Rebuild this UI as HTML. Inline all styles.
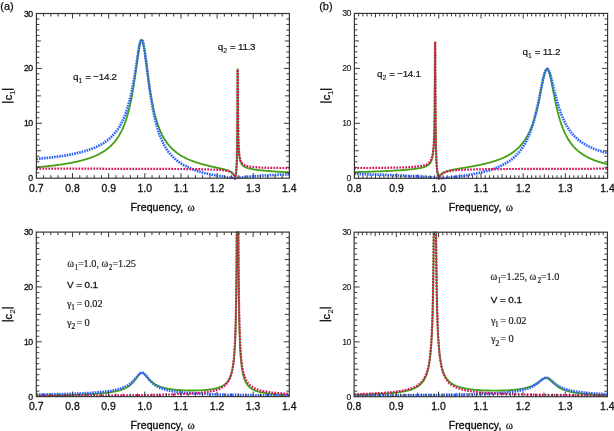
<!DOCTYPE html>
<html><head><meta charset="utf-8"><title>Fano</title><style>
html,body{margin:0;padding:0;background:#fff;}
body{width:614px;height:431px;overflow:hidden;}
svg{display:block;filter:blur(0.3px);}
text{font-family:"Liberation Sans",sans-serif;fill:#1a1a1a;}
.tl{font-size:10.4px;stroke:#111;fill:#111;stroke-width:0.3px;letter-spacing:0.05px;}
.yl{font-size:8.7px;letter-spacing:-0.6px;stroke:#111;fill:#111;stroke-width:0.3px;}
.yr{stroke-width:0.1px;}
.xt{font-size:10.6px;letter-spacing:0.05px;stroke:#111;stroke-width:0.35px;fill:#111;}
.om{font-family:"Liberation Serif",serif;font-size:11px;stroke:#111;stroke-width:0.25px;fill:#111;}
.bar{fill:#111;}
.ytc{font-size:11px;stroke:#111;fill:#111;stroke-width:0.35px;}
.yts{font-size:7.6px;stroke:#111;stroke-width:0.1px;}
.pl{font-size:11px;stroke:#111;fill:#111;stroke-width:0.25px;}
.q{font-size:9.8px;letter-spacing:-0.25px;stroke:#111;fill:#111;stroke-width:0.2px;}
.qs{font-size:7px;stroke-width:0.1px;}
.pm{font-family:"Liberation Serif",serif;font-size:10.3px;}
.pw{font-size:10.8px;}
.ps{font-size:7.4px;}
.pg{font-size:8px;}
.pv{font-size:9.8px;letter-spacing:-0.05px;stroke:#111;fill:#111;stroke-width:0.3px;}
</style></head><body>
<svg width="614" height="431" viewBox="0 0 614 431">
<defs><clipPath id="clip_at"><rect x="36.40" y="13.00" width="253.00" height="166.70"/></clipPath>
<clipPath id="clip_bt"><rect x="354.40" y="12.90" width="253.20" height="166.90"/></clipPath>
<clipPath id="clip_ab"><rect x="36.30" y="231.60" width="253.00" height="166.50"/></clipPath>
<clipPath id="clip_bb"><rect x="354.10" y="231.70" width="253.30" height="166.50"/></clipPath></defs>
<rect width="614" height="431" fill="#fff"/>
<g clip-path="url(#clip_at)">
<path d="M36.4,167.3 37.1,167.2 37.8,167.1 38.4,167.1 39.1,167.0 39.8,167.0 40.5,166.9 41.1,166.8 41.8,166.8 42.5,166.7 43.2,166.6 43.8,166.6 44.5,166.5 45.2,166.4 45.9,166.4 46.5,166.3 47.2,166.2 47.9,166.2 48.6,166.1 49.2,166.0 49.9,165.9 50.6,165.9 51.3,165.8 51.9,165.7 52.6,165.6 53.3,165.5 54.0,165.5 54.6,165.4 55.3,165.3 56.0,165.2 56.7,165.1 57.3,165.0 58.0,164.9 58.7,164.8 59.4,164.7 60.0,164.6 60.7,164.6 61.4,164.5 62.1,164.4 62.7,164.3 63.4,164.1 64.1,164.0 64.8,163.9 65.4,163.8 66.1,163.7 66.8,163.6 67.5,163.5 68.1,163.4 68.8,163.2 69.5,163.1 70.2,163.0 70.7,162.9 71.2,162.8 71.7,162.7 72.2,162.6 72.7,162.5 73.2,162.4 73.7,162.3 74.2,162.2 74.7,162.1 75.2,162.0 75.7,161.9 76.2,161.8 76.7,161.7 77.2,161.5 77.8,161.4 78.3,161.3 78.8,161.2 79.3,161.1 79.8,160.9 80.3,160.8 80.8,160.7 81.3,160.6 81.8,160.4 82.3,160.3 82.8,160.1 83.3,160.0 83.8,159.9 84.3,159.7 84.8,159.6 85.3,159.4 85.9,159.3 86.4,159.1 86.9,159.0 87.4,158.8 87.9,158.6 88.4,158.5 88.9,158.3 89.4,158.1 89.9,158.0 90.4,157.8 90.9,157.6 91.4,157.4 91.9,157.2 92.4,157.0 92.9,156.8 93.4,156.6 94.0,156.4 94.5,156.2 95.0,156.0 95.5,155.8 96.0,155.5 96.5,155.3 97.0,155.1 97.5,154.8 98.0,154.6 98.5,154.3 99.0,154.1 99.5,153.8 100.0,153.6 100.5,153.3 101.0,153.0 101.5,152.7 102.1,152.4 102.6,152.1 103.1,151.8 103.6,151.5 104.1,151.2 104.6,150.8 105.1,150.5 105.6,150.1 106.1,149.8 106.6,149.4 107.1,149.0 107.6,148.6 108.0,148.3 108.3,148.1 108.6,147.8 109.0,147.5 109.3,147.2 109.7,146.9 110.0,146.6 110.3,146.3 110.7,146.0 111.0,145.7 111.3,145.4 111.7,145.0 112.0,144.7 112.4,144.3 112.7,144.0 113.0,143.6 113.4,143.3 113.7,142.9 114.0,142.5 114.4,142.1 114.7,141.7 115.1,141.3 115.4,140.9 115.7,140.4 116.1,140.0 116.4,139.5 116.7,139.1 117.1,138.6 117.4,138.1 117.8,137.6 118.1,137.1 118.4,136.6 118.8,136.0 119.1,135.5 119.4,134.9 119.8,134.3 120.1,133.7 120.5,133.1 120.8,132.5 121.1,131.8 121.5,131.2 121.8,130.5 122.1,129.8 122.5,129.0 122.8,128.3 123.2,127.5 123.5,126.7 123.8,125.9 124.2,125.1 124.5,124.2 124.7,123.8 124.8,123.3 125.0,122.9 125.2,122.4 125.3,121.9 125.5,121.4 125.7,121.0 125.9,120.5 126.0,120.0 126.2,119.4 126.4,118.9 126.5,118.4 126.7,117.9 126.9,117.3 127.0,116.8 127.2,116.2 127.4,115.6 127.5,115.0 127.7,114.4 127.9,113.8 128.0,113.2 128.2,112.6 128.4,112.0 128.6,111.3 128.7,110.7 128.9,110.0 129.1,109.3 129.2,108.6 129.4,107.9 129.6,107.2 129.7,106.5 129.9,105.7 130.1,105.0 130.2,104.2 130.4,103.4 130.6,102.6 130.7,101.8 130.9,101.3 131.0,100.8 131.1,100.3 131.2,99.8 131.3,99.3 131.4,98.7 131.5,98.2 131.6,97.7 131.7,97.2 131.8,96.6 131.9,96.1 132.0,95.6 132.1,95.0 132.2,94.5 132.3,94.0 132.3,93.5 132.4,93.0 132.5,92.4 132.6,91.9 132.7,91.3 132.8,90.8 132.9,90.3 133.0,89.8 133.1,89.2 133.2,88.7 133.2,88.2 133.3,87.6 133.4,87.1 133.5,86.5 133.6,86.0 133.7,85.4 133.8,84.9 133.8,84.3 133.9,83.8 134.0,83.2 134.1,82.7 134.2,82.2 134.3,81.6 134.3,81.1 134.4,80.6 134.5,80.0 134.6,79.5 134.7,78.9 134.7,78.4 134.8,77.8 134.9,77.3 135.0,76.7 135.0,76.2 135.1,75.6 135.2,75.1 135.3,74.5 135.4,73.9 135.4,73.4 135.5,72.8 135.6,72.2 135.7,71.7 135.7,71.1 135.8,70.6 135.9,70.1 136.0,69.5 136.0,69.0 136.1,68.5 136.2,67.9 136.2,67.4 136.3,66.9 136.4,66.3 136.5,65.8 136.5,65.2 136.6,64.7 136.7,64.2 136.8,63.6 136.8,63.1 136.9,62.6 137.0,62.0 137.0,61.5 137.1,60.9 137.2,60.4 137.3,59.9 137.3,59.3 137.4,58.8 137.5,58.3 137.6,57.7 137.6,57.1 137.7,56.5 137.8,56.0 137.9,55.4 138.0,54.9 138.0,54.3 138.1,53.7 138.2,53.2 138.3,52.7 138.4,52.1 138.4,51.6 138.5,51.1 138.6,50.5 138.7,50.0 138.8,49.4 138.9,48.9 138.9,48.4 139.0,47.8 139.1,47.3 139.2,46.7 139.3,46.2 139.4,45.7 139.5,45.2 139.6,44.7 139.7,44.2 139.9,43.6 140.0,43.1 140.1,42.7 140.2,42.2 140.4,41.7 140.5,41.2 140.7,40.8 140.9,40.4 141.1,40.0 141.4,39.8 141.9,39.9 142.2,40.2 142.4,40.6 142.5,41.0 142.7,41.5 142.8,42.0 143.0,42.5 143.1,42.9 143.2,43.5 143.3,44.0 143.4,44.5 143.6,45.0 143.7,45.5 143.8,46.1 143.8,46.6 143.9,47.1 144.0,47.7 144.1,48.2 144.2,48.7 144.3,49.3 144.4,49.8 144.5,50.4 144.6,50.9 144.6,51.4 144.7,52.0 144.8,52.5 144.9,53.1 144.9,53.6 145.0,54.2 145.1,54.7 145.2,55.3 145.3,55.9 145.3,56.4 145.4,57.0 145.5,57.5 145.6,58.0 145.6,58.6 145.7,59.1 145.8,59.7 145.8,60.2 145.9,60.8 146.0,61.3 146.1,61.9 146.1,62.4 146.2,63.0 146.3,63.5 146.4,64.1 146.4,64.7 146.5,65.2 146.6,65.8 146.6,66.3 146.7,66.9 146.8,67.4 146.9,68.0 146.9,68.6 147.0,69.1 147.1,69.7 147.1,70.2 147.2,70.8 147.3,71.3 147.4,71.9 147.4,72.4 147.5,73.0 147.6,73.5 147.7,74.1 147.7,74.6 147.8,75.1 147.9,75.7 147.9,76.2 148.0,76.8 148.1,77.3 148.2,77.8 148.2,78.4 148.3,79.0 148.4,79.5 148.5,80.1 148.6,80.7 148.6,81.2 148.7,81.8 148.8,82.4 148.9,82.9 149.0,83.5 149.0,84.0 149.1,84.6 149.2,85.1 149.3,85.6 149.4,86.2 149.4,86.7 149.5,87.2 149.6,87.7 149.7,88.3 149.8,88.9 149.9,89.4 149.9,90.0 150.0,90.5 150.1,91.1 150.2,91.6 150.3,92.2 150.4,92.7 150.5,93.2 150.5,93.7 150.6,94.3 150.7,94.8 150.8,95.3 150.9,95.9 151.0,96.4 151.1,96.9 151.2,97.5 151.3,98.0 151.4,98.5 151.5,99.0 151.6,99.5 151.7,100.1 151.8,100.6 151.9,101.1 152.0,101.7 152.1,102.2 152.2,102.7 152.3,103.2 152.4,103.7 152.5,104.2 152.7,105.3 152.9,106.1 153.0,106.9 153.2,107.7 153.4,108.4 153.5,109.2 153.7,109.9 153.9,110.7 154.0,111.4 154.2,112.1 154.4,112.8 154.5,113.5 154.7,114.1 154.9,114.8 155.1,115.4 155.2,116.1 155.4,116.7 155.6,117.3 155.7,117.9 155.9,118.5 156.1,119.1 156.2,119.6 156.4,120.2 156.6,120.7 156.7,121.3 156.9,121.8 157.1,122.4 157.2,122.9 157.4,123.4 157.6,123.9 157.8,124.4 157.9,124.9 158.1,125.3 158.3,125.8 158.4,126.3 158.6,126.7 158.8,127.2 158.9,127.6 159.1,128.1 159.4,128.9 159.8,129.7 160.1,130.5 160.5,131.3 160.8,132.1 161.1,132.8 161.5,133.5 161.8,134.2 162.1,134.9 162.5,135.5 162.8,136.2 163.2,136.8 163.5,137.4 163.8,138.0 164.2,138.6 164.5,139.1 164.8,139.7 165.2,140.2 165.5,140.7 165.9,141.2 166.2,141.7 166.5,142.2 166.9,142.7 167.2,143.1 167.5,143.6 167.9,144.0 168.2,144.4 168.6,144.9 168.9,145.3 169.2,145.7 169.6,146.1 169.9,146.4 170.2,146.8 170.6,147.2 170.9,147.5 171.3,147.9 171.6,148.2 171.9,148.6 172.3,148.9 172.6,149.2 172.9,149.5 173.3,149.8 173.6,150.1 174.0,150.4 174.3,150.7 174.6,151.0 175.0,151.3 175.3,151.6 175.6,151.8 176.0,152.1 176.5,152.5 177.0,152.9 177.5,153.3 178.0,153.6 178.5,154.0 179.0,154.3 179.5,154.6 180.0,155.0 180.5,155.3 181.0,155.6 181.6,155.9 182.1,156.2 182.6,156.5 183.1,156.8 183.6,157.0 184.1,157.3 184.6,157.6 185.1,157.8 185.6,158.1 186.1,158.3 186.6,158.6 187.1,158.8 187.6,159.0 188.1,159.3 188.6,159.5 189.1,159.7 189.7,159.9 190.2,160.1 190.7,160.3 191.2,160.5 191.7,160.7 192.2,160.9 192.7,161.1 193.2,161.3 193.7,161.5 194.2,161.7 194.7,161.8 195.2,162.0 195.7,162.2 196.2,162.4 196.7,162.5 197.2,162.7 197.8,162.8 198.3,163.0 198.8,163.2 199.3,163.3 199.8,163.5 200.3,163.6 200.8,163.8 201.3,163.9 201.8,164.0 202.3,164.2 202.8,164.3 203.3,164.5 203.8,164.6 204.3,164.7 204.8,164.9 205.3,165.0 205.9,165.1 206.4,165.2 206.9,165.4 207.4,165.5 207.9,165.6 208.4,165.7 208.9,165.9 209.4,166.0 209.9,166.1 210.4,166.2 210.9,166.3 211.4,166.5 211.9,166.6 212.4,166.7 212.9,166.8 213.4,166.9 214.0,167.0 214.5,167.1 215.0,167.2 215.5,167.4 216.0,167.5 216.5,167.6 217.0,167.7 217.5,167.8 218.0,167.9 218.5,168.0 219.0,168.1 219.5,168.3 220.0,168.4 220.5,168.5 221.0,168.6 221.6,168.7 222.1,168.8 222.6,169.0 223.1,169.1 223.6,169.2 224.1,169.4 224.6,169.5 225.1,169.6 225.6,169.8 226.1,169.9 226.6,170.1 227.1,170.2 227.5,170.4 228.0,170.5 228.4,170.7 228.8,170.9 229.3,171.1 229.7,171.3 230.1,171.5 230.5,171.7 230.9,171.9 231.2,172.1 231.6,172.4 231.9,172.6 232.2,172.9 232.6,173.2 232.9,173.5 233.1,173.8 233.4,174.2 233.7,174.5 233.9,174.9 234.1,175.3 234.3,175.7 234.5,176.1 234.7,176.6 234.8,177.0 235.0,177.5 235.1,177.9 235.3,177.5 235.5,177.1 235.6,176.5 235.7,176.0 235.7,175.5 235.8,175.0 235.9,174.4 236.0,173.8 236.0,173.3 236.1,172.7 236.2,172.1 236.2,171.5 236.3,171.0 236.3,170.4 236.4,169.8 236.4,169.2 236.5,168.6 236.5,168.0 236.5,167.4 236.6,166.7 236.6,166.2 236.6,165.6 236.6,165.0 236.7,164.4 236.7,163.8 236.7,163.3 236.7,162.7 236.8,162.1 236.8,161.5 236.8,160.9 236.8,160.3 236.9,159.7 236.9,159.1 236.9,158.5 236.9,157.9 236.9,157.3 236.9,156.7 236.9,156.1 237.0,155.5 237.0,154.9 237.0,154.3 237.0,153.7 237.0,153.1 237.0,152.5 237.0,151.9 237.1,151.3 237.1,150.7 237.1,150.1 237.1,149.5 237.1,148.9 237.1,148.3 237.1,147.7 237.1,147.0 237.1,146.4 237.1,145.8 237.1,145.2 237.2,144.5 237.2,143.9 237.2,143.3 237.2,142.7 237.2,142.1 237.2,141.5 237.2,140.8 237.2,140.2 237.2,139.6 237.2,139.0 237.2,138.3 237.2,137.7 237.2,137.1 237.3,136.4 237.3,135.8 237.3,135.2 237.3,134.5 237.3,133.9 237.3,133.3 237.3,132.6 237.3,131.9 237.3,131.3 237.3,130.7 237.3,130.1 237.3,129.5 237.3,128.8 237.3,128.2 237.3,127.5 237.3,126.8 237.3,126.1 237.3,125.5 237.3,124.9 237.4,124.3 237.4,123.6 237.4,123.0 237.4,122.3 237.4,121.7 237.4,121.0 237.4,120.4 237.4,119.7 237.4,119.0 237.4,118.4 237.4,117.8 237.4,117.2 237.4,116.6 237.4,116.0 237.4,115.3 237.4,114.7 237.4,114.0 237.4,113.4 237.4,112.7 237.4,112.0 237.4,111.3 237.4,110.7 237.4,110.0 237.4,109.3 237.4,108.5 237.4,107.8 237.5,107.1 237.5,106.4 237.5,105.6 237.5,105.0 237.5,104.4 237.5,103.8 237.5,103.2 237.5,102.6 237.5,102.0 237.5,101.4 237.5,100.7 237.5,100.1 237.5,99.5 237.5,98.8 237.5,98.2 237.5,97.6 237.5,96.9 237.5,96.3 237.5,95.6 237.5,95.0 237.5,94.3 237.5,93.7 237.5,93.0 237.5,92.4 237.5,91.7 237.5,91.0 237.5,90.4 237.5,89.7 237.5,89.1 237.5,88.4 237.5,87.8 237.5,87.1 237.5,86.5 237.5,85.9 237.5,85.2 237.6,84.6 237.6,84.0 237.6,83.3 237.6,82.7 237.6,82.1 237.6,81.5 237.6,80.8 237.6,80.0 237.6,79.3 237.6,78.6 237.6,77.9 237.6,77.3 237.6,76.6 237.6,76.0 237.6,75.4 237.6,74.7 237.6,74.1 237.6,73.5 237.6,72.9 237.6,72.2 237.6,71.6 237.6,71.0 237.6,70.4 237.6,69.8 237.7,69.2 237.7,69.8 237.7,70.4 237.7,71.0 237.7,71.6 237.7,72.3 237.7,72.9 237.7,73.5 237.7,74.2 237.7,74.8 237.7,75.4 237.8,76.0 237.8,76.6 237.8,77.3 237.8,78.0 237.8,78.6 237.8,79.3 237.8,79.9 237.8,80.5 237.8,81.2 237.8,81.8 237.8,82.4 237.8,83.1 237.8,83.7 237.8,84.4 237.8,85.0 237.8,85.7 237.8,86.3 237.8,87.0 237.8,87.6 237.8,88.3 237.8,88.9 237.8,89.5 237.8,90.2 237.8,90.8 237.8,91.5 237.8,92.1 237.9,92.7 237.9,93.4 237.9,94.0 237.9,94.6 237.9,95.2 237.9,95.8 237.9,96.5 237.9,97.1 237.9,97.7 237.9,98.4 237.9,99.1 237.9,99.8 237.9,100.4 237.9,101.1 237.9,101.7 237.9,102.4 237.9,103.0 237.9,103.7 237.9,104.3 237.9,104.9 237.9,105.6 237.9,106.2 237.9,106.8 237.9,107.4 237.9,108.1 238.0,108.7 238.0,109.4 238.0,110.0 238.0,110.6 238.0,111.2 238.0,111.9 238.0,112.5 238.0,113.1 238.0,113.8 238.0,114.4 238.0,115.1 238.0,115.7 238.0,116.4 238.0,117.0 238.0,117.6 238.0,118.2 238.0,118.9 238.0,119.5 238.1,120.2 238.1,120.8 238.1,121.4 238.1,122.0 238.1,122.7 238.1,123.3 238.1,123.9 238.1,124.5 238.1,125.2 238.1,125.8 238.1,126.4 238.1,127.0 238.1,127.6 238.2,128.3 238.2,128.8 238.2,129.5 238.2,130.1 238.2,130.7 238.2,131.3 238.2,131.9 238.2,132.5 238.2,133.2 238.2,133.8 238.3,134.4 238.3,135.0 238.3,135.6 238.3,136.2 238.3,136.8 238.3,137.4 238.3,138.0 238.4,138.6 238.4,139.2 238.4,139.8 238.4,140.4 238.4,141.0 238.4,141.6 238.5,142.2 238.5,142.8 238.5,143.4 238.5,144.0 238.5,144.6 238.6,145.1 238.6,145.7 238.6,146.3 238.6,146.9 238.7,147.5 238.7,148.1 238.7,148.6 238.7,149.2 238.8,149.9 238.8,150.5 238.9,151.1 238.9,151.7 238.9,152.3 239.0,153.0 239.1,153.5 239.1,154.1 239.2,154.7 239.2,155.3 239.3,155.8 239.4,156.4 239.4,156.9 239.5,157.5 239.6,158.0 239.7,158.5 239.8,159.1 239.9,159.6 240.0,160.1 240.1,160.6 240.3,161.0 240.4,161.5 240.6,162.0 240.8,162.4 241.0,162.8 241.2,163.2 241.4,163.6 241.6,164.0 241.8,164.4 242.1,164.7 242.4,165.0 242.7,165.3 243.0,165.6 243.3,165.9 243.7,166.2 244.1,166.4 244.4,166.6 244.8,166.9 245.2,167.1 245.6,167.3 246.1,167.4 246.5,167.6 246.9,167.8 247.4,167.9 247.9,168.1 248.3,168.2 248.9,168.3 249.4,168.5 249.9,168.6 250.4,168.7 250.9,168.8 251.4,168.9 251.9,169.0 252.6,169.1 253.3,169.3 254.0,169.4 254.6,169.5 255.3,169.6 256.0,169.7 256.7,169.8 257.3,169.9 258.0,169.9 258.7,170.0 259.4,170.1 260.0,170.2 260.7,170.3 261.4,170.3 262.1,170.4 262.7,170.5 263.4,170.5 264.1,170.6 264.8,170.7 265.4,170.7 266.1,170.8 266.8,170.8 267.5,170.9 268.1,171.0 268.8,171.0 269.5,171.1 270.2,171.1 270.8,171.2 271.5,171.2 272.2,171.3 272.9,171.3 273.5,171.4 274.2,171.4 274.9,171.5 275.6,171.5 276.2,171.6 276.9,171.6 277.6,171.7 278.3,171.7 278.9,171.7 279.6,171.8 280.3,171.8 281.0,171.9 281.6,171.9 282.3,171.9 283.0,172.0 283.7,172.0 284.3,172.1 285.0,172.1 285.7,172.1 286.4,172.2 287.0,172.2 287.7,172.2 288.4,172.3 289.1,172.3 289.4,172.3" fill="none" stroke="#46a218" stroke-width="1.85" stroke-linejoin="round"/>
<path d="M36.4,159.0 37.1,158.9 37.8,158.9 38.4,158.8 39.1,158.7 39.8,158.7 40.5,158.6 41.1,158.6 41.8,158.5 42.5,158.4 43.2,158.4 43.8,158.3 44.5,158.2 45.2,158.1 45.9,158.1 46.5,158.0 47.2,157.9 47.9,157.9 48.6,157.8 49.2,157.7 49.9,157.6 50.6,157.5 51.3,157.5 51.9,157.4 52.6,157.3 53.3,157.2 54.0,157.1 54.6,157.0 55.3,156.9 56.0,156.9 56.7,156.8 57.3,156.7 58.0,156.6 58.7,156.5 59.4,156.4 60.0,156.3 60.7,156.2 61.4,156.1 62.1,156.0 62.7,155.9 63.4,155.8 64.1,155.7 64.8,155.6 65.4,155.4 66.1,155.3 66.8,155.2 67.5,155.1 68.1,155.0 68.8,154.9 69.5,154.7 70.0,154.6 70.5,154.5 71.0,154.4 71.5,154.3 72.0,154.2 72.5,154.1 73.0,154.0 73.5,153.9 74.0,153.8 74.5,153.7 75.1,153.6 75.6,153.5 76.1,153.4 76.6,153.3 77.1,153.1 77.6,153.0 78.1,152.9 78.6,152.8 79.1,152.7 79.6,152.5 80.1,152.4 80.6,152.3 81.1,152.1 81.6,152.0 82.1,151.9 82.6,151.7 83.2,151.6 83.7,151.5 84.2,151.3 84.7,151.2 85.2,151.0 85.7,150.9 86.2,150.7 86.7,150.5 87.2,150.4 87.7,150.2 88.2,150.0 88.7,149.9 89.2,149.7 89.7,149.5 90.2,149.3 90.7,149.2 91.3,149.0 91.8,148.8 92.3,148.6 92.8,148.4 93.3,148.2 93.8,148.0 94.3,147.8 94.8,147.6 95.3,147.3 95.8,147.1 96.3,146.9 96.8,146.6 97.3,146.4 97.8,146.2 98.3,145.9 98.8,145.7 99.4,145.4 99.9,145.1 100.4,144.9 100.9,144.6 101.4,144.3 101.9,144.0 102.4,143.7 102.9,143.4 103.4,143.1 103.9,142.8 104.4,142.4 104.9,142.1 105.4,141.7 105.9,141.4 106.4,141.0 106.9,140.6 107.5,140.3 107.8,140.0 108.1,139.7 108.5,139.5 108.8,139.2 109.1,138.9 109.5,138.6 109.8,138.3 110.2,138.0 110.5,137.7 110.8,137.4 111.2,137.1 111.5,136.8 111.8,136.4 112.2,136.1 112.5,135.7 112.9,135.4 113.2,135.0 113.5,134.7 113.9,134.3 114.2,133.9 114.5,133.5 114.9,133.1 115.2,132.7 115.6,132.3 115.9,131.9 116.2,131.4 116.6,131.0 116.9,130.5 117.2,130.1 117.6,129.6 117.9,129.1 118.3,128.6 118.6,128.1 118.9,127.6 119.3,127.0 119.6,126.5 119.9,125.9 120.3,125.3 120.6,124.7 121.0,124.1 121.3,123.5 121.6,122.8 122.0,122.1 122.3,121.5 122.6,120.8 123.0,120.0 123.3,119.3 123.7,118.5 124.0,117.7 124.3,116.9 124.7,116.1 125.0,115.3 125.2,114.8 125.3,114.4 125.5,113.9 125.7,113.5 125.9,113.0 126.0,112.5 126.2,112.0 126.4,111.6 126.5,111.1 126.7,110.6 126.9,110.0 127.0,109.5 127.2,109.0 127.4,108.5 127.5,107.9 127.7,107.4 127.9,106.8 128.0,106.2 128.2,105.7 128.4,105.1 128.6,104.5 128.7,103.9 128.9,103.3 129.1,102.6 129.2,102.0 129.4,101.4 129.6,100.7 129.7,100.0 129.9,99.4 130.1,98.7 130.2,98.0 130.4,97.3 130.6,96.5 130.7,95.8 130.9,95.3 131.0,94.8 131.1,94.3 131.2,93.8 131.3,93.3 131.4,92.8 131.5,92.2 131.6,91.7 131.7,91.2 131.9,90.7 132.0,90.2 132.1,89.7 132.2,89.2 132.3,88.6 132.4,88.1 132.5,87.6 132.6,87.1 132.7,86.6 132.8,86.0 132.9,85.5 133.0,85.0 133.1,84.5 133.2,83.9 133.3,83.4 133.3,82.9 133.4,82.4 133.5,81.9 133.6,81.3 133.7,80.8 133.8,80.3 133.9,79.7 134.0,79.2 134.1,78.6 134.2,78.1 134.3,77.6 134.4,77.0 134.5,76.5 134.5,76.0 134.6,75.5 134.7,74.9 134.8,74.4 134.9,73.9 135.0,73.3 135.1,72.8 135.2,72.3 135.2,71.7 135.3,71.2 135.4,70.6 135.5,70.1 135.6,69.5 135.7,69.0 135.8,68.4 135.8,67.8 135.9,67.3 136.0,66.7 136.1,66.2 136.2,65.6 136.3,65.0 136.4,64.5 136.5,63.9 136.5,63.3 136.6,62.8 136.7,62.2 136.8,61.6 136.9,61.1 137.0,60.5 137.1,59.9 137.1,59.4 137.2,58.8 137.3,58.2 137.4,57.7 137.5,57.1 137.6,56.6 137.7,56.0 137.8,55.5 137.8,55.0 137.9,54.4 138.0,53.9 138.1,53.4 138.2,52.8 138.3,52.3 138.4,51.8 138.4,51.2 138.5,50.7 138.6,50.2 138.7,49.6 138.8,49.1 138.9,48.6 139.0,48.1 139.1,47.5 139.2,47.0 139.3,46.5 139.4,46.0 139.5,45.5 139.7,45.0 139.8,44.5 139.9,44.0 140.0,43.5 140.1,43.0 140.3,42.5 140.4,42.1 140.6,41.6 140.8,41.2 141.0,40.8 141.2,40.4 141.5,40.2 142.0,40.3 142.3,40.6 142.5,41.0 142.7,41.4 142.9,41.9 143.0,42.3 143.2,42.8 143.3,43.3 143.4,43.8 143.5,44.3 143.6,44.8 143.7,45.3 143.8,45.9 143.9,46.4 144.0,46.9 144.1,47.4 144.2,48.0 144.3,48.5 144.4,49.0 144.5,49.5 144.6,50.1 144.7,50.6 144.7,51.2 144.8,51.7 144.9,52.2 145.0,52.8 145.1,53.3 145.1,53.9 145.2,54.5 145.3,55.1 145.4,55.6 145.4,56.1 145.5,56.7 145.6,57.2 145.7,57.8 145.7,58.3 145.8,58.9 145.9,59.4 145.9,60.0 146.0,60.5 146.1,61.1 146.2,61.7 146.2,62.3 146.3,62.8 146.4,63.4 146.5,64.0 146.5,64.6 146.6,65.1 146.7,65.7 146.7,66.3 146.8,66.9 146.9,67.5 147.0,68.1 147.0,68.6 147.1,69.2 147.2,69.8 147.2,70.4 147.3,71.0 147.4,71.6 147.5,72.1 147.5,72.7 147.6,73.3 147.7,73.9 147.8,74.5 147.8,75.0 147.9,75.6 148.0,76.2 148.0,76.8 148.1,77.3 148.2,77.9 148.3,78.5 148.3,79.0 148.4,79.6 148.5,80.2 148.5,80.7 148.6,81.3 148.7,81.8 148.8,82.4 148.8,82.9 148.9,83.5 149.0,84.0 149.1,84.6 149.1,85.1 149.2,85.6 149.3,86.2 149.3,86.7 149.4,87.2 149.5,87.8 149.6,88.4 149.7,88.9 149.7,89.5 149.8,90.0 149.9,90.6 150.0,91.1 150.0,91.7 150.1,92.2 150.2,92.8 150.3,93.3 150.4,93.9 150.4,94.4 150.5,94.9 150.6,95.5 150.7,96.0 150.8,96.5 150.9,97.1 150.9,97.7 151.0,98.2 151.1,98.8 151.2,99.3 151.3,99.8 151.4,100.4 151.5,100.9 151.6,101.4 151.6,102.0 151.7,102.5 151.8,103.0 151.9,103.6 152.0,104.1 152.1,104.7 152.2,105.2 152.3,105.7 152.4,106.3 152.5,106.8 152.7,107.9 152.9,108.8 153.0,109.7 153.2,110.6 153.4,111.4 153.5,112.3 153.7,113.1 153.9,113.9 154.0,114.7 154.2,115.5 154.4,116.3 154.5,117.0 154.7,117.8 154.9,118.5 155.1,119.2 155.2,119.9 155.4,120.6 155.6,121.3 155.7,122.0 155.9,122.6 156.1,123.3 156.2,123.9 156.4,124.6 156.6,125.2 156.7,125.8 156.9,126.4 157.1,127.0 157.2,127.5 157.4,128.1 157.6,128.7 157.8,129.2 157.9,129.8 158.1,130.3 158.3,130.8 158.4,131.3 158.6,131.8 158.8,132.3 158.9,132.8 159.1,133.3 159.3,133.8 159.4,134.3 159.6,134.7 159.8,135.2 159.9,135.6 160.1,136.1 160.3,136.5 160.6,137.3 161.0,138.2 161.3,139.0 161.6,139.8 162.0,140.5 162.3,141.2 162.6,142.0 163.0,142.7 163.3,143.3 163.7,144.0 164.0,144.6 164.3,145.2 164.7,145.9 165.0,146.4 165.3,147.0 165.7,147.6 166.0,148.1 166.4,148.7 166.7,149.2 167.0,149.7 167.4,150.2 167.7,150.7 168.0,151.1 168.4,151.6 168.7,152.1 169.1,152.5 169.4,152.9 169.7,153.3 170.1,153.8 170.4,154.2 170.7,154.6 171.1,154.9 171.4,155.3 171.8,155.7 172.1,156.0 172.4,156.4 172.8,156.7 173.1,157.1 173.4,157.4 173.8,157.7 174.1,158.1 174.5,158.4 174.8,158.7 175.1,159.0 175.5,159.3 175.8,159.6 176.1,159.9 176.5,160.1 176.8,160.4 177.2,160.7 177.5,160.9 178.0,161.3 178.5,161.7 179.0,162.1 179.5,162.4 180.0,162.8 180.5,163.1 181.0,163.4 181.6,163.8 182.1,164.1 182.6,164.4 183.1,164.7 183.6,165.0 184.1,165.3 184.6,165.5 185.1,165.8 185.6,166.1 186.1,166.3 186.6,166.6 187.1,166.9 187.6,167.1 188.1,167.3 188.6,167.6 189.1,167.8 189.7,168.0 190.2,168.2 190.7,168.5 191.2,168.7 191.7,168.9 192.2,169.1 192.7,169.3 193.2,169.5 193.7,169.7 194.2,169.8 194.7,170.0 195.2,170.2 195.7,170.4 196.2,170.6 196.7,170.7 197.2,170.9 197.8,171.1 198.3,171.2 198.8,171.4 199.3,171.5 199.8,171.7 200.3,171.8 200.8,172.0 201.3,172.1 201.8,172.3 202.3,172.4 202.8,172.6 203.3,172.7 203.8,172.8 204.3,173.0 204.8,173.1 205.3,173.2 205.9,173.3 206.4,173.5 206.9,173.6 207.4,173.7 207.9,173.8 208.4,173.9 208.9,174.1 209.4,174.2 209.9,174.3 210.4,174.4 210.9,174.5 211.4,174.6 211.9,174.7 212.4,174.8 212.9,174.9 213.4,175.0 214.0,175.1 214.5,175.2 215.0,175.3 215.5,175.4 216.1,175.5 216.8,175.6 217.5,175.8 218.2,175.9 218.9,176.0 219.5,176.1 220.2,176.2 220.9,176.3 221.6,176.4 222.2,176.5 222.9,176.6 223.6,176.7 224.3,176.8 224.9,176.9 225.6,177.0 226.3,177.1 226.8,177.2 227.4,177.3 227.9,177.4 228.4,177.4 229.0,177.5 229.5,177.6 230.0,177.6 230.6,177.7 231.1,177.8 231.6,177.9 232.2,177.9 232.7,178.0 233.3,178.0 233.8,178.1 234.3,178.2 234.9,178.2 235.5,178.1 236.0,178.0 236.5,178.0 237.1,177.9 237.6,177.9 238.2,177.8 238.7,177.7 239.3,177.7 239.8,177.6 240.4,177.6 240.9,177.5 241.5,177.4 242.0,177.4 242.5,177.3 243.1,177.3 243.6,177.2 244.2,177.2 244.7,177.1 245.3,177.1 245.8,177.0 246.4,177.0 247.0,176.9 247.5,176.9 248.1,176.8 248.7,176.8 249.4,176.7 250.1,176.6 250.7,176.6 251.4,176.5 252.1,176.5 252.8,176.4 253.5,176.4 254.1,176.3 254.8,176.3 255.5,176.2 256.2,176.2 256.8,176.1 257.5,176.1 258.2,176.0 258.9,176.0 259.5,175.9 260.2,175.9 260.9,175.8 261.6,175.8 262.2,175.7 262.9,175.7 263.6,175.6 264.3,175.6 264.9,175.5 265.6,175.5 266.3,175.4 267.0,175.4 267.6,175.4 268.3,175.3 269.0,175.3 269.7,175.2 270.3,175.2 271.0,175.2 271.7,175.1 272.4,175.1 273.0,175.0 273.7,175.0 274.4,175.0 275.1,174.9 275.7,174.9 276.4,174.8 277.1,174.8 277.8,174.8 278.4,174.7 279.1,174.7 279.8,174.7 280.5,174.6 281.1,174.6 281.8,174.6 282.5,174.5 283.2,174.5 283.8,174.5 284.5,174.4 285.2,174.4 285.9,174.4 286.5,174.3 287.2,174.3 287.9,174.3 288.6,174.2 289.2,174.2 289.4,174.2" fill="none" stroke="#2d62fa" stroke-width="2.7" stroke-dasharray="1.6 0.95"/>
<path d="M36.4,168.7 37.1,168.7 37.8,168.7 38.4,168.7 39.1,168.7 39.8,168.7 40.5,168.7 41.1,168.7 41.8,168.7 42.5,168.7 43.2,168.7 43.8,168.7 44.5,168.7 45.2,168.7 45.9,168.7 46.5,168.7 47.2,168.7 47.9,168.7 48.6,168.7 49.2,168.7 49.9,168.7 50.6,168.7 51.3,168.7 51.9,168.7 52.6,168.7 53.3,168.7 54.0,168.7 54.6,168.7 55.3,168.7 56.0,168.7 56.7,168.7 57.3,168.7 58.0,168.7 58.7,168.7 59.4,168.7 60.0,168.7 60.7,168.7 61.4,168.7 62.1,168.7 62.7,168.7 63.4,168.7 64.1,168.7 64.8,168.7 65.4,168.7 66.1,168.7 66.8,168.7 67.5,168.7 68.1,168.7 68.8,168.7 69.5,168.7 70.2,168.7 70.8,168.7 71.5,168.7 72.2,168.7 72.9,168.7 73.5,168.7 74.2,168.7 74.9,168.7 75.6,168.7 76.2,168.7 76.9,168.7 77.6,168.7 78.3,168.7 78.9,168.7 79.6,168.7 80.3,168.7 81.0,168.7 81.6,168.7 82.3,168.7 83.0,168.7 83.7,168.7 84.3,168.7 85.0,168.7 85.7,168.7 86.4,168.7 87.0,168.7 87.7,168.7 88.4,168.7 89.1,168.7 89.7,168.7 90.4,168.7 91.1,168.7 91.8,168.7 92.4,168.7 93.1,168.7 93.8,168.7 94.5,168.7 95.1,168.7 95.8,168.7 96.5,168.7 97.2,168.7 97.8,168.7 98.5,168.7 99.2,168.7 99.9,168.7 100.5,168.7 101.2,168.7 101.9,168.7 102.6,168.7 103.2,168.8 103.9,168.8 104.6,168.8 105.3,168.8 105.9,168.8 106.6,168.8 107.3,168.8 108.0,168.8 108.6,168.8 109.3,168.8 110.0,168.8 110.7,168.8 111.3,168.8 112.0,168.8 112.7,168.8 113.4,168.8 114.0,168.8 114.7,168.8 115.4,168.8 116.1,168.8 116.7,168.8 117.4,168.8 118.1,168.8 118.8,168.8 119.4,168.8 120.1,168.8 120.8,168.8 121.5,168.8 122.1,168.8 122.8,168.8 123.5,168.8 124.2,168.8 124.8,168.8 125.5,168.8 126.2,168.8 126.9,168.8 127.5,168.8 128.2,168.8 128.9,168.8 129.6,168.8 130.2,168.8 130.9,168.8 131.5,168.8 132.1,168.8 132.7,168.8 133.3,168.8 133.9,168.8 134.5,168.8 135.1,168.8 135.7,168.8 136.3,168.8 136.9,168.8 137.5,168.8 138.1,168.8 138.7,168.8 139.3,168.8 139.9,168.8 140.5,168.8 141.1,168.8 141.7,168.8 142.3,168.8 142.9,168.8 143.5,168.8 144.1,168.8 144.7,168.8 145.3,168.8 145.9,168.8 146.5,168.8 147.1,168.8 147.7,168.8 148.3,168.8 148.9,168.8 149.5,168.8 150.1,168.8 150.7,168.8 151.3,168.9 151.9,168.9 152.5,168.9 153.2,168.9 153.9,168.9 154.5,168.9 155.2,168.9 155.9,168.9 156.6,168.9 157.2,168.9 157.9,168.9 158.6,168.9 159.3,168.9 159.9,168.9 160.6,168.9 161.3,168.9 162.0,168.9 162.6,168.9 163.3,168.9 164.0,168.9 164.7,168.9 165.3,168.9 166.0,168.9 166.7,168.9 167.4,168.9 168.0,168.9 168.7,168.9 169.4,168.9 170.1,168.9 170.7,168.9 171.4,168.9 172.1,168.9 172.8,168.9 173.4,168.9 174.1,169.0 174.8,169.0 175.5,169.0 176.1,169.0 176.8,169.0 177.5,169.0 178.2,169.0 178.8,169.0 179.5,169.0 180.2,169.0 180.9,169.0 181.6,169.0 182.2,169.0 182.9,169.0 183.6,169.0 184.3,169.0 184.9,169.0 185.6,169.0 186.3,169.0 187.0,169.1 187.6,169.1 188.3,169.1 189.0,169.1 189.7,169.1 190.3,169.1 191.0,169.1 191.7,169.1 192.4,169.1 193.0,169.1 193.7,169.1 194.4,169.1 195.1,169.1 195.7,169.2 196.4,169.2 197.1,169.2 197.8,169.2 198.4,169.2 199.1,169.2 199.8,169.2 200.5,169.2 201.1,169.2 201.8,169.2 202.5,169.3 203.2,169.3 203.8,169.3 204.5,169.3 205.2,169.3 205.9,169.3 206.5,169.4 207.2,169.4 207.9,169.4 208.6,169.4 209.2,169.4 209.9,169.4 210.6,169.5 211.3,169.5 211.9,169.5 212.6,169.5 213.3,169.6 214.0,169.6 214.6,169.6 215.3,169.7 216.0,169.7 216.7,169.7 217.3,169.8 218.0,169.8 218.7,169.9 219.4,169.9 220.0,170.0 220.7,170.0 221.4,170.1 222.1,170.1 222.7,170.2 223.4,170.3 224.1,170.4 224.8,170.5 225.4,170.6 226.1,170.7 226.6,170.8 227.1,170.9 227.6,171.0 228.1,171.1 228.6,171.2 229.0,171.4 229.5,171.5 229.9,171.7 230.3,171.9 230.7,172.1 231.1,172.3 231.5,172.5 231.9,172.8 232.2,173.0 232.5,173.3 232.8,173.6 233.1,173.9 233.4,174.3 233.6,174.6 233.9,175.0 234.1,175.4 234.3,175.8 234.5,176.2 234.7,176.7 234.8,177.1 235.0,177.6 235.1,178.1 235.3,177.6 235.4,177.1 235.5,176.6 235.6,176.1 235.7,175.5 235.8,175.0 235.9,174.4 235.9,173.8 236.0,173.3 236.1,172.7 236.1,172.2 236.2,171.6 236.2,171.0 236.3,170.4 236.3,169.8 236.4,169.2 236.4,168.5 236.5,167.9 236.5,167.3 236.5,166.6 236.6,166.0 236.6,165.4 236.6,164.8 236.7,164.2 236.7,163.6 236.7,163.1 236.7,162.5 236.7,161.9 236.8,161.3 236.8,160.7 236.8,160.1 236.8,159.5 236.8,158.9 236.9,158.3 236.9,157.7 236.9,157.1 236.9,156.5 236.9,155.9 236.9,155.4 237.0,154.7 237.0,154.1 237.0,153.5 237.0,152.9 237.0,152.3 237.0,151.7 237.0,151.1 237.0,150.5 237.1,149.9 237.1,149.3 237.1,148.7 237.1,148.1 237.1,147.4 237.1,146.9 237.1,146.2 237.1,145.6 237.1,145.0 237.1,144.4 237.2,143.8 237.2,143.1 237.2,142.5 237.2,141.9 237.2,141.3 237.2,140.6 237.2,140.0 237.2,139.4 237.2,138.8 237.2,138.1 237.2,137.5 237.2,136.9 237.2,136.3 237.3,135.7 237.3,135.0 237.3,134.4 237.3,133.8 237.3,133.2 237.3,132.6 237.3,132.0 237.3,131.4 237.3,130.7 237.3,130.0 237.3,129.4 237.3,128.8 237.3,128.2 237.3,127.6 237.3,126.9 237.3,126.3 237.3,125.6 237.3,124.9 237.3,124.3 237.4,123.7 237.4,123.1 237.4,122.4 237.4,121.8 237.4,121.2 237.4,120.5 237.4,119.9 237.4,119.2 237.4,118.6 237.4,118.0 237.4,117.3 237.4,116.6 237.4,115.9 237.4,115.3 237.4,114.7 237.4,114.1 237.4,113.5 237.4,112.8 237.4,112.2 237.4,111.6 237.4,110.9 237.4,110.3 237.4,109.6 237.4,108.9 237.4,108.3 237.5,107.6 237.5,106.9 237.5,106.2 237.5,105.5 237.5,104.8 237.5,104.1 237.5,103.4 237.5,102.7 237.5,102.0 237.5,101.2 237.5,100.5 237.5,99.8 237.5,99.0 237.5,98.3 237.5,97.7 237.5,97.1 237.5,96.5 237.5,95.9 237.5,95.3 237.5,94.7 237.5,94.0 237.5,93.4 237.5,92.8 237.5,92.2 237.5,91.6 237.5,91.0 237.5,90.4 237.5,89.8 237.5,89.2 237.5,88.6 237.5,87.9 237.5,87.3 237.6,86.7 237.6,86.1 237.6,85.4 237.6,84.7 237.6,83.9 237.6,83.2 237.6,82.5 237.6,81.8 237.6,81.1 237.6,80.4 237.6,79.7 237.6,79.1 237.6,78.4 237.6,77.8 237.6,77.2 237.6,76.6 237.6,75.9 237.6,75.2 237.6,74.5 237.6,73.9 237.6,73.2 237.6,72.6 237.6,71.9 237.6,71.3 237.7,70.7 237.7,70.1 237.7,69.5 237.7,70.0 237.7,70.7 237.7,71.3 237.7,71.9 237.8,72.5 237.8,73.2 237.8,73.8 237.8,74.4 237.8,75.1 237.8,75.8 237.8,76.4 237.8,77.0 237.8,77.7 237.8,78.3 237.8,79.0 237.8,79.7 237.8,80.3 237.8,81.0 237.8,81.6 237.8,82.3 237.8,83.0 237.8,83.7 237.8,84.4 237.8,85.1 237.8,85.8 237.8,86.6 237.9,87.3 237.9,88.0 237.9,88.7 237.9,89.4 237.9,90.1 237.9,90.8 237.9,91.5 237.9,92.2 237.9,92.9 237.9,93.6 237.9,94.3 237.9,95.0 237.9,95.6 237.9,96.3 237.9,97.0 237.9,97.6 237.9,98.3 237.9,98.9 237.9,99.5 237.9,100.2 237.9,100.8 237.9,101.4 237.9,102.0 238.0,102.6 238.0,103.3 238.0,104.0 238.0,104.7 238.0,105.3 238.0,106.0 238.0,106.6 238.0,107.3 238.0,107.9 238.0,108.5 238.0,109.1 238.0,109.7 238.0,110.4 238.0,111.0 238.0,111.7 238.0,112.3 238.0,113.0 238.0,113.6 238.0,114.2 238.1,114.8 238.1,115.4 238.1,116.0 238.1,116.6 238.1,117.3 238.1,117.9 238.1,118.5 238.1,119.1 238.1,119.7 238.1,120.4 238.1,121.0 238.1,121.6 238.1,122.2 238.1,122.8 238.2,123.4 238.2,124.0 238.2,124.6 238.2,125.3 238.2,125.9 238.2,126.5 238.2,127.1 238.2,127.7 238.2,128.3 238.2,129.0 238.2,129.6 238.3,130.2 238.3,130.8 238.3,131.4 238.3,132.0 238.3,132.6 238.3,133.2 238.3,133.8 238.3,134.4 238.4,135.1 238.4,135.6 238.4,136.3 238.4,136.9 238.4,137.4 238.4,138.0 238.4,138.6 238.5,139.2 238.5,139.8 238.5,140.4 238.5,141.0 238.5,141.6 238.6,142.2 238.6,142.8 238.6,143.4 238.6,144.0 238.7,144.6 238.7,145.1 238.7,145.7 238.7,146.3 238.8,146.9 238.8,147.6 238.8,148.2 238.9,148.8 238.9,149.5 239.0,150.1 239.0,150.7 239.1,151.3 239.1,151.9 239.2,152.4 239.2,153.0 239.3,153.6 239.3,154.2 239.4,154.7 239.5,155.3 239.6,155.8 239.7,156.4 239.7,156.9 239.8,157.5 240.0,158.0 240.1,158.5 240.2,159.0 240.3,159.5 240.5,159.9 240.6,160.4 240.8,160.8 241.0,161.3 241.2,161.7 241.4,162.1 241.6,162.5 241.9,162.8 242.2,163.2 242.4,163.5 242.7,163.8 243.1,164.1 243.4,164.3 243.8,164.6 244.1,164.8 244.5,165.0 244.9,165.2 245.3,165.4 245.8,165.6 246.2,165.7 246.7,165.9 247.2,166.0 247.6,166.1 248.1,166.2 248.7,166.4 249.2,166.5 249.9,166.6 250.6,166.7 251.3,166.8 251.9,166.9 252.6,166.9 253.3,167.0 254.0,167.1 254.6,167.1 255.3,167.2 256.0,167.2 256.7,167.3 257.3,167.3 258.0,167.4 258.7,167.4 259.4,167.4 260.0,167.5 260.7,167.5 261.4,167.5 262.1,167.6 262.7,167.6 263.4,167.6 264.1,167.6 264.8,167.7 265.4,167.7 266.1,167.7 266.8,167.7 267.5,167.8 268.1,167.8 268.8,167.8 269.5,167.8 270.2,167.8 270.8,167.8 271.5,167.8 272.2,167.9 272.9,167.9 273.5,167.9 274.2,167.9 274.9,167.9 275.6,167.9 276.2,167.9 276.9,167.9 277.6,168.0 278.3,168.0 278.9,168.0 279.6,168.0 280.3,168.0 281.0,168.0 281.6,168.0 282.3,168.0 283.0,168.0 283.7,168.0 284.3,168.0 285.0,168.1 285.7,168.1 286.4,168.1 287.0,168.1 287.7,168.1 288.4,168.1 289.1,168.1 289.4,168.1" fill="none" stroke="#d8105e" stroke-width="2.2" stroke-dasharray="1.7 1.3"/>
</g>
<g clip-path="url(#clip_bt)">
<path d="M354.4,172.2 355.1,172.1 355.8,172.1 356.4,172.1 357.1,172.1 357.8,172.1 358.5,172.0 359.1,172.0 359.8,172.0 360.5,172.0 361.2,172.0 361.8,171.9 362.5,171.9 363.2,171.9 363.9,171.9 364.5,171.9 365.2,171.8 365.9,171.8 366.6,171.8 367.2,171.8 367.9,171.7 368.6,171.7 369.3,171.7 369.9,171.7 370.6,171.6 371.3,171.6 372.0,171.6 372.6,171.6 373.3,171.6 374.0,171.5 374.7,171.5 375.3,171.5 376.0,171.4 376.7,171.4 377.4,171.4 378.0,171.4 378.7,171.3 379.4,171.3 380.1,171.3 380.8,171.3 381.4,171.2 382.1,171.2 382.8,171.2 383.5,171.1 384.1,171.1 384.8,171.1 385.5,171.0 386.2,171.0 386.8,171.0 387.5,171.0 388.2,170.9 388.9,170.9 389.5,170.8 390.2,170.8 390.9,170.8 391.6,170.7 392.2,170.7 392.9,170.7 393.6,170.6 394.3,170.6 394.9,170.6 395.6,170.5 396.3,170.5 397.0,170.4 397.6,170.4 398.3,170.3 399.0,170.3 399.7,170.3 400.3,170.2 401.0,170.2 401.7,170.1 402.4,170.1 403.0,170.0 403.7,170.0 404.4,169.9 405.1,169.9 405.7,169.8 406.4,169.8 407.1,169.7 407.8,169.6 408.5,169.6 409.1,169.5 409.8,169.4 410.5,169.4 411.2,169.3 411.8,169.2 412.5,169.2 413.2,169.1 413.9,169.0 414.5,168.9 415.2,168.8 415.9,168.7 416.6,168.6 417.2,168.5 417.9,168.4 418.6,168.3 419.3,168.2 419.8,168.1 420.3,168.0 420.8,167.9 421.3,167.8 421.8,167.7 422.3,167.5 422.8,167.4 423.3,167.3 423.7,167.1 424.2,167.0 424.6,166.8 425.1,166.7 425.5,166.5 425.9,166.3 426.3,166.1 426.7,165.9 427.1,165.7 427.5,165.5 427.9,165.2 428.2,165.0 428.6,164.7 428.9,164.4 429.2,164.1 429.5,163.8 429.8,163.5 430.0,163.1 430.3,162.8 430.5,162.4 430.7,162.0 431.0,161.6 431.2,161.2 431.3,160.8 431.5,160.4 431.7,159.9 431.8,159.5 432.0,159.0 432.1,158.5 432.3,158.0 432.4,157.6 432.5,157.1 432.6,156.5 432.7,156.0 432.8,155.5 432.9,154.9 433.0,154.3 433.0,153.8 433.1,153.2 433.2,152.7 433.2,152.1 433.3,151.5 433.4,151.0 433.4,150.3 433.5,149.8 433.5,149.2 433.6,148.5 433.6,148.0 433.7,147.4 433.7,146.8 433.7,146.1 433.8,145.4 433.8,144.8 433.9,144.2 433.9,143.7 433.9,143.1 433.9,142.5 434.0,141.9 434.0,141.3 434.0,140.7 434.0,140.2 434.1,139.6 434.1,139.0 434.1,138.4 434.1,137.8 434.2,137.2 434.2,136.6 434.2,136.0 434.2,135.4 434.2,134.8 434.2,134.2 434.3,133.6 434.3,133.0 434.3,132.4 434.3,131.8 434.3,131.2 434.3,130.6 434.4,130.0 434.4,129.4 434.4,128.8 434.4,128.2 434.4,127.6 434.4,127.0 434.4,126.4 434.4,125.8 434.4,125.2 434.5,124.6 434.5,123.9 434.5,123.3 434.5,122.7 434.5,122.1 434.5,121.5 434.5,120.9 434.5,120.3 434.5,119.6 434.5,119.0 434.6,118.4 434.6,117.8 434.6,117.1 434.6,116.5 434.6,115.8 434.6,115.2 434.6,114.6 434.6,114.0 434.6,113.4 434.6,112.7 434.6,112.0 434.6,111.4 434.6,110.8 434.7,110.2 434.7,109.6 434.7,108.9 434.7,108.3 434.7,107.7 434.7,107.1 434.7,106.4 434.7,105.8 434.7,105.2 434.7,104.5 434.7,103.9 434.7,103.2 434.7,102.6 434.7,101.9 434.7,101.3 434.7,100.7 434.8,100.0 434.8,99.4 434.8,98.8 434.8,98.1 434.8,97.5 434.8,96.8 434.8,96.1 434.8,95.5 434.8,94.9 434.8,94.2 434.8,93.5 434.8,92.9 434.8,92.3 434.8,91.6 434.8,91.0 434.8,90.4 434.8,89.8 434.8,89.1 434.8,88.5 434.8,87.8 434.8,87.1 434.8,86.5 434.9,85.8 434.9,85.1 434.9,84.4 434.9,83.7 434.9,83.0 434.9,82.3 434.9,81.5 434.9,80.8 434.9,80.1 434.9,79.5 434.9,78.9 434.9,78.3 434.9,77.6 434.9,77.0 434.9,76.4 434.9,75.8 434.9,75.2 434.9,74.5 434.9,73.9 434.9,73.2 434.9,72.6 434.9,72.0 434.9,71.3 434.9,70.7 434.9,70.0 434.9,69.3 434.9,68.7 434.9,68.0 435.0,67.3 435.0,66.7 435.0,66.0 435.0,65.3 435.0,64.7 435.0,64.0 435.0,63.3 435.0,62.6 435.0,62.0 435.0,61.3 435.0,60.6 435.0,59.9 435.0,59.3 435.0,58.6 435.0,57.9 435.0,57.3 435.0,56.6 435.0,56.0 435.0,55.3 435.0,54.7 435.0,54.0 435.0,53.4 435.0,52.7 435.0,52.1 435.0,51.5 435.0,50.9 435.0,50.3 435.0,49.6 435.0,48.8 435.1,48.1 435.1,47.4 435.1,46.8 435.1,46.1 435.1,45.5 435.1,44.8 435.1,44.1 435.1,43.5 435.1,42.8 435.1,42.2 435.2,42.7 435.2,43.3 435.2,44.0 435.2,44.7 435.2,45.4 435.2,46.0 435.2,46.7 435.2,47.4 435.2,48.0 435.2,48.7 435.2,49.3 435.2,49.9 435.2,50.6 435.2,51.3 435.3,52.0 435.3,52.7 435.3,53.4 435.3,54.1 435.3,54.8 435.3,55.6 435.3,56.3 435.3,57.1 435.3,57.9 435.3,58.6 435.3,59.4 435.3,60.2 435.3,61.0 435.3,61.8 435.3,62.4 435.3,63.0 435.3,63.6 435.3,64.2 435.3,64.8 435.3,65.4 435.3,66.0 435.3,66.6 435.3,67.2 435.3,67.8 435.3,68.4 435.3,69.0 435.3,69.6 435.3,70.3 435.3,70.9 435.3,71.5 435.3,72.1 435.3,72.7 435.3,73.3 435.3,73.9 435.3,74.5 435.4,75.1 435.4,75.9 435.4,76.7 435.4,77.4 435.4,78.2 435.4,79.0 435.4,79.8 435.4,80.6 435.4,81.3 435.4,82.1 435.4,82.8 435.4,83.6 435.4,84.3 435.4,85.1 435.4,85.8 435.4,86.5 435.4,87.3 435.4,88.0 435.4,88.7 435.4,89.4 435.4,90.1 435.4,90.8 435.4,91.5 435.4,92.2 435.4,92.8 435.4,93.5 435.4,94.2 435.4,94.8 435.4,95.5 435.4,96.1 435.5,96.8 435.5,97.4 435.5,98.0 435.5,98.7 435.5,99.3 435.5,99.9 435.5,100.5 435.5,101.1 435.5,101.8 435.5,102.6 435.5,103.3 435.5,104.0 435.5,104.7 435.5,105.4 435.5,106.1 435.5,106.8 435.5,107.4 435.5,108.1 435.5,108.7 435.5,109.4 435.5,110.0 435.5,110.6 435.5,111.2 435.5,111.9 435.5,112.5 435.6,113.2 435.6,113.9 435.6,114.5 435.6,115.1 435.6,115.8 435.6,116.5 435.6,117.1 435.6,117.8 435.6,118.4 435.6,119.0 435.6,119.6 435.6,120.2 435.6,120.9 435.6,121.5 435.6,122.2 435.6,122.8 435.6,123.4 435.6,124.0 435.6,124.6 435.7,125.2 435.7,125.9 435.7,126.5 435.7,127.2 435.7,127.8 435.7,128.4 435.7,129.0 435.7,129.7 435.7,130.3 435.7,130.9 435.7,131.6 435.7,132.2 435.7,132.8 435.7,133.5 435.8,134.1 435.8,134.7 435.8,135.3 435.8,136.0 435.8,136.6 435.8,137.2 435.8,137.8 435.8,138.4 435.8,139.1 435.8,139.7 435.8,140.3 435.9,140.9 435.9,141.5 435.9,142.1 435.9,142.7 435.9,143.3 435.9,143.9 435.9,144.6 435.9,145.2 435.9,145.8 436.0,146.4 436.0,147.0 436.0,147.6 436.0,148.2 436.0,148.8 436.0,149.4 436.0,150.0 436.1,150.6 436.1,151.2 436.1,151.8 436.1,152.4 436.1,153.0 436.1,153.6 436.2,154.2 436.2,154.8 436.2,155.4 436.2,156.0 436.2,156.6 436.3,157.2 436.3,157.7 436.3,158.3 436.3,158.9 436.4,159.5 436.4,160.1 436.4,160.7 436.4,161.3 436.5,161.9 436.5,162.5 436.5,163.1 436.6,163.7 436.6,164.4 436.7,165.0 436.7,165.6 436.7,166.2 436.8,166.9 436.8,167.5 436.9,168.0 436.9,168.7 437.0,169.3 437.1,169.8 437.1,170.4 437.2,171.0 437.3,171.6 437.4,172.1 437.4,172.7 437.5,173.2 437.6,173.8 437.7,174.3 437.8,174.8 437.9,175.3 438.0,175.8 438.2,176.3 438.3,176.8 438.5,177.3 438.6,177.8 438.8,178.2 439.0,177.8 439.2,177.4 439.4,177.0 439.6,176.6 439.8,176.2 440.1,175.8 440.3,175.5 440.6,175.1 440.9,174.8 441.2,174.5 441.5,174.2 441.8,173.9 442.1,173.6 442.5,173.4 442.8,173.1 443.2,172.9 443.6,172.7 444.0,172.5 444.4,172.3 444.8,172.1 445.2,171.9 445.7,171.7 446.1,171.6 446.5,171.4 447.0,171.2 447.5,171.1 448.0,170.9 448.5,170.8 449.0,170.7 449.5,170.5 450.0,170.4 450.5,170.3 451.0,170.2 451.5,170.0 452.0,169.9 452.5,169.8 453.0,169.7 453.6,169.6 454.1,169.5 454.6,169.4 455.1,169.3 455.6,169.2 456.3,169.1 456.9,169.0 457.6,168.9 458.3,168.7 459.0,168.6 459.6,168.5 460.3,168.4 461.0,168.3 461.7,168.2 462.3,168.1 463.0,167.9 463.7,167.8 464.4,167.7 465.0,167.6 465.7,167.5 466.4,167.4 467.1,167.3 467.7,167.2 468.4,167.0 469.1,166.9 469.8,166.8 470.4,166.7 471.1,166.6 471.8,166.4 472.5,166.3 473.1,166.2 473.8,166.1 474.3,166.0 474.8,165.9 475.3,165.8 475.8,165.7 476.4,165.6 476.9,165.5 477.4,165.4 477.9,165.3 478.4,165.2 478.9,165.1 479.4,165.0 479.9,164.9 480.4,164.8 480.9,164.7 481.4,164.6 481.9,164.4 482.4,164.3 482.9,164.2 483.4,164.1 484.0,164.0 484.5,163.9 485.0,163.7 485.5,163.6 486.0,163.5 486.5,163.4 487.0,163.2 487.5,163.1 488.0,163.0 488.5,162.9 489.0,162.7 489.5,162.6 490.0,162.4 490.5,162.3 491.1,162.2 491.6,162.0 492.1,161.9 492.6,161.7 493.1,161.6 493.6,161.4 494.1,161.2 494.6,161.1 495.1,160.9 495.6,160.8 496.1,160.6 496.6,160.4 497.1,160.2 497.6,160.1 498.1,159.9 498.7,159.7 499.2,159.5 499.7,159.3 500.2,159.1 500.7,158.9 501.2,158.7 501.7,158.5 502.2,158.3 502.7,158.0 503.2,157.8 503.7,157.6 504.2,157.4 504.7,157.1 505.2,156.9 505.7,156.6 506.3,156.4 506.8,156.1 507.3,155.8 507.8,155.6 508.3,155.3 508.8,155.0 509.3,154.7 509.8,154.4 510.3,154.1 510.8,153.8 511.3,153.4 511.8,153.1 512.3,152.8 512.8,152.4 513.3,152.0 513.9,151.7 514.4,151.3 514.9,150.9 515.2,150.6 515.5,150.4 515.9,150.1 516.2,149.8 516.6,149.5 516.9,149.2 517.2,148.9 517.6,148.6 517.9,148.3 518.2,148.0 518.6,147.6 518.9,147.3 519.3,147.0 519.6,146.6 519.9,146.2 520.3,145.9 520.6,145.5 520.9,145.1 521.3,144.7 521.6,144.3 522.0,143.9 522.3,143.5 522.6,143.1 523.0,142.7 523.3,142.2 523.7,141.8 524.0,141.3 524.3,140.8 524.7,140.3 525.0,139.8 525.3,139.3 525.7,138.8 526.0,138.2 526.4,137.7 526.7,137.1 527.0,136.5 527.4,135.9 527.7,135.3 528.0,134.6 528.4,134.0 528.7,133.3 529.1,132.6 529.4,131.9 529.7,131.2 530.1,130.4 530.4,129.7 530.7,128.9 531.1,128.1 531.4,127.2 531.8,126.3 531.9,125.9 532.1,125.5 532.3,125.0 532.4,124.5 532.6,124.1 532.8,123.6 532.9,123.1 533.1,122.6 533.3,122.1 533.4,121.6 533.6,121.1 533.8,120.6 534.0,120.0 534.1,119.5 534.3,119.0 534.5,118.4 534.6,117.9 534.7,117.5 534.9,117.0 535.0,116.5 535.2,116.0 535.3,115.6 535.4,115.1 535.6,114.6 535.7,114.1 535.8,113.6 536.0,113.1 536.1,112.6 536.2,112.1 536.4,111.6 536.5,111.1 536.6,110.6 536.7,110.1 536.9,109.6 537.0,109.1 537.1,108.6 537.2,108.1 537.3,107.6 537.5,107.1 537.6,106.6 537.7,106.1 537.8,105.6 537.9,105.1 538.0,104.6 538.2,104.1 538.3,103.6 538.4,103.1 538.5,102.6 538.6,102.1 538.7,101.6 538.8,101.0 538.9,100.5 539.0,100.0 539.2,99.5 539.3,99.0 539.4,98.4 539.5,97.9 539.6,97.4 539.7,96.9 539.8,96.4 539.9,95.9 540.0,95.4 540.1,94.8 540.2,94.3 540.3,93.8 540.4,93.3 540.5,92.8 540.6,92.3 540.7,91.8 540.8,91.3 540.9,90.8 541.0,90.2 541.1,89.7 541.2,89.2 541.3,88.7 541.4,88.2 541.5,87.7 541.6,87.2 541.7,86.6 541.8,86.1 541.9,85.6 542.0,85.1 542.1,84.6 542.2,84.1 542.3,83.6 542.4,83.1 542.5,82.6 542.6,82.0 542.8,81.5 542.9,81.0 543.0,80.5 543.1,79.9 543.2,79.4 543.3,78.9 543.4,78.4 543.5,77.9 543.6,77.4 543.8,76.9 543.9,76.4 544.0,75.9 544.1,75.4 544.3,74.9 544.4,74.4 544.5,73.9 544.6,73.4 544.8,73.0 544.9,72.5 545.1,72.0 545.2,71.6 545.4,71.1 545.6,70.7 545.8,70.3 546.0,69.9 546.2,69.5 546.5,69.2 546.9,69.0 547.4,69.1 547.8,69.3 548.0,69.7 548.2,70.0 548.4,70.4 548.6,70.9 548.8,71.3 549.0,71.7 549.1,72.2 549.3,72.7 549.4,73.1 549.5,73.6 549.7,74.1 549.8,74.6 549.9,75.1 550.1,75.6 550.2,76.1 550.3,76.6 550.4,77.1 550.5,77.6 550.7,78.1 550.8,78.6 550.9,79.1 551.0,79.6 551.1,80.2 551.2,80.7 551.3,81.2 551.4,81.7 551.5,82.2 551.6,82.7 551.7,83.3 551.8,83.8 551.9,84.3 552.0,84.8 552.1,85.3 552.2,85.8 552.3,86.3 552.4,86.9 552.5,87.4 552.6,87.9 552.7,88.4 552.8,89.0 552.9,89.5 553.0,90.0 553.1,90.5 553.2,91.1 553.3,91.6 553.4,92.1 553.5,92.6 553.6,93.1 553.8,93.7 553.9,94.2 554.0,94.7 554.1,95.2 554.2,95.7 554.3,96.2 554.4,96.7 554.5,97.2 554.6,97.7 554.7,98.2 554.8,98.8 554.9,99.3 555.0,99.8 555.1,100.4 555.2,100.9 555.3,101.4 555.4,101.9 555.5,102.5 555.7,103.0 555.8,103.5 555.9,104.0 556.0,104.5 556.1,105.0 556.2,105.5 556.3,106.0 556.4,106.5 556.6,107.0 556.7,107.5 556.8,108.1 556.9,108.6 557.0,109.1 557.1,109.5 557.3,110.0 557.4,110.5 557.5,111.0 557.6,111.5 557.8,112.0 557.9,112.5 558.0,113.0 558.1,113.5 558.3,114.0 558.4,114.5 558.5,115.0 558.7,115.5 558.8,116.0 558.9,116.5 559.1,116.9 559.2,117.4 559.3,117.9 559.5,118.4 559.6,118.9 559.8,119.3 560.0,120.0 560.1,120.5 560.3,121.1 560.5,121.6 560.6,122.1 560.8,122.6 561.0,123.2 561.1,123.7 561.3,124.1 561.5,124.6 561.7,125.1 561.8,125.6 562.0,126.1 562.2,126.5 562.3,127.0 562.5,127.4 562.7,127.8 562.8,128.3 563.2,129.1 563.5,129.9 563.9,130.7 564.2,131.5 564.5,132.3 564.9,133.0 565.2,133.7 565.5,134.4 565.9,135.1 566.2,135.7 566.6,136.4 566.9,137.0 567.2,137.6 567.6,138.2 567.9,138.8 568.2,139.3 568.6,139.9 568.9,140.4 569.3,140.9 569.6,141.4 569.9,141.9 570.3,142.4 570.6,142.8 570.9,143.3 571.3,143.8 571.6,144.2 572.0,144.6 572.3,145.0 572.6,145.4 573.0,145.8 573.3,146.2 573.6,146.6 574.0,147.0 574.3,147.3 574.7,147.7 575.0,148.0 575.3,148.4 575.7,148.7 576.0,149.1 576.4,149.4 576.7,149.7 577.0,150.0 577.4,150.3 577.7,150.6 578.0,150.9 578.4,151.2 578.7,151.4 579.1,151.7 579.4,152.0 579.7,152.2 580.2,152.6 580.7,153.0 581.2,153.4 581.8,153.7 582.3,154.1 582.8,154.4 583.3,154.7 583.8,155.1 584.3,155.4 584.8,155.7 585.3,156.0 585.8,156.2 586.3,156.5 586.8,156.8 587.3,157.1 587.8,157.3 588.3,157.6 588.9,157.8 589.4,158.1 589.9,158.3 590.4,158.6 590.9,158.8 591.4,159.0 591.9,159.2 592.4,159.4 592.9,159.7 593.4,159.9 593.9,160.1 594.4,160.3 594.9,160.4 595.4,160.6 595.9,160.8 596.5,161.0 597.0,161.2 597.5,161.4 598.0,161.5 598.5,161.7 599.0,161.9 599.5,162.0 600.0,162.2 600.5,162.3 601.0,162.5 601.5,162.6 602.0,162.8 602.5,162.9 603.0,163.1 603.5,163.2 604.1,163.3 604.6,163.5 605.1,163.6 605.6,163.7 606.1,163.9 606.6,164.0 607.1,164.1 607.6,164.2 607.6,164.2" fill="none" stroke="#46a218" stroke-width="1.85" stroke-linejoin="round"/>
<path d="M354.4,173.9 355.1,173.9 355.8,173.9 356.4,174.0 357.1,174.0 357.8,174.0 358.5,174.0 359.1,174.0 359.8,174.0 360.5,174.1 361.2,174.1 361.8,174.1 362.5,174.1 363.2,174.1 363.9,174.2 364.5,174.2 365.2,174.2 365.9,174.2 366.6,174.3 367.2,174.3 367.9,174.3 368.6,174.3 369.3,174.3 369.9,174.4 370.6,174.4 371.3,174.4 372.0,174.4 372.6,174.5 373.3,174.5 374.0,174.5 374.7,174.5 375.3,174.5 376.0,174.6 376.7,174.6 377.4,174.6 378.0,174.6 378.7,174.7 379.4,174.7 380.1,174.7 380.8,174.7 381.4,174.8 382.1,174.8 382.8,174.8 383.5,174.8 384.1,174.9 384.8,174.9 385.5,174.9 386.2,174.9 386.8,175.0 387.5,175.0 388.2,175.0 388.9,175.1 389.5,175.1 390.2,175.1 390.9,175.1 391.6,175.2 392.2,175.2 392.9,175.2 393.6,175.3 394.3,175.3 394.9,175.3 395.6,175.3 396.3,175.4 397.0,175.4 397.6,175.4 398.3,175.5 399.0,175.5 399.7,175.5 400.3,175.6 401.0,175.6 401.7,175.6 402.4,175.7 403.0,175.7 403.7,175.7 404.4,175.8 405.1,175.8 405.7,175.8 406.4,175.9 407.1,175.9 407.8,175.9 408.5,176.0 409.1,176.0 409.8,176.0 410.5,176.1 411.2,176.1 411.8,176.2 412.5,176.2 413.2,176.2 413.9,176.3 414.5,176.3 415.2,176.4 415.9,176.4 416.6,176.4 417.2,176.5 417.9,176.5 418.6,176.6 419.3,176.6 419.9,176.6 420.6,176.7 421.3,176.7 422.0,176.8 422.5,176.8 423.1,176.9 423.7,176.9 424.2,176.9 424.8,177.0 425.4,177.0 425.9,177.0 426.5,177.1 427.1,177.1 427.6,177.2 428.2,177.2 428.8,177.3 429.3,177.3 429.9,177.3 430.5,177.4 431.0,177.4 431.6,177.5 432.1,177.5 432.7,177.6 433.2,177.6 433.8,177.6 434.4,177.7 434.9,177.7 435.5,177.8 436.0,177.8 436.6,177.9 437.1,177.9 437.7,178.0 438.3,178.0 438.8,178.1 439.4,178.1 439.9,178.2 440.5,178.2 441.0,178.3 441.6,178.3 442.2,178.2 442.7,178.2 443.3,178.1 443.8,178.1 444.4,178.0 444.9,178.0 445.5,177.9 446.0,177.9 446.6,177.8 447.1,177.8 447.7,177.7 448.3,177.6 449.0,177.6 449.7,177.5 450.3,177.4 451.0,177.3 451.7,177.3 452.4,177.2 453.0,177.1 453.7,177.0 454.4,176.9 455.1,176.9 455.7,176.8 456.4,176.7 457.1,176.6 457.8,176.5 458.5,176.4 459.1,176.3 459.8,176.3 460.5,176.2 461.2,176.1 461.8,176.0 462.5,175.9 463.2,175.8 463.9,175.7 464.5,175.6 465.2,175.5 465.9,175.4 466.6,175.3 467.2,175.2 467.9,175.0 468.6,174.9 469.3,174.8 469.9,174.7 470.6,174.6 471.3,174.5 472.0,174.3 472.6,174.2 473.1,174.1 473.7,174.0 474.2,173.9 474.7,173.8 475.2,173.7 475.7,173.6 476.2,173.5 476.7,173.4 477.2,173.3 477.7,173.2 478.2,173.1 478.7,173.0 479.2,172.9 479.7,172.8 480.2,172.7 480.7,172.5 481.3,172.4 481.8,172.3 482.3,172.2 482.8,172.1 483.3,171.9 483.8,171.8 484.3,171.7 484.8,171.5 485.3,171.4 485.8,171.3 486.3,171.1 486.8,171.0 487.3,170.8 487.8,170.7 488.3,170.5 488.9,170.4 489.4,170.2 489.9,170.1 490.4,169.9 490.9,169.8 491.4,169.6 491.9,169.4 492.4,169.3 492.9,169.1 493.4,168.9 493.9,168.7 494.4,168.6 494.9,168.4 495.4,168.2 495.9,168.0 496.5,167.8 497.0,167.6 497.5,167.4 498.0,167.2 498.5,166.9 499.0,166.7 499.5,166.5 500.0,166.3 500.5,166.0 501.0,165.8 501.5,165.6 502.0,165.3 502.5,165.1 503.0,164.8 503.5,164.5 504.1,164.3 504.6,164.0 505.1,163.7 505.6,163.4 506.1,163.1 506.6,162.8 507.1,162.5 507.6,162.2 508.1,161.9 508.6,161.5 509.1,161.2 509.6,160.8 510.1,160.5 510.6,160.1 511.2,159.7 511.7,159.3 512.0,159.1 512.3,158.8 512.7,158.5 513.0,158.2 513.3,158.0 513.7,157.7 514.0,157.4 514.4,157.1 514.7,156.8 515.0,156.5 515.4,156.1 515.7,155.8 516.0,155.5 516.4,155.1 516.7,154.8 517.1,154.4 517.4,154.1 517.7,153.7 518.1,153.3 518.4,153.0 518.8,152.6 519.1,152.2 519.4,151.8 519.8,151.3 520.1,150.9 520.4,150.5 520.8,150.0 521.1,149.6 521.5,149.1 521.8,148.6 522.1,148.2 522.5,147.7 522.8,147.2 523.1,146.6 523.5,146.1 523.8,145.6 524.2,145.0 524.5,144.4 524.8,143.8 525.2,143.2 525.5,142.6 525.8,142.0 526.2,141.3 526.5,140.7 526.9,140.0 527.2,139.3 527.5,138.6 527.9,137.8 528.2,137.1 528.5,136.3 528.9,135.5 529.2,134.7 529.6,133.9 529.9,133.0 530.1,132.6 530.2,132.1 530.4,131.7 530.6,131.2 530.7,130.7 530.9,130.3 531.1,129.8 531.3,129.3 531.4,128.8 531.6,128.3 531.8,127.8 531.9,127.3 532.1,126.8 532.3,126.3 532.4,125.7 532.6,125.2 532.8,124.6 532.9,124.1 533.1,123.5 533.3,123.0 533.4,122.4 533.6,121.8 533.8,121.2 534.0,120.6 534.1,120.0 534.3,119.4 534.5,118.7 534.6,118.2 534.7,117.8 534.8,117.3 535.0,116.8 535.1,116.3 535.2,115.8 535.4,115.3 535.5,114.8 535.6,114.3 535.7,113.8 535.8,113.3 536.0,112.9 536.1,112.4 536.2,111.9 536.3,111.4 536.4,110.9 536.5,110.3 536.7,109.9 536.8,109.3 536.9,108.8 537.0,108.3 537.1,107.8 537.2,107.3 537.3,106.8 537.4,106.3 537.6,105.8 537.7,105.3 537.8,104.8 537.9,104.3 538.0,103.8 538.1,103.2 538.2,102.7 538.3,102.2 538.4,101.7 538.5,101.1 538.7,100.6 538.8,100.1 538.9,99.5 539.0,99.0 539.1,98.5 539.2,98.0 539.3,97.5 539.4,97.0 539.5,96.5 539.6,96.0 539.7,95.5 539.8,95.0 539.9,94.5 540.0,93.9 540.1,93.4 540.2,92.9 540.3,92.4 540.4,91.9 540.5,91.4 540.6,90.9 540.7,90.4 540.8,89.8 540.9,89.3 541.0,88.8 541.1,88.3 541.2,87.8 541.3,87.3 541.4,86.8 541.5,86.3 541.6,85.8 541.7,85.2 541.8,84.7 541.9,84.2 542.0,83.6 542.2,83.1 542.3,82.6 542.4,82.1 542.5,81.6 542.6,81.1 542.7,80.6 542.8,80.1 542.9,79.5 543.1,79.0 543.2,78.5 543.3,78.0 543.4,77.5 543.5,77.0 543.7,76.5 543.8,76.0 543.9,75.5 544.1,75.0 544.2,74.6 544.3,74.1 544.5,73.6 544.6,73.1 544.8,72.6 544.9,72.2 545.1,71.8 545.3,71.3 545.5,70.9 545.7,70.5 545.9,70.1 546.1,69.7 546.4,69.4 546.7,69.1 547.1,68.9 547.6,69.0 548.0,69.3 548.2,69.6 548.5,70.0 548.7,70.4 548.9,70.8 549.1,71.2 549.3,71.6 549.4,72.1 549.6,72.5 549.8,73.0 549.9,73.4 550.1,73.9 550.2,74.4 550.4,74.8 550.5,75.3 550.6,75.8 550.8,76.3 550.9,76.8 551.0,77.3 551.2,77.7 551.3,78.2 551.4,78.7 551.6,79.2 551.7,79.7 551.8,80.2 551.9,80.7 552.1,81.2 552.2,81.7 552.3,82.2 552.4,82.7 552.5,83.2 552.7,83.7 552.8,84.1 552.9,84.6 553.0,85.1 553.1,85.6 553.3,86.1 553.4,86.6 553.5,87.1 553.6,87.6 553.7,88.1 553.8,88.6 554.0,89.1 554.1,89.5 554.2,90.0 554.3,90.5 554.4,91.0 554.6,91.5 554.7,92.0 554.8,92.5 554.9,93.0 555.1,93.5 555.2,94.0 555.3,94.5 555.4,95.0 555.6,95.5 555.7,96.0 555.8,96.5 555.9,97.0 556.1,97.5 556.2,98.0 556.3,98.4 556.5,98.9 556.6,99.4 556.7,99.9 556.9,100.4 557.0,100.9 557.1,101.4 557.3,101.9 557.4,102.4 557.5,102.8 557.7,103.3 557.8,103.8 558.0,104.3 558.1,104.7 558.3,105.2 558.4,105.7 558.5,106.2 558.7,106.6 558.8,107.1 559.0,107.6 559.1,108.1 559.3,108.5 559.4,109.0 559.6,109.4 559.7,109.9 560.0,110.5 560.1,111.0 560.3,111.5 560.5,112.0 560.6,112.4 560.8,112.9 561.0,113.4 561.1,113.8 561.3,114.3 561.5,114.7 561.7,115.1 562.0,116.0 562.3,116.8 562.7,117.6 563.0,118.4 563.3,119.2 563.7,119.9 564.0,120.6 564.4,121.3 564.7,122.0 565.0,122.7 565.4,123.4 565.7,124.0 566.0,124.6 566.4,125.2 566.7,125.8 567.1,126.4 567.4,127.0 567.7,127.5 568.1,128.0 568.4,128.6 568.8,129.1 569.1,129.6 569.4,130.1 569.8,130.5 570.1,131.0 570.4,131.5 570.8,131.9 571.1,132.4 571.5,132.8 571.8,133.2 572.1,133.6 572.5,134.0 572.8,134.4 573.1,134.8 573.5,135.2 573.8,135.5 574.2,135.9 574.5,136.2 574.8,136.6 575.2,136.9 575.5,137.2 575.8,137.6 576.2,137.9 576.5,138.2 576.9,138.5 577.2,138.8 577.5,139.1 577.9,139.4 578.2,139.7 578.5,140.0 578.9,140.2 579.2,140.5 579.6,140.8 580.1,141.1 580.6,141.5 581.1,141.9 581.6,142.2 582.1,142.6 582.6,142.9 583.1,143.3 583.6,143.6 584.1,143.9 584.6,144.2 585.1,144.5 585.6,144.8 586.1,145.1 586.7,145.4 587.2,145.6 587.7,145.9 588.2,146.2 588.7,146.4 589.2,146.7 589.7,146.9 590.2,147.2 590.7,147.4 591.2,147.6 591.7,147.8 592.2,148.1 592.7,148.3 593.2,148.5 593.7,148.7 594.3,148.9 594.8,149.1 595.3,149.3 595.8,149.5 596.3,149.7 596.8,149.8 597.3,150.0 597.8,150.2 598.3,150.4 598.8,150.5 599.3,150.7 599.8,150.9 600.3,151.0 600.8,151.2 601.4,151.3 601.9,151.5 602.4,151.6 602.9,151.8 603.4,151.9 603.9,152.1 604.4,152.2 604.9,152.4 605.4,152.5 605.9,152.6 606.4,152.8 606.9,152.9 607.4,153.0 607.6,153.1" fill="none" stroke="#2d62fa" stroke-width="2.7" stroke-dasharray="1.6 0.95"/>
<path d="M354.4,168.1 355.1,168.1 355.8,168.1 356.4,168.1 357.1,168.1 357.8,168.1 358.5,168.0 359.1,168.0 359.8,168.0 360.5,168.0 361.2,168.0 361.8,168.0 362.5,168.0 363.2,168.0 363.9,168.0 364.5,168.0 365.2,168.0 365.9,168.0 366.6,168.0 367.2,168.0 367.9,168.0 368.6,168.0 369.3,168.0 369.9,168.0 370.6,168.0 371.3,168.0 372.0,167.9 372.6,167.9 373.3,167.9 374.0,167.9 374.7,167.9 375.3,167.9 376.0,167.9 376.7,167.9 377.4,167.9 378.0,167.9 378.7,167.9 379.4,167.9 380.1,167.9 380.8,167.9 381.4,167.8 382.1,167.8 382.8,167.8 383.5,167.8 384.1,167.8 384.8,167.8 385.5,167.8 386.2,167.8 386.8,167.8 387.5,167.8 388.2,167.8 388.9,167.7 389.5,167.7 390.2,167.7 390.9,167.7 391.6,167.7 392.2,167.7 392.9,167.7 393.6,167.7 394.3,167.6 394.9,167.6 395.6,167.6 396.3,167.6 397.0,167.6 397.6,167.6 398.3,167.5 399.0,167.5 399.7,167.5 400.3,167.5 401.0,167.5 401.7,167.4 402.4,167.4 403.0,167.4 403.7,167.4 404.4,167.3 405.1,167.3 405.7,167.3 406.4,167.3 407.1,167.2 407.8,167.2 408.5,167.2 409.1,167.1 409.8,167.1 410.5,167.1 411.2,167.0 411.8,167.0 412.5,166.9 413.2,166.9 413.9,166.8 414.5,166.8 415.2,166.7 415.9,166.6 416.6,166.6 417.2,166.5 417.9,166.4 418.6,166.3 419.3,166.3 419.9,166.1 420.6,166.0 421.3,165.9 421.8,165.8 422.3,165.7 422.8,165.6 423.3,165.5 423.8,165.4 424.2,165.2 424.7,165.1 425.2,164.9 425.6,164.7 426.0,164.6 426.4,164.4 426.8,164.2 427.2,164.0 427.6,163.7 428.0,163.5 428.3,163.2 428.7,163.0 429.0,162.7 429.3,162.4 429.6,162.1 429.8,161.7 430.1,161.4 430.4,161.0 430.6,160.6 430.8,160.2 431.0,159.8 431.2,159.4 431.4,159.0 431.5,158.6 431.7,158.1 431.9,157.6 432.0,157.1 432.1,156.6 432.3,156.1 432.4,155.6 432.5,155.0 432.6,154.5 432.7,154.0 432.8,153.4 432.9,152.9 432.9,152.4 433.0,151.8 433.1,151.3 433.1,150.7 433.2,150.1 433.3,149.5 433.3,148.9 433.4,148.4 433.4,147.8 433.5,147.2 433.5,146.5 433.6,145.9 433.6,145.3 433.7,144.7 433.7,144.0 433.7,143.3 433.8,142.7 433.8,142.1 433.8,141.4 433.9,140.8 433.9,140.2 433.9,139.7 434.0,139.1 434.0,138.5 434.0,137.9 434.0,137.3 434.1,136.7 434.1,136.1 434.1,135.6 434.1,135.0 434.1,134.4 434.1,133.8 434.2,133.2 434.2,132.6 434.2,132.0 434.2,131.4 434.2,130.8 434.3,130.2 434.3,129.6 434.3,129.0 434.3,128.4 434.3,127.8 434.3,127.2 434.3,126.5 434.3,125.9 434.4,125.3 434.4,124.7 434.4,124.1 434.4,123.5 434.4,122.9 434.4,122.3 434.4,121.7 434.4,121.0 434.5,120.4 434.5,119.8 434.5,119.2 434.5,118.6 434.5,117.9 434.5,117.3 434.5,116.7 434.5,116.0 434.5,115.4 434.5,114.8 434.5,114.2 434.6,113.6 434.6,112.9 434.6,112.3 434.6,111.7 434.6,111.1 434.6,110.5 434.6,109.9 434.6,109.2 434.6,108.6 434.6,108.0 434.6,107.4 434.6,106.8 434.6,106.1 434.6,105.5 434.7,104.8 434.7,104.1 434.7,103.5 434.7,102.9 434.7,102.3 434.7,101.7 434.7,101.0 434.7,100.4 434.7,99.8 434.7,99.2 434.7,98.5 434.7,97.8 434.7,97.2 434.7,96.6 434.7,96.0 434.7,95.3 434.7,94.7 434.7,94.1 434.8,93.4 434.8,92.8 434.8,92.1 434.8,91.5 434.8,90.8 434.8,90.2 434.8,89.4 434.8,88.7 434.8,88.1 434.8,87.5 434.8,86.9 434.8,86.3 434.8,85.7 434.8,85.0 434.8,84.4 434.8,83.8 434.8,83.1 434.8,82.5 434.8,81.8 434.8,81.1 434.8,80.5 434.8,79.8 434.9,79.1 434.9,78.4 434.9,77.7 434.9,77.0 434.9,76.3 434.9,75.6 434.9,74.8 434.9,74.1 434.9,73.4 434.9,72.6 434.9,71.9 434.9,71.2 434.9,70.6 434.9,70.0 434.9,69.4 434.9,68.7 434.9,68.1 434.9,67.5 434.9,66.9 434.9,66.3 434.9,65.7 434.9,65.1 434.9,64.4 434.9,63.8 434.9,63.2 434.9,62.6 434.9,62.0 435.0,61.4 435.0,60.7 435.0,60.1 435.0,59.5 435.0,58.9 435.0,58.3 435.0,57.7 435.0,57.1 435.0,56.5 435.0,55.9 435.0,55.3 435.0,54.5 435.0,53.8 435.0,53.1 435.0,52.3 435.0,51.6 435.0,50.9 435.0,50.3 435.0,49.6 435.0,48.9 435.0,48.3 435.0,47.7 435.0,47.1 435.0,46.3 435.0,45.7 435.1,45.0 435.1,44.4 435.1,43.7 435.1,43.1 435.1,42.5 435.1,41.8 435.2,42.3 435.2,43.0 435.2,43.7 435.2,44.3 435.2,44.9 435.2,45.6 435.2,46.3 435.2,46.9 435.2,47.6 435.2,48.3 435.2,49.0 435.2,49.7 435.2,50.3 435.2,50.9 435.2,51.5 435.2,52.2 435.2,52.8 435.2,53.5 435.3,54.2 435.3,54.8 435.3,55.5 435.3,56.2 435.3,56.9 435.3,57.5 435.3,58.2 435.3,58.9 435.3,59.6 435.3,60.4 435.3,61.1 435.3,61.8 435.3,62.6 435.3,63.3 435.3,64.1 435.3,64.8 435.3,65.6 435.3,66.3 435.3,67.1 435.3,67.8 435.3,68.6 435.3,69.3 435.3,70.1 435.3,70.9 435.3,71.6 435.3,72.4 435.3,73.1 435.3,73.9 435.3,74.6 435.3,75.4 435.4,76.1 435.4,76.8 435.4,77.6 435.4,78.3 435.4,79.0 435.4,79.8 435.4,80.5 435.4,81.2 435.4,81.9 435.4,82.6 435.4,83.3 435.4,84.0 435.4,84.7 435.4,85.4 435.4,86.1 435.4,86.8 435.4,87.5 435.4,88.1 435.4,88.8 435.4,89.5 435.4,90.1 435.4,90.8 435.4,91.4 435.4,92.1 435.4,92.7 435.4,93.3 435.4,94.0 435.4,94.6 435.4,95.2 435.4,95.8 435.5,96.4 435.5,97.0 435.5,97.8 435.5,98.5 435.5,99.2 435.5,100.0 435.5,100.7 435.5,101.4 435.5,102.1 435.5,102.7 435.5,103.4 435.5,104.1 435.5,104.8 435.5,105.4 435.5,106.1 435.5,106.7 435.5,107.3 435.5,108.0 435.5,108.6 435.5,109.2 435.5,109.8 435.5,110.5 435.5,111.1 435.6,111.8 435.6,112.5 435.6,113.1 435.6,113.8 435.6,114.5 435.6,115.1 435.6,115.7 435.6,116.4 435.6,117.0 435.6,117.6 435.6,118.2 435.6,118.9 435.6,119.6 435.6,120.2 435.6,120.9 435.6,121.5 435.6,122.2 435.6,122.8 435.6,123.4 435.7,124.0 435.7,124.6 435.7,125.3 435.7,125.9 435.7,126.6 435.7,127.2 435.7,127.8 435.7,128.4 435.7,129.0 435.7,129.7 435.7,130.3 435.7,130.9 435.7,131.5 435.7,132.1 435.8,132.7 435.8,133.4 435.8,134.0 435.8,134.6 435.8,135.3 435.8,135.9 435.8,136.5 435.8,137.1 435.8,137.7 435.8,138.4 435.8,139.0 435.9,139.6 435.9,140.2 435.9,140.8 435.9,141.4 435.9,142.0 435.9,142.6 435.9,143.3 435.9,143.9 435.9,144.5 436.0,145.1 436.0,145.7 436.0,146.3 436.0,146.9 436.0,147.5 436.0,148.1 436.0,148.7 436.0,149.3 436.1,149.9 436.1,150.6 436.1,151.2 436.1,151.8 436.1,152.3 436.1,152.9 436.2,153.5 436.2,154.1 436.2,154.7 436.2,155.3 436.2,155.9 436.3,156.5 436.3,157.1 436.3,157.7 436.3,158.3 436.4,158.8 436.4,159.4 436.4,160.1 436.4,160.8 436.5,161.4 436.5,162.1 436.6,162.7 436.6,163.3 436.6,164.0 436.7,164.6 436.7,165.2 436.8,165.8 436.8,166.4 436.8,167.0 436.9,167.6 436.9,168.2 437.0,168.8 437.1,169.4 437.1,169.9 437.2,170.5 437.3,171.1 437.3,171.7 437.4,172.2 437.5,172.8 437.6,173.3 437.7,173.8 437.8,174.4 437.9,174.9 438.0,175.4 438.1,175.9 438.2,176.4 438.4,176.9 438.5,177.4 438.7,177.8 438.8,178.3 439.0,177.8 439.2,177.4 439.4,177.0 439.6,176.6 439.8,176.2 440.1,175.8 440.3,175.5 440.6,175.1 440.9,174.8 441.2,174.5 441.5,174.2 441.8,173.9 442.2,173.7 442.5,173.4 442.9,173.2 443.3,173.0 443.7,172.8 444.1,172.6 444.5,172.4 445.0,172.2 445.4,172.0 445.9,171.9 446.3,171.8 446.8,171.6 447.3,171.5 447.8,171.4 448.3,171.3 448.8,171.2 449.3,171.1 450.0,170.9 450.7,170.8 451.4,170.7 452.0,170.7 452.7,170.6 453.4,170.5 454.1,170.4 454.7,170.4 455.4,170.3 456.1,170.2 456.8,170.2 457.4,170.1 458.1,170.1 458.8,170.0 459.5,170.0 460.1,170.0 460.8,169.9 461.5,169.9 462.2,169.9 462.8,169.8 463.5,169.8 464.2,169.8 464.9,169.7 465.5,169.7 466.2,169.7 466.9,169.7 467.6,169.6 468.2,169.6 468.9,169.6 469.6,169.6 470.3,169.5 470.9,169.5 471.6,169.5 472.3,169.5 473.0,169.5 473.7,169.5 474.3,169.4 475.0,169.4 475.7,169.4 476.4,169.4 477.0,169.4 477.7,169.4 478.4,169.4 479.1,169.3 479.7,169.3 480.4,169.3 481.1,169.3 481.8,169.3 482.4,169.3 483.1,169.3 483.8,169.3 484.5,169.3 485.1,169.2 485.8,169.2 486.5,169.2 487.2,169.2 487.8,169.2 488.5,169.2 489.2,169.2 489.9,169.2 490.5,169.2 491.2,169.2 491.9,169.2 492.6,169.1 493.2,169.1 493.9,169.1 494.6,169.1 495.3,169.1 495.9,169.1 496.6,169.1 497.3,169.1 498.0,169.1 498.7,169.1 499.3,169.1 500.0,169.1 500.7,169.1 501.4,169.1 502.0,169.1 502.7,169.1 503.4,169.0 504.1,169.0 504.7,169.0 505.4,169.0 506.1,169.0 506.8,169.0 507.4,169.0 508.1,169.0 508.8,169.0 509.5,169.0 510.1,169.0 510.8,169.0 511.5,169.0 512.2,169.0 512.8,169.0 513.5,169.0 514.2,169.0 514.9,169.0 515.5,169.0 516.2,169.0 516.9,169.0 517.6,169.0 518.2,169.0 518.9,169.0 519.6,168.9 520.3,168.9 520.9,168.9 521.6,168.9 522.3,168.9 523.0,168.9 523.7,168.9 524.3,168.9 525.0,168.9 525.7,168.9 526.4,168.9 527.0,168.9 527.7,168.9 528.4,168.9 529.1,168.9 529.7,168.9 530.4,168.9 531.1,168.9 531.8,168.9 532.4,168.9 533.1,168.9 533.8,168.9 534.5,168.9 535.1,168.9 535.7,168.9 536.3,168.9 536.9,168.9 537.5,168.9 538.1,168.9 538.7,168.9 539.3,168.9 539.9,168.9 540.5,168.9 541.1,168.9 541.7,168.9 542.3,168.9 542.9,168.9 543.5,168.9 544.1,168.9 544.7,168.8 545.3,168.8 545.9,168.8 546.5,168.8 547.1,168.8 547.7,168.8 548.3,168.8 548.9,168.8 549.5,168.8 550.1,168.8 550.7,168.8 551.3,168.8 551.9,168.8 552.5,168.8 553.1,168.8 553.6,168.8 554.2,168.8 554.8,168.8 555.4,168.8 556.0,168.8 556.6,168.8 557.2,168.8 557.8,168.8 558.4,168.8 559.0,168.8 559.6,168.8 560.3,168.8 561.0,168.8 561.7,168.8 562.3,168.8 563.0,168.8 563.7,168.8 564.4,168.8 565.0,168.8 565.7,168.8 566.4,168.8 567.1,168.8 567.7,168.8 568.4,168.8 569.1,168.8 569.8,168.8 570.4,168.8 571.1,168.8 571.8,168.8 572.5,168.8 573.1,168.8 573.8,168.8 574.5,168.8 575.2,168.8 575.8,168.8 576.5,168.8 577.2,168.8 577.9,168.8 578.5,168.8 579.2,168.8 579.9,168.8 580.6,168.8 581.2,168.8 581.9,168.8 582.6,168.8 583.3,168.8 584.0,168.8 584.6,168.8 585.3,168.8 586.0,168.8 586.7,168.8 587.3,168.8 588.0,168.8 588.7,168.8 589.4,168.8 590.0,168.8 590.7,168.8 591.4,168.8 592.1,168.8 592.7,168.7 593.4,168.7 594.1,168.7 594.8,168.7 595.4,168.7 596.1,168.7 596.8,168.7 597.5,168.7 598.1,168.7 598.8,168.7 599.5,168.7 600.2,168.7 600.8,168.7 601.5,168.7 602.2,168.7 602.9,168.7 603.5,168.7 604.2,168.7 604.9,168.7 605.6,168.7 606.2,168.7 606.9,168.7 607.6,168.7 607.6,168.7" fill="none" stroke="#d8105e" stroke-width="2.2" stroke-dasharray="1.7 1.3"/>
</g>
<g clip-path="url(#clip_ab)">
<path d="M36.3,395.6 37.0,395.6 37.7,395.6 38.3,395.6 39.0,395.5 39.7,395.5 40.4,395.5 41.0,395.5 41.7,395.5 42.4,395.5 43.1,395.5 43.7,395.5 44.4,395.5 45.1,395.5 45.8,395.5 46.4,395.4 47.1,395.4 47.8,395.4 48.5,395.4 49.1,395.4 49.8,395.4 50.5,395.4 51.2,395.4 51.8,395.4 52.5,395.4 53.2,395.3 53.9,395.3 54.5,395.3 55.2,395.3 55.9,395.3 56.6,395.3 57.2,395.3 57.9,395.3 58.6,395.2 59.3,395.2 59.9,395.2 60.6,395.2 61.3,395.2 62.0,395.2 62.6,395.2 63.3,395.1 64.0,395.1 64.7,395.1 65.3,395.1 66.0,395.1 66.7,395.1 67.4,395.0 68.0,395.0 68.7,395.0 69.4,395.0 70.1,395.0 70.7,395.0 71.4,394.9 72.1,394.9 72.8,394.9 73.4,394.9 74.1,394.9 74.8,394.8 75.5,394.8 76.1,394.8 76.8,394.8 77.5,394.7 78.2,394.7 78.8,394.7 79.5,394.7 80.2,394.6 80.9,394.6 81.5,394.6 82.2,394.6 82.9,394.5 83.6,394.5 84.2,394.5 84.9,394.4 85.6,394.4 86.3,394.4 86.9,394.4 87.6,394.3 88.3,394.3 89.0,394.2 89.6,394.2 90.3,394.2 91.0,394.1 91.7,394.1 92.3,394.1 93.0,394.0 93.7,394.0 94.4,393.9 95.0,393.9 95.7,393.8 96.4,393.8 97.1,393.7 97.7,393.7 98.4,393.6 99.1,393.6 99.8,393.5 100.4,393.5 101.1,393.4 101.8,393.3 102.5,393.3 103.1,393.2 103.8,393.1 104.5,393.1 105.2,393.0 105.8,392.9 106.5,392.8 107.2,392.7 107.9,392.7 108.5,392.6 109.2,392.5 109.9,392.4 110.6,392.3 111.2,392.2 111.9,392.1 112.6,391.9 113.3,391.8 113.8,391.7 114.3,391.6 114.8,391.5 115.3,391.4 115.8,391.3 116.3,391.2 116.8,391.1 117.3,390.9 117.8,390.8 118.3,390.7 118.8,390.5 119.3,390.4 119.8,390.3 120.4,390.1 120.9,389.9 121.4,389.8 121.9,389.6 122.4,389.4 122.9,389.2 123.4,389.0 123.9,388.8 124.4,388.6 124.9,388.3 125.4,388.1 125.9,387.8 126.4,387.6 126.9,387.3 127.4,387.0 127.9,386.7 128.5,386.3 129.0,386.0 129.5,385.6 130.0,385.2 130.3,384.9 130.6,384.7 131.0,384.4 131.3,384.1 131.6,383.8 131.9,383.5 132.2,383.2 132.5,382.9 132.8,382.6 133.1,382.3 133.4,382.0 133.7,381.6 134.0,381.3 134.2,381.0 134.5,380.6 134.8,380.3 135.0,379.9 135.3,379.6 135.6,379.2 135.8,378.9 136.1,378.5 136.3,378.2 136.6,377.8 136.8,377.5 137.1,377.1 137.3,376.8 137.6,376.4 137.9,376.1 138.1,375.7 138.4,375.4 138.6,375.0 138.9,374.7 139.2,374.4 139.5,374.1 139.8,373.8 140.1,373.5 140.5,373.2 140.8,373.0 141.3,372.8 141.8,372.7 142.3,372.8 142.8,372.9 143.2,373.1 143.6,373.3 143.9,373.6 144.2,373.9 144.6,374.2 144.9,374.5 145.2,374.8 145.4,375.1 145.7,375.4 146.0,375.8 146.3,376.1 146.6,376.4 146.8,376.7 147.1,377.1 147.4,377.4 147.7,377.7 148.0,378.1 148.2,378.4 148.5,378.7 148.8,379.0 149.1,379.3 149.4,379.6 149.7,380.0 150.0,380.3 150.3,380.6 150.6,380.9 150.9,381.1 151.2,381.4 151.6,381.7 151.9,382.0 152.2,382.3 152.6,382.6 153.1,382.9 153.6,383.3 154.1,383.6 154.6,384.0 155.1,384.3 155.6,384.6 156.1,384.9 156.6,385.1 157.1,385.4 157.7,385.6 158.2,385.9 158.7,386.1 159.2,386.3 159.7,386.5 160.2,386.7 160.7,386.8 161.2,387.0 161.7,387.2 162.2,387.3 162.7,387.5 163.2,387.6 163.7,387.8 164.2,387.9 164.7,388.0 165.2,388.1 165.8,388.3 166.3,388.4 166.8,388.5 167.3,388.6 167.8,388.7 168.5,388.8 169.1,388.9 169.8,389.0 170.5,389.1 171.2,389.2 171.8,389.3 172.5,389.4 173.2,389.5 173.9,389.6 174.5,389.7 175.2,389.7 175.9,389.8 176.6,389.9 177.2,389.9 177.9,390.0 178.6,390.0 179.3,390.1 179.9,390.1 180.6,390.2 181.3,390.2 182.0,390.2 182.6,390.3 183.3,390.3 184.0,390.3 184.7,390.4 185.3,390.4 186.0,390.4 186.7,390.4 187.4,390.5 188.0,390.5 188.7,390.5 189.4,390.5 190.1,390.5 190.7,390.5 191.4,390.5 192.1,390.5 192.8,390.5 193.4,390.5 194.1,390.5 194.8,390.5 195.5,390.5 196.1,390.5 196.8,390.4 197.5,390.4 198.2,390.4 198.8,390.4 199.5,390.4 200.2,390.3 200.9,390.3 201.5,390.3 202.2,390.2 202.9,390.2 203.6,390.1 204.2,390.1 204.9,390.0 205.6,390.0 206.3,389.9 206.9,389.8 207.6,389.8 208.3,389.7 209.0,389.6 209.6,389.5 210.3,389.4 211.0,389.3 211.7,389.2 212.3,389.1 213.0,389.0 213.5,388.9 214.0,388.8 214.5,388.7 215.0,388.6 215.5,388.4 216.0,388.3 216.6,388.2 217.1,388.0 217.6,387.9 218.1,387.7 218.6,387.6 219.1,387.4 219.6,387.2 220.1,387.0 220.6,386.8 221.1,386.6 221.6,386.3 222.1,386.1 222.6,385.8 223.1,385.5 223.6,385.2 224.2,384.8 224.7,384.5 225.0,384.2 225.3,383.9 225.7,383.6 226.0,383.3 226.3,383.0 226.7,382.6 227.0,382.3 227.3,381.9 227.5,381.6 227.8,381.3 228.0,380.9 228.3,380.6 228.5,380.2 228.7,379.8 229.0,379.4 229.2,379.0 229.4,378.6 229.6,378.2 229.8,377.8 230.0,377.4 230.2,377.0 230.3,376.5 230.5,376.1 230.7,375.6 230.8,375.2 231.0,374.7 231.1,374.3 231.3,373.8 231.4,373.3 231.6,372.8 231.7,372.4 231.8,371.9 231.9,371.4 232.1,370.9 232.2,370.4 232.3,369.9 232.4,369.4 232.5,368.9 232.6,368.3 232.7,367.8 232.8,367.3 232.9,366.7 233.0,366.2 233.0,365.7 233.1,365.1 233.2,364.6 233.3,364.0 233.4,363.5 233.4,363.0 233.5,362.4 233.6,361.8 233.6,361.3 233.7,360.7 233.8,360.1 233.8,359.6 233.9,359.0 233.9,358.4 234.0,357.9 234.1,357.2 234.1,356.7 234.2,356.1 234.2,355.5 234.3,354.9 234.3,354.3 234.4,353.7 234.4,353.1 234.5,352.5 234.5,351.9 234.5,351.3 234.6,350.7 234.6,350.0 234.7,349.4 234.7,348.8 234.7,348.2 234.8,347.6 234.8,347.0 234.9,346.4 234.9,345.7 234.9,345.0 235.0,344.5 235.0,343.8 235.0,343.2 235.0,342.6 235.1,342.0 235.1,341.4 235.1,340.8 235.2,340.1 235.2,339.4 235.2,338.8 235.2,338.1 235.3,337.4 235.3,336.6 235.3,335.9 235.4,335.1 235.4,334.5 235.4,333.9 235.4,333.3 235.5,332.7 235.5,332.0 235.5,331.4 235.5,330.7 235.5,330.0 235.6,329.3 235.6,328.6 235.6,327.9 235.6,327.1 235.6,326.4 235.7,325.6 235.7,324.8 235.7,324.0 235.7,323.2 235.8,322.3 235.8,321.4 235.8,320.8 235.8,320.2 235.8,319.6 235.8,319.0 235.8,318.4 235.9,317.7 235.9,317.1 235.9,316.4 235.9,315.7 235.9,315.0 235.9,314.3 235.9,313.6 236.0,312.9 236.0,312.2 236.0,311.4 236.0,310.6 236.0,309.9 236.0,309.1 236.1,308.3 236.1,307.4 236.1,306.6 236.1,305.7 236.1,304.9 236.1,304.0 236.1,303.2 236.1,302.6 236.2,301.7 236.2,300.7 236.2,299.7 236.2,298.8 236.2,297.7 236.2,296.7 236.2,295.6 236.3,294.6 236.3,293.5 236.3,292.3 236.3,291.2 236.3,290.6 236.3,289.4 236.3,288.8 236.3,288.2 236.3,287.6 236.4,286.9 236.4,286.3 236.4,285.7 236.4,285.0 236.4,284.4 236.4,283.7 236.4,283.0 236.4,282.3 236.4,281.6 236.4,280.9 236.4,280.2 236.4,279.5 236.4,278.8 236.4,278.1 236.5,277.3 236.5,276.6 236.5,275.8 236.5,275.1 236.5,274.3 236.5,273.6 236.5,273.0 236.5,272.3 236.5,271.7 236.5,271.1 236.5,270.4 236.5,269.8 236.5,269.1 236.5,268.5 236.5,267.9 236.5,267.3 236.6,266.6 236.6,266.0 236.6,265.4 236.6,264.8 236.6,264.1 236.6,263.5 236.6,262.8 236.6,262.2 236.6,261.6 236.6,260.9 236.6,260.3 236.6,259.7 236.6,259.0 236.6,258.4 236.6,257.8 236.6,257.2 236.6,256.5 236.6,255.9 236.6,255.3 236.6,254.7 236.6,254.0 236.6,253.4 236.7,252.8 236.7,252.1 236.7,251.4 236.7,250.8 236.7,250.1 236.7,249.4 236.7,248.8 236.7,248.1 236.7,247.4 236.7,246.7 236.7,246.0 236.7,245.3 236.7,244.7 236.7,244.0 236.7,243.4 236.7,242.8 236.7,242.2 236.7,241.6 236.7,241.0 236.7,240.3 236.7,239.7 236.7,239.0 236.7,238.4 236.7,237.7 236.7,237.1 236.8,236.4 236.8,235.7 236.8,235.1 236.8,234.4 236.8,233.7 236.8,233.0 236.8,232.3 236.8,231.6 236.8,230.9 236.8,230.2 236.8,229.4 236.8,228.7 236.8,228.0 236.8,227.2 236.8,226.6 237.4,226.6 238.0,226.6 238.3,227.0 238.3,227.6 238.3,228.2 238.3,228.8 238.3,229.4 238.3,230.0 238.3,230.6 238.3,231.4 238.3,232.1 238.3,232.8 238.3,233.6 238.3,234.3 238.3,235.0 238.3,235.7 238.3,236.4 238.3,237.1 238.3,237.8 238.4,238.4 238.4,239.1 238.4,239.8 238.4,240.5 238.4,241.1 238.4,241.8 238.4,242.4 238.4,243.1 238.4,243.7 238.4,244.3 238.4,245.0 238.4,245.6 238.4,246.2 238.4,246.8 238.4,247.4 238.4,248.0 238.4,248.6 238.4,249.3 238.4,249.9 238.4,250.6 238.4,251.3 238.4,252.0 238.4,252.7 238.4,253.4 238.4,254.0 238.4,254.7 238.5,255.4 238.5,256.0 238.5,256.7 238.5,257.3 238.5,257.9 238.5,258.6 238.5,259.2 238.5,259.8 238.5,260.4 238.5,261.0 238.5,261.6 238.5,262.2 238.5,262.9 238.5,263.6 238.5,264.2 238.5,264.9 238.5,265.5 238.5,266.1 238.5,266.8 238.5,267.4 238.5,268.0 238.6,268.7 238.6,269.3 238.6,269.9 238.6,270.5 238.6,271.2 238.6,271.8 238.6,272.4 238.6,273.0 238.6,273.7 238.6,274.4 238.6,275.0 238.6,275.7 238.6,276.3 238.6,277.0 238.6,277.6 238.6,278.2 238.6,278.8 238.6,279.5 238.7,280.1 238.7,280.7 238.7,281.7 238.7,282.6 238.7,283.3 238.7,284.0 238.7,284.7 238.7,285.4 238.7,286.1 238.7,286.8 238.7,287.5 238.7,288.1 238.7,288.8 238.7,289.4 238.8,290.0 238.8,290.7 238.8,291.3 238.8,291.9 238.8,292.5 238.8,293.1 238.8,293.7 238.8,294.9 238.8,296.0 238.8,296.6 238.8,297.7 238.9,298.8 238.9,299.9 238.9,300.9 238.9,301.9 238.9,302.9 238.9,303.9 239.0,304.8 239.0,305.8 239.0,306.7 239.0,307.6 239.0,308.2 239.0,308.9 239.0,309.8 239.0,310.6 239.1,311.4 239.1,312.3 239.1,313.1 239.1,313.8 239.1,314.6 239.1,315.4 239.1,316.1 239.2,316.8 239.2,317.5 239.2,318.3 239.2,318.9 239.2,319.6 239.2,320.3 239.2,320.9 239.3,321.6 239.3,322.2 239.3,322.9 239.3,323.5 239.3,324.1 239.3,324.7 239.3,325.3 239.4,326.1 239.4,327.0 239.4,327.8 239.4,328.6 239.5,329.4 239.5,330.1 239.5,330.9 239.5,331.6 239.5,332.3 239.6,333.0 239.6,333.7 239.6,334.4 239.6,335.1 239.7,335.7 239.7,336.3 239.7,337.0 239.7,337.6 239.7,338.2 239.8,338.8 239.8,339.5 239.8,340.3 239.8,341.0 239.9,341.7 239.9,342.4 239.9,343.1 240.0,343.7 240.0,344.4 240.0,345.0 240.0,345.6 240.1,346.2 240.1,346.8 240.1,347.4 240.2,348.1 240.2,348.7 240.2,349.4 240.3,350.0 240.3,350.7 240.4,351.3 240.4,351.9 240.4,352.5 240.5,353.0 240.5,353.7 240.5,354.3 240.6,354.9 240.6,355.6 240.7,356.1 240.7,356.7 240.8,357.3 240.8,357.9 240.9,358.5 240.9,359.1 241.0,359.7 241.0,360.3 241.1,360.9 241.1,361.5 241.2,362.1 241.2,362.6 241.3,363.2 241.4,363.7 241.4,364.3 241.5,364.8 241.6,365.4 241.6,365.9 241.7,366.5 241.8,367.0 241.9,367.6 241.9,368.2 242.0,368.7 242.1,369.3 242.2,369.8 242.3,370.3 242.4,370.9 242.5,371.4 242.6,371.9 242.7,372.4 242.8,373.0 242.9,373.5 243.0,374.0 243.1,374.5 243.2,375.0 243.4,375.5 243.5,376.0 243.6,376.5 243.8,377.0 243.9,377.4 244.0,377.9 244.2,378.4 244.4,378.8 244.5,379.3 244.7,379.7 244.9,380.1 245.0,380.6 245.2,381.0 245.4,381.4 245.6,381.8 245.8,382.2 246.1,382.7 246.3,383.0 246.5,383.4 246.8,383.8 247.0,384.2 247.3,384.5 247.5,384.9 247.8,385.2 248.1,385.6 248.3,385.9 248.6,386.2 249.0,386.5 249.3,386.9 249.6,387.2 250.0,387.5 250.3,387.7 250.8,388.1 251.3,388.5 251.8,388.8 252.3,389.1 252.8,389.4 253.4,389.7 253.9,389.9 254.4,390.2 254.9,390.4 255.4,390.6 255.9,390.8 256.4,391.0 256.9,391.2 257.4,391.3 257.9,391.5 258.4,391.7 258.9,391.8 259.4,391.9 259.9,392.1 260.4,392.2 260.9,392.3 261.5,392.4 262.0,392.5 262.5,392.6 263.0,392.7 263.5,392.8 264.2,392.9 264.8,393.1 265.5,393.2 266.2,393.3 266.9,393.4 267.5,393.5 268.2,393.6 268.9,393.6 269.6,393.7 270.2,393.8 270.9,393.9 271.6,394.0 272.3,394.0 272.9,394.1 273.6,394.2 274.3,394.2 275.0,394.3 275.6,394.3 276.3,394.4 277.0,394.4 277.7,394.5 278.3,394.5 279.0,394.6 279.7,394.6 280.4,394.7 281.0,394.7 281.7,394.7 282.4,394.8 283.1,394.8 283.7,394.9 284.4,394.9 285.1,394.9 285.8,395.0 286.4,395.0 287.1,395.0 287.8,395.1 288.5,395.1 289.1,395.1 289.3,395.1" fill="none" stroke="#46a218" stroke-width="1.85" stroke-linejoin="round"/>
<path d="M36.3,394.6 37.0,394.6 37.7,394.6 38.3,394.6 39.0,394.6 39.7,394.6 40.4,394.6 41.0,394.6 41.7,394.6 42.4,394.5 43.1,394.5 43.7,394.5 44.4,394.5 45.1,394.5 45.8,394.5 46.4,394.5 47.1,394.5 47.8,394.4 48.5,394.4 49.1,394.4 49.8,394.4 50.5,394.4 51.2,394.4 51.8,394.4 52.5,394.3 53.2,394.3 53.9,394.3 54.5,394.3 55.2,394.3 55.9,394.3 56.6,394.3 57.2,394.2 57.9,394.2 58.6,394.2 59.3,394.2 59.9,394.2 60.6,394.2 61.3,394.1 62.0,394.1 62.6,394.1 63.3,394.1 64.0,394.1 64.7,394.0 65.3,394.0 66.0,394.0 66.7,394.0 67.4,394.0 68.0,393.9 68.7,393.9 69.4,393.9 70.1,393.9 70.7,393.9 71.4,393.8 72.1,393.8 72.8,393.8 73.4,393.8 74.1,393.7 74.8,393.7 75.5,393.7 76.1,393.7 76.8,393.6 77.5,393.6 78.2,393.6 78.8,393.6 79.5,393.5 80.2,393.5 80.9,393.5 81.5,393.4 82.2,393.4 82.9,393.4 83.6,393.3 84.2,393.3 84.9,393.3 85.6,393.2 86.3,393.2 86.9,393.2 87.6,393.1 88.3,393.1 89.0,393.0 89.6,393.0 90.3,393.0 91.0,392.9 91.7,392.9 92.3,392.8 93.0,392.8 93.7,392.7 94.4,392.7 95.0,392.6 95.7,392.6 96.4,392.5 97.1,392.5 97.7,392.4 98.4,392.3 99.1,392.3 99.8,392.2 100.4,392.2 101.1,392.1 101.8,392.0 102.5,391.9 103.1,391.9 103.8,391.8 104.5,391.7 105.2,391.6 105.8,391.6 106.5,391.5 107.2,391.4 107.9,391.3 108.5,391.2 109.2,391.1 109.9,391.0 110.6,390.9 111.2,390.8 111.9,390.6 112.6,390.5 113.1,390.4 113.6,390.3 114.1,390.2 114.6,390.1 115.1,390.0 115.6,389.9 116.1,389.8 116.6,389.7 117.1,389.5 117.7,389.4 118.2,389.3 118.7,389.1 119.2,389.0 119.7,388.8 120.2,388.7 120.7,388.5 121.2,388.4 121.7,388.2 122.2,388.0 122.7,387.8 123.2,387.6 123.7,387.4 124.2,387.2 124.7,387.0 125.2,386.7 125.8,386.5 126.3,386.2 126.8,385.9 127.3,385.6 127.8,385.4 128.3,385.0 128.8,384.7 129.3,384.4 129.8,384.0 130.3,383.6 130.6,383.3 131.0,383.1 131.3,382.8 131.6,382.5 132.0,382.2 132.3,381.9 132.6,381.6 132.9,381.3 133.2,381.0 133.5,380.7 133.8,380.4 134.1,380.1 134.4,379.8 134.7,379.5 134.9,379.1 135.2,378.8 135.5,378.5 135.8,378.2 136.1,377.8 136.3,377.5 136.6,377.2 136.9,376.8 137.2,376.5 137.4,376.2 137.7,375.8 138.0,375.5 138.3,375.2 138.6,374.8 138.9,374.5 139.2,374.2 139.5,373.9 139.8,373.7 140.1,373.4 140.5,373.2 140.9,372.9 141.3,372.8 141.9,372.7 142.4,372.8 142.9,372.9 143.3,373.1 143.7,373.3 144.0,373.6 144.3,373.9 144.6,374.2 144.9,374.5 145.2,374.8 145.5,375.1 145.8,375.5 146.1,375.8 146.3,376.1 146.6,376.5 146.9,376.8 147.1,377.1 147.4,377.5 147.7,377.8 148.0,378.1 148.2,378.5 148.5,378.8 148.8,379.1 149.0,379.5 149.3,379.8 149.6,380.1 149.9,380.4 150.2,380.8 150.5,381.1 150.8,381.4 151.1,381.7 151.4,382.0 151.7,382.3 152.0,382.6 152.3,382.9 152.8,383.3 153.1,383.5 153.4,383.8 153.8,384.1 154.3,384.5 154.8,384.8 155.3,385.2 155.8,385.5 156.3,385.8 156.8,386.1 157.3,386.4 157.8,386.7 158.3,387.0 158.8,387.2 159.3,387.4 159.8,387.7 160.4,387.9 160.9,388.1 161.4,388.3 161.9,388.5 162.4,388.7 162.9,388.8 163.4,389.0 163.9,389.2 164.4,389.3 164.9,389.5 165.4,389.6 165.9,389.8 166.4,389.9 166.9,390.0 167.4,390.2 167.9,390.3 168.5,390.4 169.0,390.5 169.5,390.6 170.0,390.7 170.5,390.8 171.0,390.9 171.5,391.0 172.2,391.1 172.8,391.3 173.5,391.4 174.2,391.5 174.9,391.6 175.5,391.7 176.2,391.8 176.9,391.9 177.6,392.0 178.2,392.0 178.9,392.1 179.6,392.2 180.3,392.3 180.9,392.4 181.6,392.4 182.3,392.5 183.0,392.6 183.6,392.6 184.3,392.7 185.0,392.8 185.7,392.8 186.3,392.9 187.0,393.0 187.7,393.0 188.4,393.1 189.0,393.1 189.7,393.2 190.4,393.2 191.1,393.3 191.7,393.3 192.4,393.4 193.1,393.4 193.8,393.4 194.4,393.5 195.1,393.5 195.8,393.6 196.5,393.6 197.1,393.6 197.8,393.7 198.5,393.7 199.2,393.8 199.8,393.8 200.5,393.8 201.2,393.9 201.9,393.9 202.5,393.9 203.2,394.0 203.9,394.0 204.6,394.0 205.2,394.0 205.9,394.1 206.6,394.1 207.3,394.1 207.9,394.2 208.6,394.2 209.3,394.2 210.0,394.2 210.6,394.3 211.3,394.3 212.0,394.3 212.7,394.3 213.3,394.4 214.0,394.4 214.7,394.4 215.4,394.4 216.0,394.4 216.7,394.5 217.4,394.5 218.1,394.5 218.8,394.5 219.4,394.5 220.1,394.6 220.8,394.6 221.5,394.6 222.1,394.6 222.8,394.6 223.5,394.7 224.2,394.7 224.8,394.7 225.5,394.7 226.2,394.7 226.8,394.7 227.4,394.8 227.9,394.8 228.5,394.8 229.1,394.8 229.7,394.8 230.3,394.8 230.9,394.8 231.5,394.8 232.1,394.9 232.7,394.9 233.3,394.9 233.9,394.9 234.5,394.9 235.0,394.9 235.6,394.9 236.2,394.9 236.8,395.0 237.4,395.0 238.0,395.0 238.6,395.0 239.2,395.0 239.8,395.0 240.4,395.0 241.0,395.0 241.6,395.0 242.1,395.1 242.7,395.1 243.3,395.1 243.9,395.1 244.5,395.1 245.1,395.1 245.7,395.1 246.3,395.1 246.9,395.1 247.5,395.1 248.1,395.2 248.8,395.2 249.5,395.2 250.1,395.2 250.8,395.2 251.5,395.2 252.2,395.2 252.8,395.2 253.5,395.2 254.2,395.2 254.9,395.2 255.5,395.3 256.2,395.3 256.9,395.3 257.6,395.3 258.2,395.3 258.9,395.3 259.6,395.3 260.3,395.3 260.9,395.3 261.6,395.3 262.3,395.3 263.0,395.4 263.6,395.4 264.3,395.4 265.0,395.4 265.7,395.4 266.3,395.4 267.0,395.4 267.7,395.4 268.4,395.4 269.0,395.4 269.7,395.4 270.4,395.4 271.1,395.4 271.7,395.4 272.4,395.5 273.1,395.5 273.8,395.5 274.4,395.5 275.1,395.5 275.8,395.5 276.5,395.5 277.1,395.5 277.8,395.5 278.5,395.5 279.2,395.5 279.8,395.5 280.5,395.5 281.2,395.5 281.9,395.5 282.5,395.5 283.2,395.6 283.9,395.6 284.6,395.6 285.2,395.6 285.9,395.6 286.6,395.6 287.3,395.6 287.9,395.6 288.6,395.6 289.3,395.6 289.3,395.6" fill="none" stroke="#2d62fa" stroke-width="2.7" stroke-dasharray="1.6 0.95"/>
<path d="M36.3,395.9 37.0,395.9 37.7,395.9 38.3,395.9 39.0,395.9 39.7,395.9 40.4,395.9 41.0,395.9 41.7,395.9 42.4,395.9 43.1,395.9 43.7,395.9 44.4,395.9 45.1,395.9 45.8,395.9 46.4,395.9 47.1,395.9 47.8,395.9 48.5,395.9 49.1,395.9 49.8,395.8 50.5,395.8 51.2,395.8 51.8,395.8 52.5,395.8 53.2,395.8 53.9,395.8 54.5,395.8 55.2,395.8 55.9,395.8 56.6,395.8 57.2,395.8 57.9,395.8 58.6,395.8 59.3,395.8 59.9,395.8 60.6,395.8 61.3,395.8 62.0,395.8 62.6,395.8 63.3,395.8 64.0,395.8 64.7,395.8 65.3,395.8 66.0,395.8 66.7,395.8 67.4,395.8 68.0,395.8 68.7,395.8 69.4,395.8 70.1,395.8 70.7,395.8 71.4,395.7 72.1,395.7 72.8,395.7 73.4,395.7 74.1,395.7 74.8,395.7 75.5,395.7 76.1,395.7 76.8,395.7 77.5,395.7 78.2,395.7 78.8,395.7 79.5,395.7 80.2,395.7 80.9,395.7 81.5,395.7 82.2,395.7 82.9,395.7 83.6,395.7 84.2,395.7 84.9,395.7 85.6,395.7 86.3,395.7 86.9,395.7 87.6,395.7 88.3,395.7 89.0,395.6 89.6,395.6 90.3,395.6 91.0,395.6 91.7,395.6 92.3,395.6 93.0,395.6 93.7,395.6 94.4,395.6 95.0,395.6 95.7,395.6 96.4,395.6 97.1,395.6 97.7,395.6 98.4,395.6 99.1,395.6 99.8,395.6 100.4,395.6 101.1,395.6 101.8,395.6 102.5,395.6 103.1,395.5 103.8,395.5 104.5,395.5 105.2,395.5 105.8,395.5 106.5,395.5 107.2,395.5 107.9,395.5 108.5,395.5 109.2,395.5 109.9,395.5 110.6,395.5 111.2,395.5 111.9,395.5 112.6,395.5 113.3,395.5 113.9,395.5 114.6,395.5 115.3,395.4 116.0,395.4 116.6,395.4 117.3,395.4 118.0,395.4 118.7,395.4 119.3,395.4 120.0,395.4 120.7,395.4 121.4,395.4 122.0,395.4 122.7,395.4 123.4,395.4 124.1,395.4 124.7,395.3 125.4,395.3 126.1,395.3 126.8,395.3 127.4,395.3 128.1,395.3 128.8,395.3 129.5,395.3 130.1,395.3 130.8,395.3 131.3,395.3 131.9,395.3 132.5,395.3 133.1,395.2 133.7,395.2 134.3,395.2 134.9,395.2 135.5,395.2 136.1,395.2 136.7,395.2 137.3,395.2 137.9,395.2 138.5,395.2 139.1,395.2 139.6,395.2 140.2,395.1 140.8,395.1 141.4,395.1 142.0,395.1 142.6,395.1 143.2,395.1 143.8,395.1 144.4,395.1 145.0,395.1 145.6,395.1 146.2,395.1 146.8,395.0 147.4,395.0 147.9,395.0 148.5,395.0 149.1,395.0 149.7,395.0 150.3,395.0 150.9,395.0 151.5,395.0 152.1,394.9 152.8,394.9 153.4,394.9 154.1,394.9 154.8,394.9 155.5,394.9 156.1,394.9 156.8,394.9 157.5,394.8 158.2,394.8 158.8,394.8 159.5,394.8 160.2,394.8 160.9,394.8 161.5,394.7 162.2,394.7 162.9,394.7 163.6,394.7 164.2,394.7 164.9,394.7 165.6,394.6 166.3,394.6 166.9,394.6 167.6,394.6 168.3,394.6 169.0,394.5 169.6,394.5 170.3,394.5 171.0,394.5 171.7,394.5 172.3,394.4 173.0,394.4 173.7,394.4 174.4,394.4 175.0,394.3 175.7,394.3 176.4,394.3 177.1,394.3 177.7,394.2 178.4,394.2 179.1,394.2 179.8,394.2 180.4,394.1 181.1,394.1 181.8,394.1 182.5,394.0 183.1,394.0 183.8,394.0 184.5,393.9 185.2,393.9 185.8,393.9 186.5,393.8 187.2,393.8 187.9,393.8 188.5,393.7 189.2,393.7 189.9,393.6 190.6,393.6 191.2,393.6 191.9,393.5 192.6,393.5 193.3,393.4 193.9,393.4 194.6,393.3 195.3,393.3 196.0,393.2 196.6,393.1 197.3,393.1 198.0,393.0 198.7,393.0 199.3,392.9 200.0,392.8 200.7,392.8 201.4,392.7 202.0,392.6 202.7,392.5 203.4,392.5 204.1,392.4 204.7,392.3 205.4,392.2 206.1,392.1 206.8,392.0 207.4,391.9 208.1,391.8 208.8,391.7 209.5,391.6 210.1,391.4 210.6,391.4 211.2,391.3 211.7,391.1 212.2,391.0 212.7,390.9 213.2,390.8 213.7,390.7 214.2,390.6 214.7,390.4 215.2,390.3 215.7,390.1 216.2,390.0 216.7,389.8 217.2,389.7 217.7,389.5 218.2,389.3 218.8,389.1 219.3,388.9 219.8,388.7 220.3,388.4 220.8,388.2 221.3,387.9 221.8,387.6 222.3,387.4 222.8,387.0 223.3,386.7 223.8,386.3 224.3,385.9 224.7,385.7 225.0,385.4 225.3,385.1 225.7,384.7 226.0,384.4 226.3,384.0 226.7,383.6 227.0,383.3 227.2,383.0 227.5,382.6 227.7,382.2 228.0,381.9 228.2,381.5 228.5,381.1 228.7,380.7 228.9,380.3 229.1,379.9 229.3,379.5 229.5,379.1 229.7,378.7 229.9,378.3 230.0,377.8 230.2,377.4 230.4,376.9 230.5,376.5 230.7,376.0 230.9,375.6 231.0,375.1 231.1,374.6 231.3,374.1 231.4,373.7 231.5,373.2 231.7,372.7 231.8,372.2 231.9,371.7 232.0,371.2 232.1,370.7 232.2,370.1 232.3,369.6 232.4,369.1 232.5,368.6 232.6,368.0 232.7,367.5 232.8,367.0 232.9,366.4 233.0,365.9 233.1,365.3 233.1,364.8 233.2,364.2 233.3,363.7 233.4,363.1 233.4,362.5 233.5,362.0 233.6,361.4 233.6,360.8 233.7,360.2 233.8,359.7 233.8,359.1 233.9,358.5 233.9,357.9 234.0,357.3 234.0,356.8 234.1,356.2 234.1,355.6 234.2,355.0 234.2,354.4 234.3,353.7 234.3,353.1 234.4,352.5 234.4,351.9 234.5,351.3 234.5,350.7 234.5,350.0 234.6,349.4 234.6,348.8 234.7,348.2 234.7,347.6 234.7,347.0 234.8,346.3 234.8,345.7 234.8,345.0 234.9,344.3 234.9,343.6 234.9,343.0 235.0,342.4 235.0,341.8 235.0,341.2 235.1,340.6 235.1,339.9 235.1,339.3 235.1,338.6 235.2,337.9 235.2,337.2 235.2,336.5 235.3,335.7 235.3,335.0 235.3,334.4 235.3,333.8 235.4,333.2 235.4,332.5 235.4,331.9 235.4,331.3 235.4,330.6 235.5,329.9 235.5,329.3 235.5,328.6 235.5,327.8 235.6,327.1 235.6,326.4 235.6,325.6 235.6,324.8 235.6,324.0 235.7,323.2 235.7,322.4 235.7,321.5 235.7,320.7 235.7,320.1 235.8,319.5 235.8,318.9 235.8,318.3 235.8,317.6 235.8,317.0 235.8,316.3 235.8,315.7 235.9,315.0 235.9,314.3 235.9,313.6 235.9,312.9 235.9,312.2 235.9,311.5 235.9,310.7 236.0,310.0 236.0,309.2 236.0,308.4 236.0,307.7 236.0,306.8 236.0,306.0 236.0,305.2 236.1,304.3 236.1,303.5 236.1,302.6 236.1,301.7 236.1,300.7 236.1,299.8 236.1,298.9 236.2,297.9 236.2,296.9 236.2,295.9 236.2,294.8 236.2,293.8 236.2,292.7 236.2,291.6 236.3,290.5 236.3,289.3 236.3,288.1 236.3,287.6 236.3,286.9 236.3,286.3 236.3,285.7 236.3,285.1 236.3,284.5 236.3,283.8 236.3,283.2 236.4,282.5 236.4,281.9 236.4,281.2 236.4,280.5 236.4,279.9 236.4,279.2 236.4,278.5 236.4,277.8 236.4,277.1 236.4,276.3 236.4,275.6 236.4,274.9 236.4,274.1 236.4,273.4 236.5,272.6 236.5,271.8 236.5,271.0 236.5,270.2 236.5,269.4 236.5,268.8 236.5,268.2 236.5,267.5 236.5,266.8 236.5,266.1 236.5,265.5 236.5,264.9 236.5,264.3 236.5,263.7 236.5,263.1 236.5,262.5 236.5,261.8 236.6,261.2 236.6,260.5 236.6,259.9 236.6,259.2 236.6,258.6 236.6,258.0 236.6,257.3 236.6,256.6 236.6,256.0 236.6,255.4 236.6,254.8 236.6,254.2 236.6,253.6 236.6,252.9 236.6,252.3 236.6,251.7 236.6,251.1 236.6,250.4 236.6,249.8 236.6,249.1 236.6,248.5 236.6,247.8 236.7,247.2 236.7,246.6 236.7,245.9 236.7,245.3 236.7,244.6 236.7,243.9 236.7,243.2 236.7,242.5 236.7,241.8 236.7,241.2 236.7,240.6 236.7,240.0 236.7,239.4 236.7,238.7 236.7,238.1 236.7,237.5 236.7,236.9 236.7,236.2 236.7,235.6 236.7,235.0 236.7,234.3 236.7,233.6 236.7,233.0 236.7,232.3 236.7,231.7 236.7,231.0 236.8,230.3 236.8,229.6 236.8,228.9 236.8,228.2 236.8,227.5 236.8,226.8 237.2,226.6 237.8,226.6 238.4,226.6 238.4,227.2 238.4,228.0 238.4,228.6 238.4,229.3 238.4,230.0 238.4,230.7 238.4,231.4 238.4,232.1 238.4,232.7 238.4,233.4 238.4,234.0 238.4,234.7 238.4,235.3 238.4,236.0 238.4,236.6 238.4,237.2 238.4,237.9 238.4,238.5 238.4,239.1 238.4,239.7 238.4,240.3 238.5,240.9 238.5,241.5 238.5,242.2 238.5,243.0 238.5,243.7 238.5,244.3 238.5,244.9 238.5,245.6 238.5,246.3 238.5,246.9 238.5,247.6 238.5,248.3 238.5,248.9 238.5,249.6 238.5,250.2 238.5,250.9 238.5,251.5 238.5,252.1 238.5,252.7 238.5,253.4 238.5,254.0 238.5,254.6 238.5,255.2 238.6,255.8 238.6,256.5 238.6,257.1 238.6,257.8 238.6,258.5 238.6,259.1 238.6,259.8 238.6,260.5 238.6,261.1 238.6,261.7 238.6,262.4 238.6,263.0 238.6,263.6 238.6,264.2 238.6,264.9 238.6,265.5 238.6,266.1 238.6,266.7 238.6,267.4 238.6,268.1 238.7,268.7 238.7,269.4 238.7,270.0 238.7,271.0 238.7,271.8 238.7,272.6 238.7,273.4 238.7,274.1 238.7,274.9 238.7,275.6 238.7,276.3 238.7,277.1 238.7,277.8 238.7,278.5 238.8,279.2 238.8,279.9 238.8,280.5 238.8,281.2 238.8,281.9 238.8,282.5 238.8,283.2 238.8,283.8 238.8,284.5 238.8,285.1 238.8,285.7 238.8,286.3 238.8,286.9 238.8,287.6 238.9,288.1 238.9,289.3 238.9,290.5 238.9,291.6 238.9,292.7 238.9,293.8 238.9,294.8 239.0,295.9 239.0,296.9 239.0,297.9 239.0,298.9 239.0,299.8 239.0,300.7 239.0,301.7 239.1,302.6 239.1,303.5 239.1,304.3 239.1,305.2 239.1,306.0 239.1,306.8 239.1,307.7 239.2,308.4 239.2,309.1 239.2,310.0 239.2,310.7 239.2,311.5 239.2,312.2 239.2,312.9 239.3,313.6 239.3,314.3 239.3,315.0 239.3,315.7 239.3,316.3 239.3,317.0 239.3,317.6 239.4,318.3 239.4,318.9 239.4,319.5 239.4,320.1 239.4,320.7 239.4,321.5 239.5,322.4 239.5,323.2 239.5,324.0 239.5,324.8 239.6,325.6 239.6,326.4 239.6,327.1 239.6,327.8 239.6,328.6 239.7,329.3 239.7,329.9 239.7,330.6 239.7,331.3 239.7,331.9 239.8,332.5 239.8,333.2 239.8,333.8 239.8,334.4 239.9,335.0 239.9,335.7 239.9,336.5 239.9,337.2 240.0,337.9 240.0,338.6 240.0,339.3 240.1,339.9 240.1,340.6 240.1,341.2 240.1,341.8 240.2,342.4 240.2,343.0 240.2,343.6 240.3,344.3 240.3,345.0 240.3,345.7 240.4,346.3 240.4,347.0 240.4,347.6 240.5,348.2 240.5,348.8 240.6,349.4 240.6,350.0 240.6,350.7 240.7,351.3 240.7,351.9 240.8,352.5 240.8,353.1 240.9,353.7 240.9,354.4 241.0,355.0 241.0,355.6 241.1,356.2 241.1,356.8 241.2,357.3 241.2,357.9 241.3,358.5 241.3,359.1 241.4,359.7 241.5,360.2 241.5,360.8 241.6,361.4 241.6,362.0 241.7,362.5 241.8,363.1 241.9,363.7 241.9,364.2 242.0,364.8 242.1,365.3 242.2,365.9 242.2,366.4 242.3,367.0 242.4,367.5 242.5,368.0 242.6,368.6 242.7,369.1 242.8,369.6 242.9,370.1 243.0,370.7 243.1,371.2 243.2,371.7 243.4,372.2 243.5,372.7 243.6,373.2 243.7,373.7 243.9,374.1 244.0,374.6 244.1,375.1 244.3,375.6 244.4,376.0 244.6,376.5 244.8,376.9 244.9,377.4 245.1,377.8 245.3,378.3 245.5,378.7 245.6,379.1 245.8,379.5 246.0,379.9 246.3,380.3 246.5,380.7 246.7,381.1 246.9,381.5 247.2,381.9 247.4,382.2 247.7,382.6 247.9,383.0 248.2,383.3 248.6,383.8 249.0,384.2 249.3,384.6 249.6,384.9 250.0,385.2 250.3,385.5 250.6,385.8 251.0,386.1 251.5,386.5 252.0,386.8 252.5,387.1 253.0,387.4 253.5,387.7 254.0,388.0 254.5,388.3 255.0,388.5 255.5,388.7 256.1,389.0 256.6,389.2 257.1,389.4 257.6,389.5 258.1,389.7 258.6,389.9 259.1,390.0 259.6,390.2 260.1,390.3 260.6,390.5 261.1,390.6 261.6,390.7 262.1,390.8 262.6,391.0 263.1,391.1 263.6,391.2 264.2,391.3 264.7,391.4 265.2,391.5 265.8,391.6 266.5,391.7 267.2,391.8 267.9,391.9 268.5,392.0 269.2,392.1 269.9,392.2 270.6,392.3 271.2,392.4 271.9,392.5 272.6,392.6 273.3,392.6 273.9,392.7 274.6,392.8 275.3,392.9 276.0,392.9 276.6,393.0 277.3,393.0 278.0,393.1 278.7,393.2 279.3,393.2 280.0,393.3 280.7,393.3 281.4,393.4 282.0,393.4 282.7,393.5 283.4,393.5 284.1,393.6 284.7,393.6 285.4,393.6 286.1,393.7 286.8,393.7 287.4,393.8 288.1,393.8 288.8,393.8 289.3,393.9" fill="none" stroke="#d8105e" stroke-width="2.2" stroke-dasharray="1.7 1.3"/>
</g>
<g clip-path="url(#clip_bb)">
<path d="M354.1,395.0 354.8,395.0 355.5,395.0 356.1,394.9 356.8,394.9 357.5,394.9 358.2,394.9 358.8,394.9 359.5,394.8 360.2,394.8 360.9,394.8 361.5,394.8 362.2,394.8 362.9,394.7 363.6,394.7 364.2,394.7 364.9,394.7 365.6,394.6 366.3,394.6 366.9,394.6 367.6,394.6 368.3,394.5 369.0,394.5 369.6,394.5 370.3,394.5 371.0,394.4 371.7,394.4 372.3,394.4 373.0,394.3 373.7,394.3 374.4,394.3 375.1,394.3 375.7,394.2 376.4,394.2 377.1,394.1 377.8,394.1 378.4,394.1 379.1,394.0 379.8,394.0 380.5,394.0 381.1,393.9 381.8,393.9 382.5,393.8 383.2,393.8 383.8,393.7 384.5,393.7 385.2,393.6 385.9,393.6 386.5,393.5 387.2,393.5 387.9,393.4 388.6,393.4 389.2,393.3 389.9,393.3 390.6,393.2 391.3,393.1 392.0,393.1 392.6,393.0 393.3,392.9 394.0,392.9 394.7,392.8 395.3,392.7 396.0,392.6 396.7,392.5 397.4,392.4 398.0,392.4 398.7,392.3 399.4,392.2 400.1,392.1 400.7,392.0 401.4,391.8 402.1,391.7 402.8,391.6 403.3,391.5 403.8,391.4 404.3,391.3 404.8,391.2 405.3,391.1 405.8,391.0 406.3,390.9 406.8,390.8 407.3,390.6 407.8,390.5 408.3,390.4 408.8,390.2 409.4,390.1 409.9,389.9 410.4,389.8 410.9,389.6 411.4,389.5 411.9,389.3 412.4,389.1 412.9,388.9 413.4,388.7 413.9,388.5 414.4,388.2 414.9,388.0 415.4,387.8 415.9,387.5 416.5,387.2 417.0,386.9 417.5,386.6 418.0,386.3 418.5,385.9 419.0,385.6 419.3,385.3 419.7,385.0 420.0,384.7 420.3,384.4 420.7,384.1 421.0,383.8 421.4,383.4 421.7,383.1 422.0,382.7 422.3,382.4 422.6,382.0 422.8,381.7 423.1,381.3 423.4,381.0 423.6,380.6 423.8,380.2 424.1,379.8 424.3,379.5 424.5,379.1 424.7,378.7 424.9,378.3 425.1,377.9 425.3,377.4 425.5,377.0 425.7,376.6 425.9,376.2 426.1,375.7 426.3,375.3 426.4,374.9 426.6,374.4 426.7,373.9 426.9,373.5 427.1,373.0 427.2,372.6 427.3,372.1 427.5,371.6 427.6,371.1 427.7,370.7 427.9,370.2 428.0,369.7 428.1,369.2 428.2,368.7 428.3,368.1 428.5,367.6 428.6,367.1 428.7,366.6 428.8,366.1 428.9,365.5 429.0,365.0 429.1,364.5 429.2,363.9 429.2,363.4 429.3,362.9 429.4,362.3 429.5,361.8 429.6,361.2 429.7,360.7 429.7,360.1 429.8,359.5 429.9,359.0 430.0,358.4 430.0,357.8 430.1,357.2 430.2,356.7 430.2,356.1 430.3,355.5 430.4,354.9 430.4,354.3 430.5,353.8 430.5,353.2 430.6,352.5 430.7,351.9 430.7,351.4 430.8,350.8 430.8,350.2 430.9,349.6 430.9,349.0 431.0,348.4 431.0,347.7 431.1,347.1 431.1,346.5 431.1,345.9 431.2,345.3 431.2,344.7 431.3,344.1 431.3,343.5 431.4,342.8 431.4,342.2 431.4,341.5 431.5,340.8 431.5,340.2 431.6,339.6 431.6,339.0 431.6,338.4 431.7,337.8 431.7,337.2 431.7,336.6 431.8,335.9 431.8,335.2 431.8,334.5 431.9,333.8 431.9,333.1 431.9,332.4 432.0,331.6 432.0,330.9 432.0,330.3 432.0,329.7 432.1,329.1 432.1,328.5 432.1,327.8 432.1,327.2 432.2,326.6 432.2,325.9 432.2,325.2 432.2,324.5 432.3,323.8 432.3,323.1 432.3,322.4 432.3,321.6 432.4,320.8 432.4,320.1 432.4,319.3 432.4,318.5 432.5,317.6 432.5,316.8 432.5,315.9 432.5,315.1 432.6,314.5 432.6,313.9 432.6,313.3 432.6,312.6 432.6,312.0 432.7,311.4 432.7,310.7 432.7,310.1 432.7,309.4 432.7,308.7 432.7,308.0 432.8,307.3 432.8,306.6 432.8,305.9 432.8,305.1 432.8,304.4 432.8,303.6 432.9,302.9 432.9,302.1 432.9,301.3 432.9,300.5 432.9,299.7 432.9,298.8 433.0,298.0 433.0,297.1 433.0,296.2 433.0,295.3 433.0,294.4 433.0,293.5 433.1,292.5 433.1,291.6 433.1,290.6 433.1,289.6 433.1,288.6 433.1,287.5 433.2,286.5 433.2,285.4 433.2,284.3 433.2,283.2 433.2,282.1 433.2,280.9 433.3,279.7 433.3,279.1 433.3,278.5 433.3,277.9 433.3,277.3 433.3,276.7 433.3,276.0 433.3,275.4 433.3,274.7 433.3,274.1 433.3,273.4 433.4,272.8 433.4,272.1 433.4,271.4 433.4,270.7 433.4,270.0 433.4,269.3 433.4,268.6 433.4,267.9 433.4,267.2 433.4,266.4 433.4,265.7 433.4,264.9 433.5,264.2 433.5,263.4 433.5,262.6 433.5,261.8 433.5,261.0 433.5,260.2 433.5,259.4 433.5,258.6 433.5,257.8 433.5,256.9 433.5,256.1 433.5,255.2 433.6,254.3 433.6,253.5 433.6,252.6 433.6,251.7 433.6,250.7 433.6,249.8 433.6,248.9 433.6,248.3 433.6,247.6 433.6,247.0 433.6,246.3 433.6,245.6 433.6,245.0 433.6,244.4 433.6,243.7 433.7,243.1 433.7,242.5 433.7,241.9 433.7,241.3 433.7,240.7 433.7,240.0 433.7,239.4 433.7,238.7 433.7,238.1 433.7,237.4 433.7,236.8 433.7,236.1 433.7,235.5 433.7,234.9 433.7,234.2 433.7,233.5 433.7,232.8 433.7,232.1 433.7,231.4 433.8,230.7 433.8,230.0 433.8,229.4 433.8,228.8 433.8,228.2 433.8,227.6 433.8,227.0 434.1,226.7 434.7,226.7 435.3,226.7 435.9,226.7 436.0,227.3 436.0,227.9 436.0,228.6 436.0,229.3 436.0,229.9 436.1,230.5 436.1,231.2 436.1,231.9 436.1,232.6 436.1,233.3 436.1,233.9 436.1,234.6 436.1,235.2 436.1,235.9 436.1,236.5 436.1,237.2 436.1,237.8 436.1,238.4 436.1,239.1 436.1,239.7 436.1,240.3 436.1,240.9 436.1,241.5 436.1,242.1 436.1,242.8 436.2,243.7 436.2,244.7 436.2,245.7 436.2,246.6 436.2,247.6 436.2,248.5 436.2,249.4 436.2,250.3 436.2,251.2 436.2,252.1 436.2,252.9 436.2,253.8 436.3,254.6 436.3,255.5 436.3,256.3 436.3,257.1 436.3,257.9 436.3,258.7 436.3,259.5 436.3,260.3 436.3,261.1 436.3,261.8 436.3,262.6 436.4,263.4 436.4,264.1 436.4,264.8 436.4,265.5 436.4,266.3 436.4,267.0 436.4,267.7 436.4,268.4 436.4,269.0 436.4,269.7 436.4,270.4 436.4,271.1 436.5,271.7 436.5,272.4 436.5,273.0 436.5,273.7 436.5,274.3 436.5,274.9 436.5,275.5 436.5,276.1 436.5,276.7 436.5,277.3 436.5,277.9 436.6,279.1 436.6,279.7 436.6,280.8 436.6,281.9 436.6,283.0 436.6,284.1 436.6,285.1 436.7,286.2 436.7,287.2 436.7,288.2 436.7,289.2 436.7,290.1 436.7,291.1 436.8,292.0 436.8,292.9 436.8,293.8 436.8,294.7 436.8,295.5 436.8,296.4 436.9,297.2 436.9,298.0 436.9,298.8 436.9,299.6 436.9,300.4 437.0,301.2 437.0,301.9 437.0,302.7 437.0,303.4 437.0,304.1 437.0,304.8 437.1,305.5 437.1,306.2 437.1,306.9 437.1,307.6 437.1,308.2 437.1,308.9 437.2,309.5 437.2,310.2 437.2,310.8 437.2,311.4 437.2,312.0 437.2,312.6 437.3,313.2 437.3,314.0 437.3,314.9 437.3,315.7 437.4,316.5 437.4,317.3 437.4,318.1 437.4,318.9 437.5,319.6 437.5,320.3 437.5,321.1 437.5,321.8 437.6,322.5 437.6,323.1 437.6,323.8 437.6,324.5 437.7,325.1 437.7,325.7 437.7,326.4 437.7,327.0 437.8,327.6 437.8,328.2 437.8,328.7 437.8,329.5 437.9,330.2 437.9,331.0 437.9,331.7 438.0,332.4 438.0,333.0 438.0,333.7 438.1,334.3 438.1,335.0 438.1,335.6 438.2,336.2 438.2,336.8 438.3,337.4 438.3,338.0 438.3,338.7 438.4,339.4 438.4,340.0 438.5,340.7 438.5,341.3 438.5,341.9 438.6,342.5 438.6,343.1 438.7,343.7 438.7,344.3 438.8,345.0 438.8,345.6 438.9,346.2 438.9,346.9 439.0,347.5 439.0,348.0 439.1,348.6 439.1,349.2 439.2,349.8 439.2,350.4 439.3,351.0 439.3,351.6 439.4,352.2 439.5,352.7 439.5,353.3 439.6,353.9 439.7,354.5 439.7,355.0 439.8,355.6 439.9,356.1 439.9,356.7 440.0,357.3 440.1,357.8 440.2,358.4 440.3,359.0 440.3,359.5 440.4,360.1 440.5,360.6 440.6,361.2 440.7,361.7 440.8,362.2 440.9,362.7 441.0,363.3 441.1,363.8 441.2,364.3 441.3,364.8 441.4,365.4 441.5,365.8 441.6,366.4 441.7,366.9 441.9,367.4 442.0,367.9 442.1,368.3 442.3,368.8 442.4,369.3 442.5,369.8 442.7,370.3 442.8,370.7 443.0,371.2 443.1,371.7 443.3,372.1 443.5,372.6 443.6,373.0 443.8,373.4 444.0,373.9 444.2,374.3 444.4,374.7 444.6,375.1 444.8,375.6 445.0,376.0 445.2,376.4 445.4,376.7 445.7,377.1 445.9,377.5 446.1,377.9 446.4,378.2 446.6,378.6 446.9,378.9 447.1,379.3 447.4,379.6 447.7,380.0 448.1,380.4 448.4,380.8 448.7,381.1 449.1,381.4 449.4,381.8 449.7,382.1 450.1,382.3 450.4,382.6 450.8,382.9 451.3,383.2 451.8,383.6 452.3,383.9 452.8,384.2 453.3,384.5 453.8,384.8 454.3,385.1 454.8,385.3 455.3,385.5 455.8,385.8 456.3,386.0 456.8,386.2 457.3,386.4 457.9,386.6 458.4,386.7 458.9,386.9 459.4,387.1 459.9,387.2 460.4,387.3 460.9,387.5 461.4,387.6 461.9,387.7 462.4,387.9 462.9,388.0 463.4,388.1 463.9,388.2 464.4,388.3 465.0,388.4 465.5,388.5 466.1,388.6 466.8,388.7 467.5,388.9 468.2,389.0 468.8,389.1 469.5,389.2 470.2,389.3 470.9,389.3 471.5,389.4 472.2,389.5 472.9,389.6 473.6,389.6 474.2,389.7 474.9,389.8 475.6,389.8 476.3,389.9 476.9,390.0 477.6,390.0 478.3,390.1 479.0,390.1 479.7,390.1 480.3,390.2 481.0,390.2 481.7,390.3 482.4,390.3 483.0,390.3 483.7,390.4 484.4,390.4 485.1,390.4 485.7,390.4 486.4,390.5 487.1,390.5 487.8,390.5 488.4,390.5 489.1,390.5 489.8,390.6 490.5,390.6 491.1,390.6 491.8,390.6 492.5,390.6 493.2,390.6 493.8,390.6 494.5,390.6 495.2,390.6 495.9,390.6 496.5,390.6 497.2,390.6 497.9,390.6 498.6,390.6 499.3,390.6 499.9,390.6 500.6,390.5 501.3,390.5 502.0,390.5 502.6,390.5 503.3,390.5 504.0,390.4 504.7,390.4 505.3,390.4 506.0,390.4 506.7,390.3 507.4,390.3 508.0,390.3 508.7,390.2 509.4,390.2 510.1,390.1 510.7,390.1 511.4,390.0 512.1,390.0 512.8,389.9 513.4,389.9 514.1,389.8 514.8,389.7 515.5,389.7 516.2,389.6 516.8,389.5 517.5,389.4 518.2,389.3 518.9,389.2 519.5,389.1 520.2,389.0 520.9,388.9 521.6,388.8 522.2,388.7 522.7,388.6 523.2,388.5 523.8,388.4 524.3,388.3 524.8,388.2 525.3,388.1 525.8,387.9 526.3,387.8 526.8,387.7 527.3,387.5 527.8,387.4 528.3,387.2 528.8,387.1 529.3,386.9 529.8,386.7 530.3,386.6 530.9,386.4 531.4,386.2 531.9,386.0 532.4,385.7 532.9,385.5 533.4,385.3 533.9,385.0 534.3,384.8 534.7,384.6 535.1,384.4 535.5,384.2 535.9,384.0 536.2,383.7 536.6,383.5 537.0,383.3 537.4,383.0 537.7,382.8 538.1,382.5 538.4,382.3 538.8,382.0 539.1,381.8 539.5,381.5 539.8,381.3 540.2,381.0 540.5,380.7 540.9,380.5 541.2,380.2 541.6,379.9 541.9,379.7 542.3,379.4 542.6,379.2 543.0,378.9 543.4,378.7 543.7,378.5 544.2,378.3 544.6,378.1 545.0,378.0 545.5,377.8 546.1,377.8 546.6,377.8 547.1,377.9 547.6,378.1 548.0,378.3 548.4,378.5 548.8,378.7 549.1,379.0 549.5,379.2 549.8,379.5 550.1,379.8 550.5,380.1 550.8,380.4 551.1,380.7 551.4,381.0 551.7,381.3 552.0,381.6 552.3,381.9 552.6,382.2 552.9,382.5 553.2,382.8 553.5,383.1 553.9,383.4 554.2,383.7 554.5,383.9 554.8,384.2 555.1,384.5 555.5,384.8 555.8,385.1 556.1,385.4 556.5,385.6 556.8,385.9 557.2,386.1 557.5,386.4 557.9,386.6 558.2,386.9 558.6,387.1 559.0,387.4 559.3,387.6 559.7,387.8 560.3,388.1 560.8,388.4 561.3,388.7 561.8,388.9 562.3,389.1 562.8,389.4 563.3,389.6 563.8,389.8 564.3,390.0 564.8,390.2 565.3,390.4 565.8,390.5 566.3,390.7 566.8,390.9 567.4,391.0 567.9,391.2 568.4,391.3 568.9,391.4 569.4,391.6 569.9,391.7 570.4,391.8 570.9,391.9 571.4,392.0 571.9,392.1 572.4,392.2 572.9,392.3 573.4,392.4 574.1,392.6 574.8,392.7 575.5,392.8 576.1,392.9 576.8,393.0 577.5,393.1 578.2,393.2 578.8,393.3 579.5,393.4 580.2,393.4 580.9,393.5 581.5,393.6 582.2,393.7 582.9,393.8 583.6,393.8 584.2,393.9 584.9,393.9 585.6,394.0 586.3,394.1 587.0,394.1 587.6,394.2 588.3,394.2 589.0,394.3 589.7,394.3 590.3,394.4 591.0,394.4 591.7,394.5 592.4,394.5 593.0,394.6 593.7,394.6 594.4,394.6 595.1,394.7 595.7,394.7 596.4,394.8 597.1,394.8 597.8,394.8 598.4,394.9 599.1,394.9 599.8,394.9 600.5,395.0 601.1,395.0 601.8,395.0 602.5,395.1 603.2,395.1 603.9,395.1 604.5,395.1 605.2,395.2 605.9,395.2 606.6,395.2 607.2,395.2 607.4,395.2" fill="none" stroke="#46a218" stroke-width="1.85" stroke-linejoin="round"/>
<path d="M354.1,395.7 354.8,395.7 355.5,395.7 356.1,395.7 356.8,395.6 357.5,395.6 358.2,395.6 358.8,395.6 359.5,395.6 360.2,395.6 360.9,395.6 361.5,395.6 362.2,395.6 362.9,395.6 363.6,395.6 364.2,395.6 364.9,395.6 365.6,395.6 366.3,395.6 366.9,395.6 367.6,395.6 368.3,395.6 369.0,395.6 369.6,395.6 370.3,395.6 371.0,395.6 371.7,395.6 372.3,395.6 373.0,395.6 373.7,395.6 374.4,395.6 375.1,395.6 375.7,395.6 376.4,395.6 377.1,395.6 377.8,395.5 378.4,395.5 379.1,395.5 379.8,395.5 380.5,395.5 381.1,395.5 381.8,395.5 382.5,395.5 383.2,395.5 383.8,395.5 384.5,395.5 385.2,395.5 385.9,395.5 386.5,395.5 387.2,395.5 387.9,395.5 388.6,395.5 389.2,395.5 389.9,395.5 390.6,395.5 391.3,395.5 392.0,395.5 392.6,395.5 393.3,395.5 394.0,395.4 394.7,395.4 395.3,395.4 396.0,395.4 396.7,395.4 397.4,395.4 398.0,395.4 398.7,395.4 399.4,395.4 400.1,395.4 400.7,395.4 401.4,395.4 402.1,395.4 402.8,395.4 403.4,395.4 404.1,395.4 404.8,395.4 405.5,395.4 406.1,395.4 406.8,395.4 407.5,395.3 408.2,395.3 408.8,395.3 409.5,395.3 410.2,395.3 410.9,395.3 411.6,395.3 412.2,395.3 412.9,395.3 413.6,395.3 414.3,395.3 414.9,395.3 415.6,395.3 416.3,395.3 417.0,395.3 417.6,395.3 418.3,395.2 419.0,395.2 419.7,395.2 420.3,395.2 421.0,395.2 421.7,395.2 422.3,395.2 422.9,395.2 423.5,395.2 424.1,395.2 424.7,395.2 425.3,395.2 425.9,395.2 426.5,395.2 427.1,395.2 427.7,395.2 428.3,395.1 428.9,395.1 429.5,395.1 430.1,395.1 430.7,395.1 431.3,395.1 431.9,395.1 432.5,395.1 433.1,395.1 433.7,395.1 434.3,395.1 434.9,395.1 435.4,395.1 436.0,395.0 436.6,395.0 437.2,395.0 437.8,395.0 438.4,395.0 439.0,395.0 439.6,395.0 440.2,395.0 440.8,395.0 441.4,395.0 442.0,395.0 442.6,395.0 443.2,394.9 443.8,394.9 444.4,394.9 445.0,394.9 445.6,394.9 446.2,394.9 446.8,394.9 447.4,394.9 448.1,394.9 448.7,394.9 449.4,394.8 450.1,394.8 450.8,394.8 451.4,394.8 452.1,394.8 452.8,394.8 453.5,394.8 454.1,394.8 454.8,394.8 455.5,394.7 456.2,394.7 456.8,394.7 457.5,394.7 458.2,394.7 458.9,394.7 459.5,394.7 460.2,394.6 460.9,394.6 461.6,394.6 462.2,394.6 462.9,394.6 463.6,394.6 464.3,394.5 465.0,394.5 465.6,394.5 466.3,394.5 467.0,394.5 467.7,394.5 468.3,394.4 469.0,394.4 469.7,394.4 470.4,394.4 471.0,394.4 471.7,394.4 472.4,394.3 473.1,394.3 473.7,394.3 474.4,394.3 475.1,394.3 475.8,394.2 476.4,394.2 477.1,394.2 477.8,394.2 478.5,394.1 479.1,394.1 479.8,394.1 480.5,394.1 481.2,394.0 481.8,394.0 482.5,394.0 483.2,394.0 483.9,393.9 484.6,393.9 485.2,393.9 485.9,393.9 486.6,393.8 487.3,393.8 487.9,393.8 488.6,393.7 489.3,393.7 490.0,393.7 490.6,393.6 491.3,393.6 492.0,393.6 492.7,393.5 493.3,393.5 494.0,393.4 494.7,393.4 495.4,393.4 496.0,393.3 496.7,393.3 497.4,393.2 498.1,393.2 498.7,393.2 499.4,393.1 500.1,393.1 500.8,393.0 501.4,393.0 502.1,392.9 502.8,392.8 503.5,392.8 504.2,392.7 504.8,392.7 505.5,392.6 506.2,392.5 506.9,392.5 507.5,392.4 508.2,392.3 508.9,392.3 509.6,392.2 510.2,392.1 510.9,392.0 511.6,392.0 512.3,391.9 512.9,391.8 513.6,391.7 514.3,391.6 515.0,391.5 515.6,391.4 516.3,391.3 517.0,391.2 517.7,391.1 518.3,390.9 518.9,390.8 519.4,390.8 519.9,390.7 520.4,390.5 520.9,390.4 521.4,390.3 521.9,390.2 522.4,390.1 522.9,390.0 523.4,389.8 523.9,389.7 524.4,389.6 524.9,389.4 525.4,389.3 526.0,389.1 526.5,389.0 527.0,388.8 527.5,388.6 528.0,388.5 528.5,388.3 529.0,388.1 529.5,387.9 530.0,387.7 530.5,387.4 531.0,387.2 531.5,387.0 532.0,386.7 532.5,386.5 533.0,386.2 533.6,385.9 534.1,385.6 534.4,385.4 534.8,385.2 535.2,384.9 535.5,384.7 535.9,384.4 536.3,384.2 536.6,383.9 537.0,383.7 537.3,383.4 537.7,383.1 538.0,382.9 538.3,382.6 538.7,382.3 539.0,382.1 539.4,381.8 539.7,381.5 540.0,381.2 540.3,381.0 540.7,380.7 541.0,380.4 541.4,380.1 541.7,379.9 542.0,379.6 542.4,379.4 542.7,379.1 543.1,378.9 543.5,378.6 543.9,378.4 544.3,378.2 544.7,378.0 545.2,377.9 545.7,377.8 546.3,377.8 546.8,377.8 547.3,378.0 547.8,378.1 548.2,378.3 548.6,378.5 549.0,378.7 549.3,379.0 549.7,379.2 550.0,379.5 550.4,379.7 550.7,380.0 551.1,380.3 551.4,380.5 551.7,380.8 552.0,381.1 552.4,381.4 552.7,381.7 553.0,381.9 553.4,382.2 553.7,382.5 554.0,382.8 554.4,383.0 554.7,383.3 555.0,383.6 555.4,383.8 555.7,384.1 556.1,384.3 556.4,384.6 556.8,384.8 557.2,385.1 557.5,385.3 557.9,385.6 558.3,385.8 558.6,386.0 559.0,386.2 559.4,386.5 559.9,386.7 560.4,387.0 560.9,387.2 561.4,387.5 561.9,387.7 562.5,387.9 563.0,388.2 563.5,388.4 564.0,388.6 564.5,388.7 565.0,388.9 565.5,389.1 566.0,389.3 566.5,389.4 567.0,389.6 567.5,389.7 568.0,389.9 568.5,390.0 569.0,390.1 569.5,390.3 570.1,390.4 570.6,390.5 571.1,390.6 571.6,390.7 572.1,390.8 572.6,390.9 573.1,391.0 573.6,391.1 574.1,391.2 574.8,391.4 575.5,391.5 576.1,391.6 576.8,391.7 577.5,391.8 578.2,391.9 578.8,392.0 579.5,392.1 580.2,392.2 580.9,392.3 581.5,392.3 582.2,392.4 582.9,392.5 583.6,392.6 584.2,392.7 584.9,392.7 585.6,392.8 586.3,392.9 587.0,392.9 587.6,393.0 588.3,393.0 589.0,393.1 589.7,393.2 590.3,393.2 591.0,393.3 591.7,393.3 592.4,393.4 593.0,393.4 593.7,393.5 594.4,393.5 595.1,393.5 595.7,393.6 596.4,393.6 597.1,393.7 597.8,393.7 598.4,393.8 599.1,393.8 599.8,393.8 600.5,393.9 601.1,393.9 601.8,393.9 602.5,394.0 603.2,394.0 603.9,394.0 604.5,394.1 605.2,394.1 605.9,394.1 606.6,394.2 607.2,394.2 607.4,394.2" fill="none" stroke="#2d62fa" stroke-width="2.7" stroke-dasharray="1.6 0.95"/>
<path d="M354.1,394.3 354.8,394.2 355.5,394.2 356.1,394.2 356.8,394.2 357.5,394.2 358.2,394.1 358.8,394.1 359.5,394.1 360.2,394.1 360.9,394.0 361.5,394.0 362.2,394.0 362.9,394.0 363.6,393.9 364.2,393.9 364.9,393.9 365.6,393.9 366.3,393.8 366.9,393.8 367.6,393.8 368.3,393.7 369.0,393.7 369.6,393.7 370.3,393.6 371.0,393.6 371.7,393.6 372.3,393.5 373.0,393.5 373.7,393.5 374.4,393.4 375.1,393.4 375.7,393.4 376.4,393.3 377.1,393.3 377.8,393.3 378.4,393.2 379.1,393.2 379.8,393.1 380.5,393.1 381.1,393.0 381.8,393.0 382.5,392.9 383.2,392.9 383.8,392.8 384.5,392.8 385.2,392.7 385.9,392.7 386.5,392.6 387.2,392.6 387.9,392.5 388.6,392.4 389.2,392.4 389.9,392.3 390.6,392.3 391.3,392.2 392.0,392.1 392.6,392.0 393.3,392.0 394.0,391.9 394.7,391.8 395.3,391.7 396.0,391.6 396.7,391.5 397.4,391.4 398.0,391.4 398.7,391.3 399.4,391.1 400.1,391.0 400.7,390.9 401.4,390.8 402.1,390.7 402.6,390.6 403.1,390.5 403.6,390.4 404.1,390.3 404.6,390.2 405.1,390.1 405.6,390.0 406.1,389.8 406.7,389.7 407.2,389.6 407.7,389.5 408.2,389.3 408.7,389.2 409.2,389.0 409.7,388.9 410.2,388.7 410.7,388.5 411.2,388.4 411.7,388.2 412.2,388.0 412.7,387.8 413.2,387.6 413.7,387.4 414.3,387.1 414.8,386.9 415.3,386.7 415.8,386.4 416.3,386.1 416.8,385.8 417.3,385.5 417.8,385.2 418.3,384.8 418.8,384.4 419.2,384.2 419.5,383.9 419.8,383.6 420.2,383.3 420.5,383.0 420.8,382.7 421.2,382.3 421.5,382.0 421.9,381.6 422.2,381.2 422.5,380.8 422.7,380.5 423.0,380.1 423.3,379.8 423.5,379.4 423.7,379.0 424.0,378.6 424.2,378.3 424.4,377.9 424.6,377.5 424.8,377.1 425.0,376.7 425.3,376.2 425.4,375.8 425.6,375.4 425.8,375.0 426.0,374.5 426.2,374.1 426.3,373.6 426.5,373.2 426.7,372.7 426.8,372.3 427.0,371.8 427.1,371.4 427.3,370.9 427.4,370.4 427.5,369.9 427.7,369.4 427.8,368.9 427.9,368.4 428.0,368.0 428.1,367.4 428.3,366.9 428.4,366.4 428.5,365.9 428.6,365.4 428.7,364.9 428.8,364.3 428.9,363.8 429.0,363.3 429.1,362.7 429.2,362.2 429.3,361.7 429.3,361.1 429.4,360.6 429.5,360.0 429.6,359.5 429.7,358.9 429.7,358.4 429.8,357.8 429.9,357.2 430.0,356.7 430.0,356.1 430.1,355.5 430.2,355.0 430.2,354.4 430.3,353.8 430.4,353.2 430.4,352.7 430.5,352.1 430.5,351.5 430.6,350.9 430.6,350.2 430.7,349.7 430.8,349.1 430.8,348.5 430.9,347.9 430.9,347.3 431.0,346.6 431.0,346.0 431.1,345.3 431.1,344.8 431.1,344.2 431.2,343.6 431.2,343.0 431.3,342.3 431.3,341.7 431.4,341.1 431.4,340.4 431.4,339.7 431.5,339.0 431.5,338.4 431.5,337.8 431.6,337.2 431.6,336.6 431.6,336.0 431.7,335.4 431.7,334.7 431.7,334.1 431.8,333.4 431.8,332.7 431.8,332.0 431.9,331.3 431.9,330.5 431.9,329.8 432.0,329.2 432.0,328.6 432.0,328.0 432.1,327.4 432.1,326.8 432.1,326.1 432.1,325.5 432.2,324.8 432.2,324.2 432.2,323.5 432.2,322.8 432.3,322.1 432.3,321.4 432.3,320.7 432.3,319.9 432.4,319.2 432.4,318.4 432.4,317.6 432.4,316.8 432.5,316.0 432.5,315.1 432.5,314.3 432.5,313.7 432.5,313.1 432.6,312.5 432.6,311.9 432.6,311.3 432.6,310.6 432.6,310.0 432.6,309.4 432.7,308.7 432.7,308.1 432.7,307.4 432.7,306.7 432.7,306.0 432.7,305.3 432.8,304.6 432.8,303.9 432.8,303.1 432.8,302.4 432.8,301.6 432.8,300.9 432.9,300.1 432.9,299.3 432.9,298.5 432.9,297.6 432.9,296.8 432.9,295.9 433.0,295.1 433.0,294.2 433.0,293.3 433.0,292.4 433.0,291.5 433.0,290.5 433.1,289.5 433.1,288.6 433.1,287.6 433.1,286.6 433.1,285.5 433.1,284.5 433.2,283.4 433.2,282.4 433.2,281.7 433.2,280.6 433.2,279.5 433.2,278.3 433.3,277.7 433.3,277.1 433.3,276.5 433.3,275.9 433.3,275.3 433.3,274.7 433.3,274.0 433.3,273.4 433.3,272.7 433.3,272.1 433.3,271.4 433.3,270.8 433.4,270.2 433.4,269.4 433.4,268.8 433.4,268.1 433.4,267.4 433.4,266.7 433.4,265.9 433.4,265.2 433.4,264.5 433.4,263.8 433.4,263.0 433.4,262.3 433.5,261.5 433.5,260.7 433.5,260.0 433.5,259.2 433.5,258.4 433.5,257.6 433.5,256.7 433.5,255.9 433.5,255.2 433.5,254.2 433.5,253.4 433.5,252.5 433.6,251.7 433.6,250.8 433.6,249.9 433.6,249.0 433.6,248.1 433.6,247.1 433.6,246.2 433.6,245.6 433.6,244.9 433.6,244.3 433.6,243.7 433.6,243.0 433.6,242.3 433.6,241.7 433.6,241.1 433.7,240.5 433.7,239.9 433.7,239.3 433.7,238.6 433.7,238.0 433.7,237.4 433.7,236.7 433.7,236.1 433.7,235.5 433.7,234.8 433.7,234.2 433.7,233.5 433.7,232.9 433.7,232.3 433.7,231.6 433.7,230.9 433.7,230.2 433.7,229.6 433.7,228.9 433.8,228.2 433.8,227.4 433.8,226.7 434.3,226.7 434.9,226.7 435.5,226.7 436.0,227.0 436.0,227.7 436.0,228.3 436.0,229.0 436.0,229.7 436.0,230.4 436.0,231.0 436.0,231.7 436.0,232.4 436.0,233.1 436.0,233.7 436.0,234.4 436.1,235.0 436.1,235.7 436.1,236.3 436.1,237.0 436.1,237.6 436.1,238.2 436.1,238.8 436.1,239.5 436.1,240.1 436.1,240.7 436.1,241.3 436.1,241.9 436.1,242.5 436.1,243.2 436.1,243.9 436.1,244.5 436.1,245.2 436.1,246.2 436.2,247.1 436.2,248.1 436.2,249.0 436.2,249.9 436.2,250.8 436.2,251.7 436.2,252.5 436.2,253.4 436.2,254.2 436.2,255.1 436.2,255.9 436.2,256.7 436.3,257.6 436.3,258.4 436.3,259.2 436.3,260.0 436.3,260.7 436.3,261.5 436.3,262.3 436.3,263.0 436.3,263.8 436.3,264.5 436.3,265.2 436.4,265.9 436.4,266.7 436.4,267.4 436.4,268.1 436.4,268.8 436.4,269.4 436.4,270.1 436.4,270.8 436.4,271.4 436.4,272.1 436.4,272.7 436.4,273.4 436.5,274.0 436.5,274.7 436.5,275.3 436.5,275.9 436.5,276.5 436.5,277.1 436.5,277.7 436.5,278.3 436.5,279.5 436.5,280.6 436.6,281.7 436.6,282.9 436.6,283.9 436.6,285.0 436.6,286.0 436.6,287.1 436.7,288.1 436.7,289.1 436.7,290.0 436.7,291.0 436.7,291.9 436.7,292.8 436.8,293.7 436.8,294.6 436.8,295.5 436.8,296.4 436.8,297.2 436.8,298.0 436.9,298.9 436.9,299.7 436.9,300.5 436.9,301.2 436.9,302.0 437.0,302.8 437.0,303.5 437.0,304.2 437.0,304.9 437.0,305.7 437.0,306.4 437.1,307.0 437.1,307.7 437.1,308.4 437.1,309.0 437.1,309.7 437.1,310.3 437.2,311.0 437.2,311.6 437.2,312.2 437.2,312.8 437.2,313.4 437.2,314.0 437.3,314.8 437.3,315.7 437.3,316.5 437.3,317.3 437.4,318.1 437.4,318.9 437.4,319.7 437.4,320.4 437.5,321.2 437.5,321.9 437.5,322.6 437.5,323.3 437.6,324.0 437.6,324.6 437.6,325.3 437.6,325.9 437.7,326.6 437.7,327.2 437.7,327.8 437.7,328.4 437.8,329.0 437.8,329.6 437.8,330.3 437.9,331.1 437.9,331.8 437.9,332.5 438.0,333.2 438.0,333.9 438.0,334.6 438.1,335.2 438.1,335.8 438.1,336.5 438.2,337.1 438.2,337.7 438.2,338.3 438.3,338.9 438.3,339.6 438.4,340.2 438.4,340.9 438.4,341.6 438.5,342.2 438.5,342.8 438.6,343.5 438.6,344.1 438.6,344.6 438.7,345.2 438.7,345.8 438.8,346.4 438.8,347.1 438.9,347.7 438.9,348.3 439.0,348.9 439.0,349.5 439.1,350.0 439.1,350.6 439.2,351.2 439.3,351.8 439.3,352.4 439.4,353.0 439.4,353.6 439.5,354.1 439.6,354.7 439.6,355.3 439.7,355.9 439.8,356.5 439.8,357.0 439.9,357.6 440.0,358.2 440.1,358.8 440.1,359.3 440.2,359.8 440.3,360.4 440.4,361.0 440.5,361.5 440.5,362.0 440.6,362.6 440.7,363.1 440.8,363.6 440.9,364.2 441.0,364.7 441.1,365.2 441.2,365.7 441.3,366.3 441.5,366.8 441.6,367.3 441.7,367.8 441.8,368.3 441.9,368.8 442.1,369.3 442.2,369.7 442.3,370.2 442.4,370.7 442.6,371.2 442.7,371.7 442.9,372.1 443.0,372.6 443.2,373.0 443.4,373.5 443.5,373.9 443.7,374.4 443.9,374.8 444.1,375.3 444.2,375.7 444.4,376.1 444.6,376.5 444.8,376.9 445.0,377.3 445.3,377.7 445.5,378.1 445.7,378.5 445.9,378.9 446.2,379.3 446.4,379.6 446.7,380.0 446.9,380.4 447.2,380.7 447.5,381.0 447.9,381.6 448.2,381.9 448.6,382.3 448.9,382.7 449.2,383.0 449.6,383.3 449.9,383.6 450.2,383.9 450.6,384.2 450.9,384.4 451.4,384.8 451.9,385.2 452.4,385.5 453.0,385.8 453.5,386.1 454.0,386.4 454.5,386.6 455.0,386.9 455.5,387.1 456.0,387.4 456.5,387.6 457.0,387.8 457.5,388.0 458.0,388.2 458.5,388.4 459.0,388.5 459.5,388.7 460.1,388.9 460.6,389.0 461.1,389.2 461.6,389.3 462.1,389.5 462.6,389.6 463.1,389.7 463.6,389.8 464.1,390.0 464.6,390.1 465.1,390.2 465.6,390.3 466.1,390.4 466.6,390.5 467.1,390.6 467.7,390.7 468.3,390.8 469.0,390.9 469.7,391.0 470.4,391.1 471.0,391.3 471.7,391.4 472.4,391.4 473.1,391.5 473.7,391.6 474.4,391.7 475.1,391.8 475.8,391.9 476.4,392.0 477.1,392.0 477.8,392.1 478.5,392.2 479.1,392.3 479.8,392.3 480.5,392.4 481.2,392.4 481.8,392.5 482.5,392.6 483.2,392.6 483.9,392.7 484.6,392.7 485.2,392.8 485.9,392.8 486.6,392.9 487.3,392.9 487.9,393.0 488.6,393.0 489.3,393.1 490.0,393.1 490.6,393.2 491.3,393.2 492.0,393.3 492.7,393.3 493.3,393.3 494.0,393.4 494.7,393.4 495.4,393.4 496.0,393.5 496.7,393.5 497.4,393.5 498.1,393.6 498.7,393.6 499.4,393.6 500.1,393.7 500.8,393.7 501.4,393.7 502.1,393.8 502.8,393.8 503.5,393.8 504.2,393.9 504.8,393.9 505.5,393.9 506.2,393.9 506.9,394.0 507.5,394.0 508.2,394.0 508.9,394.0 509.6,394.1 510.2,394.1 510.9,394.1 511.6,394.1 512.3,394.2 512.9,394.2 513.6,394.2 514.3,394.2 515.0,394.2 515.6,394.3 516.3,394.3 517.0,394.3 517.7,394.3 518.3,394.3 519.0,394.4 519.7,394.4 520.4,394.4 521.1,394.4 521.7,394.4 522.4,394.4 523.1,394.5 523.8,394.5 524.4,394.5 525.1,394.5 525.8,394.5 526.5,394.5 527.1,394.6 527.8,394.6 528.5,394.6 529.2,394.6 529.8,394.6 530.5,394.6 531.2,394.7 531.9,394.7 532.5,394.7 533.2,394.7 533.9,394.7 534.5,394.7 535.1,394.7 535.7,394.7 536.3,394.8 536.8,394.8 537.4,394.8 538.0,394.8 538.6,394.8 539.2,394.8 539.8,394.8 540.4,394.8 541.0,394.8 541.6,394.9 542.2,394.9 542.8,394.9 543.4,394.9 543.9,394.9 544.5,394.9 545.1,394.9 545.7,394.9 546.3,394.9 546.9,394.9 547.5,395.0 548.1,395.0 548.7,395.0 549.3,395.0 549.9,395.0 550.5,395.0 551.0,395.0 551.6,395.0 552.2,395.0 552.8,395.0 553.4,395.0 554.0,395.0 554.6,395.1 555.2,395.1 555.8,395.1 556.4,395.1 557.0,395.1 557.6,395.1 558.2,395.1 558.8,395.1 559.4,395.1 560.1,395.1 560.8,395.1 561.4,395.1 562.1,395.2 562.8,395.2 563.5,395.2 564.1,395.2 564.8,395.2 565.5,395.2 566.2,395.2 566.8,395.2 567.5,395.2 568.2,395.2 568.9,395.2 569.5,395.2 570.2,395.2 570.9,395.3 571.6,395.3 572.3,395.3 572.9,395.3 573.6,395.3 574.3,395.3 575.0,395.3 575.6,395.3 576.3,395.3 577.0,395.3 577.7,395.3 578.3,395.3 579.0,395.3 579.7,395.3 580.4,395.3 581.0,395.4 581.7,395.4 582.4,395.4 583.1,395.4 583.7,395.4 584.4,395.4 585.1,395.4 585.8,395.4 586.4,395.4 587.1,395.4 587.8,395.4 588.5,395.4 589.2,395.4 589.8,395.4 590.5,395.4 591.2,395.4 591.9,395.4 592.5,395.5 593.2,395.5 593.9,395.5 594.6,395.5 595.2,395.5 595.9,395.5 596.6,395.5 597.3,395.5 597.9,395.5 598.6,395.5 599.3,395.5 600.0,395.5 600.6,395.5 601.3,395.5 602.0,395.5 602.7,395.5 603.3,395.5 604.0,395.5 604.7,395.5 605.4,395.5 606.0,395.5 606.7,395.6 607.4,395.6 607.4,395.6" fill="none" stroke="#d8105e" stroke-width="2.2" stroke-dasharray="1.7 1.3"/>
</g>
<rect x="36.40" y="13.50" width="253.00" height="164.70" fill="none" stroke="#383838" stroke-width="1.2"/>
<path d="M43.63,178.20v-3.0 M43.63,13.50v3.0 M50.86,178.20v-3.0 M50.86,13.50v3.0 M58.09,178.20v-3.0 M58.09,13.50v3.0 M65.31,178.20v-3.0 M65.31,13.50v3.0 M72.54,178.20v-5.0 M72.54,13.50v5.0 M79.77,178.20v-3.0 M79.77,13.50v3.0 M87.00,178.20v-3.0 M87.00,13.50v3.0 M94.23,178.20v-3.0 M94.23,13.50v3.0 M101.46,178.20v-3.0 M101.46,13.50v3.0 M108.69,178.20v-5.0 M108.69,13.50v5.0 M115.91,178.20v-3.0 M115.91,13.50v3.0 M123.14,178.20v-3.0 M123.14,13.50v3.0 M130.37,178.20v-3.0 M130.37,13.50v3.0 M137.60,178.20v-3.0 M137.60,13.50v3.0 M144.83,178.20v-5.0 M144.83,13.50v5.0 M152.06,178.20v-3.0 M152.06,13.50v3.0 M159.29,178.20v-3.0 M159.29,13.50v3.0 M166.51,178.20v-3.0 M166.51,13.50v3.0 M173.74,178.20v-3.0 M173.74,13.50v3.0 M180.97,178.20v-5.0 M180.97,13.50v5.0 M188.20,178.20v-3.0 M188.20,13.50v3.0 M195.43,178.20v-3.0 M195.43,13.50v3.0 M202.66,178.20v-3.0 M202.66,13.50v3.0 M209.89,178.20v-3.0 M209.89,13.50v3.0 M217.11,178.20v-5.0 M217.11,13.50v5.0 M224.34,178.20v-3.0 M224.34,13.50v3.0 M231.57,178.20v-3.0 M231.57,13.50v3.0 M238.80,178.20v-3.0 M238.80,13.50v3.0 M246.03,178.20v-3.0 M246.03,13.50v3.0 M253.26,178.20v-5.0 M253.26,13.50v5.0 M260.49,178.20v-3.0 M260.49,13.50v3.0 M267.71,178.20v-3.0 M267.71,13.50v3.0 M274.94,178.20v-3.0 M274.94,13.50v3.0 M282.17,178.20v-3.0 M282.17,13.50v3.0 M36.40,172.71h3.0 M289.40,172.71h-3.0 M36.40,167.22h3.0 M289.40,167.22h-3.0 M36.40,161.73h3.0 M289.40,161.73h-3.0 M36.40,156.24h3.0 M289.40,156.24h-3.0 M36.40,150.75h4.5 M289.40,150.75h-4.5 M36.40,145.26h3.0 M289.40,145.26h-3.0 M36.40,139.77h3.0 M289.40,139.77h-3.0 M36.40,134.28h3.0 M289.40,134.28h-3.0 M36.40,128.79h3.0 M289.40,128.79h-3.0 M36.40,123.30h5.5 M289.40,123.30h-5.5 M36.40,117.81h3.0 M289.40,117.81h-3.0 M36.40,112.32h3.0 M289.40,112.32h-3.0 M36.40,106.83h3.0 M289.40,106.83h-3.0 M36.40,101.34h3.0 M289.40,101.34h-3.0 M36.40,95.85h4.5 M289.40,95.85h-4.5 M36.40,90.36h3.0 M289.40,90.36h-3.0 M36.40,84.87h3.0 M289.40,84.87h-3.0 M36.40,79.38h3.0 M289.40,79.38h-3.0 M36.40,73.89h3.0 M289.40,73.89h-3.0 M36.40,68.40h5.5 M289.40,68.40h-5.5 M36.40,62.91h3.0 M289.40,62.91h-3.0 M36.40,57.42h3.0 M289.40,57.42h-3.0 M36.40,51.93h3.0 M289.40,51.93h-3.0 M36.40,46.44h3.0 M289.40,46.44h-3.0 M36.40,40.95h4.5 M289.40,40.95h-4.5 M36.40,35.46h3.0 M289.40,35.46h-3.0 M36.40,29.97h3.0 M289.40,29.97h-3.0 M36.40,24.48h3.0 M289.40,24.48h-3.0 M36.40,18.99h3.0 M289.40,18.99h-3.0" fill="none" stroke="#383838" stroke-width="1.0"/>
<rect x="354.40" y="13.40" width="253.20" height="164.90" fill="none" stroke="#383838" stroke-width="1.2"/>
<path d="M358.62,178.30v-3.0 M358.62,13.40v3.0 M362.84,178.30v-3.0 M362.84,13.40v3.0 M367.06,178.30v-3.0 M367.06,13.40v3.0 M371.28,178.30v-3.0 M371.28,13.40v3.0 M375.50,178.30v-4.0 M375.50,13.40v4.0 M379.72,178.30v-3.0 M379.72,13.40v3.0 M383.94,178.30v-3.0 M383.94,13.40v3.0 M388.16,178.30v-3.0 M388.16,13.40v3.0 M392.38,178.30v-3.0 M392.38,13.40v3.0 M396.60,178.30v-5.0 M396.60,13.40v5.0 M400.82,178.30v-3.0 M400.82,13.40v3.0 M405.04,178.30v-3.0 M405.04,13.40v3.0 M409.26,178.30v-3.0 M409.26,13.40v3.0 M413.48,178.30v-3.0 M413.48,13.40v3.0 M417.70,178.30v-4.0 M417.70,13.40v4.0 M421.92,178.30v-3.0 M421.92,13.40v3.0 M426.14,178.30v-3.0 M426.14,13.40v3.0 M430.36,178.30v-3.0 M430.36,13.40v3.0 M434.58,178.30v-3.0 M434.58,13.40v3.0 M438.80,178.30v-5.0 M438.80,13.40v5.0 M443.02,178.30v-3.0 M443.02,13.40v3.0 M447.24,178.30v-3.0 M447.24,13.40v3.0 M451.46,178.30v-3.0 M451.46,13.40v3.0 M455.68,178.30v-3.0 M455.68,13.40v3.0 M459.90,178.30v-4.0 M459.90,13.40v4.0 M464.12,178.30v-3.0 M464.12,13.40v3.0 M468.34,178.30v-3.0 M468.34,13.40v3.0 M472.56,178.30v-3.0 M472.56,13.40v3.0 M476.78,178.30v-3.0 M476.78,13.40v3.0 M481.00,178.30v-5.0 M481.00,13.40v5.0 M485.22,178.30v-3.0 M485.22,13.40v3.0 M489.44,178.30v-3.0 M489.44,13.40v3.0 M493.66,178.30v-3.0 M493.66,13.40v3.0 M497.88,178.30v-3.0 M497.88,13.40v3.0 M502.10,178.30v-4.0 M502.10,13.40v4.0 M506.32,178.30v-3.0 M506.32,13.40v3.0 M510.54,178.30v-3.0 M510.54,13.40v3.0 M514.76,178.30v-3.0 M514.76,13.40v3.0 M518.98,178.30v-3.0 M518.98,13.40v3.0 M523.20,178.30v-5.0 M523.20,13.40v5.0 M527.42,178.30v-3.0 M527.42,13.40v3.0 M531.64,178.30v-3.0 M531.64,13.40v3.0 M535.86,178.30v-3.0 M535.86,13.40v3.0 M540.08,178.30v-3.0 M540.08,13.40v3.0 M544.30,178.30v-4.0 M544.30,13.40v4.0 M548.52,178.30v-3.0 M548.52,13.40v3.0 M552.74,178.30v-3.0 M552.74,13.40v3.0 M556.96,178.30v-3.0 M556.96,13.40v3.0 M561.18,178.30v-3.0 M561.18,13.40v3.0 M565.40,178.30v-5.0 M565.40,13.40v5.0 M569.62,178.30v-3.0 M569.62,13.40v3.0 M573.84,178.30v-3.0 M573.84,13.40v3.0 M578.06,178.30v-3.0 M578.06,13.40v3.0 M582.28,178.30v-3.0 M582.28,13.40v3.0 M586.50,178.30v-4.0 M586.50,13.40v4.0 M590.72,178.30v-3.0 M590.72,13.40v3.0 M594.94,178.30v-3.0 M594.94,13.40v3.0 M599.16,178.30v-3.0 M599.16,13.40v3.0 M603.38,178.30v-3.0 M603.38,13.40v3.0 M354.40,172.80h3.0 M607.60,172.80h-3.0 M354.40,167.31h3.0 M607.60,167.31h-3.0 M354.40,161.81h3.0 M607.60,161.81h-3.0 M354.40,156.31h3.0 M607.60,156.31h-3.0 M354.40,150.82h4.5 M607.60,150.82h-4.5 M354.40,145.32h3.0 M607.60,145.32h-3.0 M354.40,139.82h3.0 M607.60,139.82h-3.0 M354.40,134.33h3.0 M607.60,134.33h-3.0 M354.40,128.83h3.0 M607.60,128.83h-3.0 M354.40,123.33h5.5 M607.60,123.33h-5.5 M354.40,117.84h3.0 M607.60,117.84h-3.0 M354.40,112.34h3.0 M607.60,112.34h-3.0 M354.40,106.84h3.0 M607.60,106.84h-3.0 M354.40,101.35h3.0 M607.60,101.35h-3.0 M354.40,95.85h4.5 M607.60,95.85h-4.5 M354.40,90.35h3.0 M607.60,90.35h-3.0 M354.40,84.86h3.0 M607.60,84.86h-3.0 M354.40,79.36h3.0 M607.60,79.36h-3.0 M354.40,73.86h3.0 M607.60,73.86h-3.0 M354.40,68.37h5.5 M607.60,68.37h-5.5 M354.40,62.87h3.0 M607.60,62.87h-3.0 M354.40,57.37h3.0 M607.60,57.37h-3.0 M354.40,51.88h3.0 M607.60,51.88h-3.0 M354.40,46.38h3.0 M607.60,46.38h-3.0 M354.40,40.88h4.5 M607.60,40.88h-4.5 M354.40,35.39h3.0 M607.60,35.39h-3.0 M354.40,29.89h3.0 M607.60,29.89h-3.0 M354.40,24.39h3.0 M607.60,24.39h-3.0 M354.40,18.90h3.0 M607.60,18.90h-3.0" fill="none" stroke="#383838" stroke-width="1.0"/>
<rect x="36.30" y="232.10" width="253.00" height="164.50" fill="none" stroke="#383838" stroke-width="1.2"/>
<path d="M43.53,396.60v-3.0 M43.53,232.10v3.0 M50.76,396.60v-3.0 M50.76,232.10v3.0 M57.99,396.60v-3.0 M57.99,232.10v3.0 M65.21,396.60v-3.0 M65.21,232.10v3.0 M72.44,396.60v-5.0 M72.44,232.10v5.0 M79.67,396.60v-3.0 M79.67,232.10v3.0 M86.90,396.60v-3.0 M86.90,232.10v3.0 M94.13,396.60v-3.0 M94.13,232.10v3.0 M101.36,396.60v-3.0 M101.36,232.10v3.0 M108.59,396.60v-5.0 M108.59,232.10v5.0 M115.81,396.60v-3.0 M115.81,232.10v3.0 M123.04,396.60v-3.0 M123.04,232.10v3.0 M130.27,396.60v-3.0 M130.27,232.10v3.0 M137.50,396.60v-3.0 M137.50,232.10v3.0 M144.73,396.60v-5.0 M144.73,232.10v5.0 M151.96,396.60v-3.0 M151.96,232.10v3.0 M159.19,396.60v-3.0 M159.19,232.10v3.0 M166.41,396.60v-3.0 M166.41,232.10v3.0 M173.64,396.60v-3.0 M173.64,232.10v3.0 M180.87,396.60v-5.0 M180.87,232.10v5.0 M188.10,396.60v-3.0 M188.10,232.10v3.0 M195.33,396.60v-3.0 M195.33,232.10v3.0 M202.56,396.60v-3.0 M202.56,232.10v3.0 M209.79,396.60v-3.0 M209.79,232.10v3.0 M217.01,396.60v-5.0 M217.01,232.10v5.0 M224.24,396.60v-3.0 M224.24,232.10v3.0 M231.47,396.60v-3.0 M231.47,232.10v3.0 M238.70,396.60v-3.0 M238.70,232.10v3.0 M245.93,396.60v-3.0 M245.93,232.10v3.0 M253.16,396.60v-5.0 M253.16,232.10v5.0 M260.39,396.60v-3.0 M260.39,232.10v3.0 M267.61,396.60v-3.0 M267.61,232.10v3.0 M274.84,396.60v-3.0 M274.84,232.10v3.0 M282.07,396.60v-3.0 M282.07,232.10v3.0 M36.30,391.12h3.0 M289.30,391.12h-3.0 M36.30,385.63h3.0 M289.30,385.63h-3.0 M36.30,380.15h3.0 M289.30,380.15h-3.0 M36.30,374.67h3.0 M289.30,374.67h-3.0 M36.30,369.18h4.5 M289.30,369.18h-4.5 M36.30,363.70h3.0 M289.30,363.70h-3.0 M36.30,358.22h3.0 M289.30,358.22h-3.0 M36.30,352.73h3.0 M289.30,352.73h-3.0 M36.30,347.25h3.0 M289.30,347.25h-3.0 M36.30,341.77h5.5 M289.30,341.77h-5.5 M36.30,336.28h3.0 M289.30,336.28h-3.0 M36.30,330.80h3.0 M289.30,330.80h-3.0 M36.30,325.32h3.0 M289.30,325.32h-3.0 M36.30,319.83h3.0 M289.30,319.83h-3.0 M36.30,314.35h4.5 M289.30,314.35h-4.5 M36.30,308.87h3.0 M289.30,308.87h-3.0 M36.30,303.38h3.0 M289.30,303.38h-3.0 M36.30,297.90h3.0 M289.30,297.90h-3.0 M36.30,292.42h3.0 M289.30,292.42h-3.0 M36.30,286.93h5.5 M289.30,286.93h-5.5 M36.30,281.45h3.0 M289.30,281.45h-3.0 M36.30,275.97h3.0 M289.30,275.97h-3.0 M36.30,270.48h3.0 M289.30,270.48h-3.0 M36.30,265.00h3.0 M289.30,265.00h-3.0 M36.30,259.52h4.5 M289.30,259.52h-4.5 M36.30,254.03h3.0 M289.30,254.03h-3.0 M36.30,248.55h3.0 M289.30,248.55h-3.0 M36.30,243.07h3.0 M289.30,243.07h-3.0 M36.30,237.58h3.0 M289.30,237.58h-3.0" fill="none" stroke="#383838" stroke-width="1.0"/>
<rect x="354.10" y="232.20" width="253.30" height="164.50" fill="none" stroke="#383838" stroke-width="1.2"/>
<path d="M358.32,396.70v-3.0 M358.32,232.20v3.0 M362.54,396.70v-3.0 M362.54,232.20v3.0 M366.77,396.70v-3.0 M366.77,232.20v3.0 M370.99,396.70v-3.0 M370.99,232.20v3.0 M375.21,396.70v-4.0 M375.21,232.20v4.0 M379.43,396.70v-3.0 M379.43,232.20v3.0 M383.65,396.70v-3.0 M383.65,232.20v3.0 M387.87,396.70v-3.0 M387.87,232.20v3.0 M392.10,396.70v-3.0 M392.10,232.20v3.0 M396.32,396.70v-5.0 M396.32,232.20v5.0 M400.54,396.70v-3.0 M400.54,232.20v3.0 M404.76,396.70v-3.0 M404.76,232.20v3.0 M408.98,396.70v-3.0 M408.98,232.20v3.0 M413.20,396.70v-3.0 M413.20,232.20v3.0 M417.43,396.70v-4.0 M417.43,232.20v4.0 M421.65,396.70v-3.0 M421.65,232.20v3.0 M425.87,396.70v-3.0 M425.87,232.20v3.0 M430.09,396.70v-3.0 M430.09,232.20v3.0 M434.31,396.70v-3.0 M434.31,232.20v3.0 M438.53,396.70v-5.0 M438.53,232.20v5.0 M442.75,396.70v-3.0 M442.75,232.20v3.0 M446.98,396.70v-3.0 M446.98,232.20v3.0 M451.20,396.70v-3.0 M451.20,232.20v3.0 M455.42,396.70v-3.0 M455.42,232.20v3.0 M459.64,396.70v-4.0 M459.64,232.20v4.0 M463.86,396.70v-3.0 M463.86,232.20v3.0 M468.09,396.70v-3.0 M468.09,232.20v3.0 M472.31,396.70v-3.0 M472.31,232.20v3.0 M476.53,396.70v-3.0 M476.53,232.20v3.0 M480.75,396.70v-5.0 M480.75,232.20v5.0 M484.97,396.70v-3.0 M484.97,232.20v3.0 M489.19,396.70v-3.0 M489.19,232.20v3.0 M493.42,396.70v-3.0 M493.42,232.20v3.0 M497.64,396.70v-3.0 M497.64,232.20v3.0 M501.86,396.70v-4.0 M501.86,232.20v4.0 M506.08,396.70v-3.0 M506.08,232.20v3.0 M510.30,396.70v-3.0 M510.30,232.20v3.0 M514.52,396.70v-3.0 M514.52,232.20v3.0 M518.75,396.70v-3.0 M518.75,232.20v3.0 M522.97,396.70v-5.0 M522.97,232.20v5.0 M527.19,396.70v-3.0 M527.19,232.20v3.0 M531.41,396.70v-3.0 M531.41,232.20v3.0 M535.63,396.70v-3.0 M535.63,232.20v3.0 M539.85,396.70v-3.0 M539.85,232.20v3.0 M544.08,396.70v-4.0 M544.08,232.20v4.0 M548.30,396.70v-3.0 M548.30,232.20v3.0 M552.52,396.70v-3.0 M552.52,232.20v3.0 M556.74,396.70v-3.0 M556.74,232.20v3.0 M560.96,396.70v-3.0 M560.96,232.20v3.0 M565.18,396.70v-5.0 M565.18,232.20v5.0 M569.40,396.70v-3.0 M569.40,232.20v3.0 M573.63,396.70v-3.0 M573.63,232.20v3.0 M577.85,396.70v-3.0 M577.85,232.20v3.0 M582.07,396.70v-3.0 M582.07,232.20v3.0 M586.29,396.70v-4.0 M586.29,232.20v4.0 M590.51,396.70v-3.0 M590.51,232.20v3.0 M594.74,396.70v-3.0 M594.74,232.20v3.0 M598.96,396.70v-3.0 M598.96,232.20v3.0 M603.18,396.70v-3.0 M603.18,232.20v3.0 M354.10,391.22h3.0 M607.40,391.22h-3.0 M354.10,385.73h3.0 M607.40,385.73h-3.0 M354.10,380.25h3.0 M607.40,380.25h-3.0 M354.10,374.77h3.0 M607.40,374.77h-3.0 M354.10,369.28h4.5 M607.40,369.28h-4.5 M354.10,363.80h3.0 M607.40,363.80h-3.0 M354.10,358.32h3.0 M607.40,358.32h-3.0 M354.10,352.83h3.0 M607.40,352.83h-3.0 M354.10,347.35h3.0 M607.40,347.35h-3.0 M354.10,341.87h5.5 M607.40,341.87h-5.5 M354.10,336.38h3.0 M607.40,336.38h-3.0 M354.10,330.90h3.0 M607.40,330.90h-3.0 M354.10,325.42h3.0 M607.40,325.42h-3.0 M354.10,319.93h3.0 M607.40,319.93h-3.0 M354.10,314.45h4.5 M607.40,314.45h-4.5 M354.10,308.97h3.0 M607.40,308.97h-3.0 M354.10,303.48h3.0 M607.40,303.48h-3.0 M354.10,298.00h3.0 M607.40,298.00h-3.0 M354.10,292.52h3.0 M607.40,292.52h-3.0 M354.10,287.03h5.5 M607.40,287.03h-5.5 M354.10,281.55h3.0 M607.40,281.55h-3.0 M354.10,276.07h3.0 M607.40,276.07h-3.0 M354.10,270.58h3.0 M607.40,270.58h-3.0 M354.10,265.10h3.0 M607.40,265.10h-3.0 M354.10,259.62h4.5 M607.40,259.62h-4.5 M354.10,254.13h3.0 M607.40,254.13h-3.0 M354.10,248.65h3.0 M607.40,248.65h-3.0 M354.10,243.17h3.0 M607.40,243.17h-3.0 M354.10,237.68h3.0 M607.40,237.68h-3.0" fill="none" stroke="#383838" stroke-width="1.0"/>
<text x="36.40" y="191.80" text-anchor="middle" class="tl">0.7</text>
<text x="72.54" y="191.80" text-anchor="middle" class="tl">0.8</text>
<text x="108.69" y="191.80" text-anchor="middle" class="tl">0.9</text>
<text x="144.83" y="191.80" text-anchor="middle" class="tl">1.0</text>
<text x="180.97" y="191.80" text-anchor="middle" class="tl">1.1</text>
<text x="217.11" y="191.80" text-anchor="middle" class="tl">1.2</text>
<text x="253.26" y="191.80" text-anchor="middle" class="tl">1.3</text>
<text x="289.40" y="191.80" text-anchor="middle" class="tl">1.4</text>
<text x="354.40" y="191.80" text-anchor="middle" class="tl">0.8</text>
<text x="396.60" y="191.80" text-anchor="middle" class="tl">0.9</text>
<text x="438.80" y="191.80" text-anchor="middle" class="tl">1.0</text>
<text x="481.00" y="191.80" text-anchor="middle" class="tl">1.1</text>
<text x="523.20" y="191.80" text-anchor="middle" class="tl">1.2</text>
<text x="565.40" y="191.80" text-anchor="middle" class="tl">1.3</text>
<text x="607.60" y="191.80" text-anchor="middle" class="tl">1.4</text>
<text x="36.30" y="410.20" text-anchor="middle" class="tl">0.7</text>
<text x="72.44" y="410.20" text-anchor="middle" class="tl">0.8</text>
<text x="108.59" y="410.20" text-anchor="middle" class="tl">0.9</text>
<text x="144.73" y="410.20" text-anchor="middle" class="tl">1.0</text>
<text x="180.87" y="410.20" text-anchor="middle" class="tl">1.1</text>
<text x="217.01" y="410.20" text-anchor="middle" class="tl">1.2</text>
<text x="253.16" y="410.20" text-anchor="middle" class="tl">1.3</text>
<text x="289.30" y="410.20" text-anchor="middle" class="tl">1.4</text>
<text x="354.10" y="410.20" text-anchor="middle" class="tl">0.8</text>
<text x="396.32" y="410.20" text-anchor="middle" class="tl">0.9</text>
<text x="438.53" y="410.20" text-anchor="middle" class="tl">1.0</text>
<text x="480.75" y="410.20" text-anchor="middle" class="tl">1.1</text>
<text x="522.97" y="410.20" text-anchor="middle" class="tl">1.2</text>
<text x="565.18" y="410.20" text-anchor="middle" class="tl">1.3</text>
<text x="607.40" y="410.20" text-anchor="middle" class="tl">1.4</text>
<text x="32.50" y="181.20" text-anchor="end" class="yl">0</text>
<text x="32.50" y="126.30" text-anchor="end" class="yl">10</text>
<text x="32.50" y="71.40" text-anchor="end" class="yl">20</text>
<text x="32.50" y="16.50" text-anchor="end" class="yl">30</text>
<text x="350.70" y="181.30" text-anchor="end" class="yl yr">0</text>
<text x="350.70" y="126.33" text-anchor="end" class="yl yr">10</text>
<text x="350.70" y="71.37" text-anchor="end" class="yl yr">20</text>
<text x="350.70" y="16.40" text-anchor="end" class="yl yr">30</text>
<text x="32.50" y="399.60" text-anchor="end" class="yl">0</text>
<text x="32.50" y="344.77" text-anchor="end" class="yl">10</text>
<text x="32.50" y="289.93" text-anchor="end" class="yl">20</text>
<text x="32.50" y="235.10" text-anchor="end" class="yl">30</text>
<text x="350.70" y="399.70" text-anchor="end" class="yl yr">0</text>
<text x="350.70" y="344.87" text-anchor="end" class="yl yr">10</text>
<text x="350.70" y="290.03" text-anchor="end" class="yl yr">20</text>
<text x="350.70" y="235.20" text-anchor="end" class="yl yr">30</text>
<text x="130.60" y="210.80" class="xt">Frequency,</text><text x="187.60" y="210.80" class="om">&#969;</text>
<text x="448.70" y="210.80" class="xt">Frequency,</text><text x="505.70" y="210.80" class="om">&#969;</text>
<text x="130.60" y="429.20" class="xt">Frequency,</text><text x="187.60" y="429.20" class="om">&#969;</text>
<text x="448.70" y="429.20" class="xt">Frequency,</text><text x="505.70" y="429.20" class="om">&#969;</text>
<rect x="1.90" y="88.65" width="11.8" height="1.3" class="bar"/><rect x="1.90" y="101.55" width="11.8" height="1.3" class="bar"/><text transform="translate(12.25,100.35) rotate(-90)" class="ytc">c</text><text transform="translate(14.90,94.80) rotate(-90)" class="yts">1</text>
<rect x="320.10" y="88.65" width="11.8" height="1.3" class="bar"/><rect x="320.10" y="101.45" width="11.8" height="1.3" class="bar"/><text transform="translate(330.45,100.30) rotate(-90)" class="ytc">c</text><text transform="translate(333.10,94.80) rotate(-90)" class="yts">1</text>
<rect x="1.90" y="307.25" width="11.8" height="1.3" class="bar"/><rect x="1.90" y="320.15" width="11.8" height="1.3" class="bar"/><text transform="translate(12.25,319.55) rotate(-90)" class="ytc">c</text><text transform="translate(14.90,313.40) rotate(-90)" class="yts">2</text>
<rect x="319.60" y="307.25" width="11.8" height="1.3" class="bar"/><rect x="319.60" y="320.05" width="11.8" height="1.3" class="bar"/><text transform="translate(329.95,319.50) rotate(-90)" class="ytc">c</text><text transform="translate(332.60,313.40) rotate(-90)" class="yts">2</text>
<text x="0.3" y="10.4" class="pl">(a)</text>
<text x="319.2" y="10.4" class="pl">(b)</text>
<text x="73.00" y="79.50" class="q">q<tspan class="qs" dx="0.4" dy="3.0">1</tspan><tspan dy="-3.0" dx="0.6"> = &#8722;14.2</tspan></text>
<text x="217.70" y="49.50" class="q">q<tspan class="qs" dx="0.4" dy="3.0">2</tspan><tspan dy="-3.0" dx="0.6"> = 11.3</tspan></text>
<text x="376.90" y="76.50" class="q">q<tspan class="qs" dx="0.4" dy="3.0">2</tspan><tspan dy="-3.0" dx="0.6"> = &#8722;14.1</tspan></text>
<text x="522.50" y="54.50" class="q">q<tspan class="qs" dx="0.4" dy="3.0">1</tspan><tspan dy="-3.0" dx="0.6"> = 11.2</tspan></text>
<text x="67.20" y="266.80" style="font-family:'Liberation Serif',serif;font-size:10.30px;fill:#1a1a1a;stroke:#1a1a1a;stroke-width:0.18px;">&#969;</text>
<text x="74.77" y="270.00" style="font-family:'Liberation Serif',serif;font-size:7.20px;fill:#1a1a1a;stroke:#1a1a1a;stroke-width:0.18px;">1</text>
<text x="77.88" y="266.80" style="font-family:'Liberation Serif',serif;font-size:10.30px;fill:#1a1a1a;stroke:#1a1a1a;stroke-width:0.18px;">=</text>
<text x="83.59" y="266.80" style="font-family:'Liberation Serif',serif;font-size:10.30px;fill:#1a1a1a;stroke:#1a1a1a;stroke-width:0.18px;">1.0,</text>
<text x="101.60" y="266.80" style="font-family:'Liberation Serif',serif;font-size:10.30px;fill:#1a1a1a;stroke:#1a1a1a;stroke-width:0.18px;">&#969;</text>
<text x="108.78" y="270.00" style="font-family:'Liberation Serif',serif;font-size:7.20px;fill:#1a1a1a;stroke:#1a1a1a;stroke-width:0.18px;">2</text>
<text x="112.48" y="266.80" style="font-family:'Liberation Serif',serif;font-size:10.30px;fill:#1a1a1a;stroke:#1a1a1a;stroke-width:0.18px;">=</text>
<text x="117.99" y="266.80" style="font-family:'Liberation Serif',serif;font-size:10.30px;fill:#1a1a1a;stroke:#1a1a1a;stroke-width:0.18px;">1.25</text>
<text x="67.06" y="288.00" class="pv">V = 0.1</text>
<text x="67.10" y="307.20" style="font-family:'Liberation Serif',serif;font-size:10.30px;fill:#1a1a1a;stroke:#1a1a1a;stroke-width:0.18px;">&#947;</text>
<text x="70.98" y="310.30" style="font-family:'Liberation Serif',serif;font-size:8.20px;fill:#1a1a1a;stroke:#1a1a1a;stroke-width:0.18px;">1</text>
<text x="76.38" y="307.20" style="font-family:'Liberation Serif',serif;font-size:10.30px;fill:#1a1a1a;stroke:#1a1a1a;stroke-width:0.18px;">=</text>
<text x="84.61" y="307.20" style="font-family:'Liberation Serif',serif;font-size:10.30px;fill:#1a1a1a;stroke:#1a1a1a;stroke-width:0.18px;">0.02</text>
<text x="67.10" y="325.70" style="font-family:'Liberation Serif',serif;font-size:10.30px;fill:#1a1a1a;stroke:#1a1a1a;stroke-width:0.18px;">&#947;</text>
<text x="71.34" y="328.80" style="font-family:'Liberation Serif',serif;font-size:8.20px;fill:#1a1a1a;stroke:#1a1a1a;stroke-width:0.18px;">2</text>
<text x="76.38" y="325.70" style="font-family:'Liberation Serif',serif;font-size:10.30px;fill:#1a1a1a;stroke:#1a1a1a;stroke-width:0.18px;">=</text>
<text x="84.61" y="325.70" style="font-family:'Liberation Serif',serif;font-size:10.30px;fill:#1a1a1a;stroke:#1a1a1a;stroke-width:0.18px;">0</text>
<text x="490.50" y="279.50" style="font-family:'Liberation Serif',serif;font-size:10.30px;fill:#1a1a1a;stroke:#1a1a1a;stroke-width:0.18px;">&#969;</text>
<text x="497.47" y="282.70" style="font-family:'Liberation Serif',serif;font-size:7.20px;fill:#1a1a1a;stroke:#1a1a1a;stroke-width:0.18px;">1</text>
<text x="500.49" y="279.50" style="font-family:'Liberation Serif',serif;font-size:10.30px;fill:#1a1a1a;stroke:#1a1a1a;stroke-width:0.18px;">=</text>
<text x="506.59" y="279.50" style="font-family:'Liberation Serif',serif;font-size:10.30px;fill:#1a1a1a;stroke:#1a1a1a;stroke-width:0.18px;">1.25,</text>
<text x="529.50" y="279.50" style="font-family:'Liberation Serif',serif;font-size:10.30px;fill:#1a1a1a;stroke:#1a1a1a;stroke-width:0.18px;">&#969;</text>
<text x="537.38" y="282.70" style="font-family:'Liberation Serif',serif;font-size:7.20px;fill:#1a1a1a;stroke:#1a1a1a;stroke-width:0.18px;">2</text>
<text x="540.78" y="279.50" style="font-family:'Liberation Serif',serif;font-size:10.30px;fill:#1a1a1a;stroke:#1a1a1a;stroke-width:0.18px;">=</text>
<text x="546.59" y="279.50" style="font-family:'Liberation Serif',serif;font-size:10.30px;fill:#1a1a1a;stroke:#1a1a1a;stroke-width:0.18px;">1.0</text>
<text x="490.86" y="302.90" class="pv">V = 0.1</text>
<text x="490.90" y="323.60" style="font-family:'Liberation Serif',serif;font-size:10.30px;fill:#1a1a1a;stroke:#1a1a1a;stroke-width:0.18px;">&#947;</text>
<text x="494.78" y="326.70" style="font-family:'Liberation Serif',serif;font-size:8.20px;fill:#1a1a1a;stroke:#1a1a1a;stroke-width:0.18px;">1</text>
<text x="500.19" y="323.60" style="font-family:'Liberation Serif',serif;font-size:10.30px;fill:#1a1a1a;stroke:#1a1a1a;stroke-width:0.18px;">=</text>
<text x="508.41" y="323.60" style="font-family:'Liberation Serif',serif;font-size:10.30px;fill:#1a1a1a;stroke:#1a1a1a;stroke-width:0.18px;">0.02</text>
<text x="490.90" y="342.40" style="font-family:'Liberation Serif',serif;font-size:10.30px;fill:#1a1a1a;stroke:#1a1a1a;stroke-width:0.18px;">&#947;</text>
<text x="495.14" y="345.50" style="font-family:'Liberation Serif',serif;font-size:8.20px;fill:#1a1a1a;stroke:#1a1a1a;stroke-width:0.18px;">2</text>
<text x="500.19" y="342.40" style="font-family:'Liberation Serif',serif;font-size:10.30px;fill:#1a1a1a;stroke:#1a1a1a;stroke-width:0.18px;">=</text>
<text x="508.41" y="342.40" style="font-family:'Liberation Serif',serif;font-size:10.30px;fill:#1a1a1a;stroke:#1a1a1a;stroke-width:0.18px;">0</text>
</svg>
</body></html>
